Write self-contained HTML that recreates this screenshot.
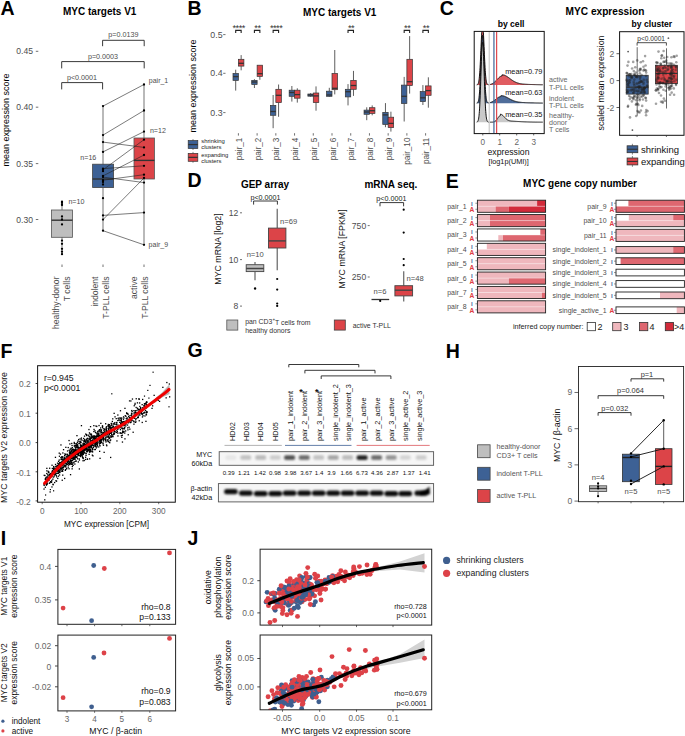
<!DOCTYPE html>
<html><head><meta charset="utf-8"><style>
html,body{margin:0;padding:0;background:#fff;width:685px;height:736px;overflow:hidden}
svg{display:block;font-family:"Liberation Sans",sans-serif}
</style></head><body>
<svg width="685" height="736" viewBox="0 0 685 736">
<rect width="685" height="736" fill="#fff"/>
<text x="0.60" y="14.70" font-size="19.5" text-anchor="start" dominant-baseline="alphabetic" fill="#000" font-weight="bold">A</text>
<text x="99.70" y="11.80" font-size="10" text-anchor="middle" dominant-baseline="central" fill="#000" font-weight="bold">MYC targets V1</text>
<text transform="translate(6.00,120.00) rotate(-90)" font-size="9" text-anchor="middle" dominant-baseline="central" fill="#000">mean expression score</text>
<text x="33.00" y="51.30" font-size="8.6" text-anchor="end" dominant-baseline="central" fill="#4d4d4d">0.45</text>
<line x1="35.80" y1="51.30" x2="38.30" y2="51.30" stroke="#4d4d4d" stroke-width="0.8"/>
<text x="33.00" y="107.20" font-size="8.6" text-anchor="end" dominant-baseline="central" fill="#4d4d4d">0.40</text>
<line x1="35.80" y1="107.20" x2="38.30" y2="107.20" stroke="#4d4d4d" stroke-width="0.8"/>
<text x="33.00" y="163.60" font-size="8.6" text-anchor="end" dominant-baseline="central" fill="#4d4d4d">0.35</text>
<line x1="35.80" y1="163.60" x2="38.30" y2="163.60" stroke="#4d4d4d" stroke-width="0.8"/>
<text x="33.00" y="219.50" font-size="8.6" text-anchor="end" dominant-baseline="central" fill="#4d4d4d">0.30</text>
<line x1="35.80" y1="219.50" x2="38.30" y2="219.50" stroke="#4d4d4d" stroke-width="0.8"/>
<path d="M102.6,46.2 L102.6,40.3 L144.2,40.3 L144.2,46.2" fill="none" stroke="#222" stroke-width="0.9"/>
<text x="123.40" y="34.30" font-size="7.2" text-anchor="middle" dominant-baseline="central" fill="#4d4d4d">p=0.0139</text>
<path d="M61.7,68.4 L61.7,61.6 L144.2,61.6 L144.2,68.4" fill="none" stroke="#222" stroke-width="0.9"/>
<text x="103.00" y="56.00" font-size="7.2" text-anchor="middle" dominant-baseline="central" fill="#4d4d4d">p=0.0003</text>
<path d="M61.7,89.4 L61.7,82.6 L102.6,82.6 L102.6,89.4" fill="none" stroke="#222" stroke-width="0.9"/>
<text x="82.00" y="77.60" font-size="7.2" text-anchor="middle" dominant-baseline="central" fill="#4d4d4d">p&lt;0.0001</text>
<line x1="62.00" y1="201.00" x2="62.00" y2="254.00" stroke="#8a8a8a" stroke-width="1.2"/>
<rect x="51.50" y="210.00" width="21.00" height="27.30" fill="#bebebe" stroke="#555" stroke-width="0.8"/>
<line x1="51.50" y1="220.20" x2="72.50" y2="220.20" stroke="#333" stroke-width="1.4"/>
<circle cx="62.00" cy="201.60" r="1.15" fill="#000"/>
<circle cx="62.00" cy="202.90" r="1.15" fill="#000"/>
<circle cx="62.00" cy="205.00" r="1.15" fill="#000"/>
<circle cx="62.00" cy="216.50" r="1.15" fill="#000"/>
<circle cx="62.00" cy="219.50" r="1.15" fill="#000"/>
<circle cx="62.00" cy="224.40" r="1.15" fill="#000"/>
<circle cx="62.00" cy="240.60" r="1.15" fill="#000"/>
<circle cx="62.00" cy="243.80" r="1.15" fill="#000"/>
<circle cx="62.00" cy="248.80" r="1.15" fill="#000"/>
<circle cx="62.00" cy="251.70" r="1.15" fill="#000"/>
<circle cx="62.00" cy="254.20" r="1.15" fill="#000"/>
<line x1="103.00" y1="106.00" x2="103.00" y2="230.70" stroke="#8a8a8a" stroke-width="1.2"/>
<line x1="144.00" y1="84.50" x2="144.00" y2="244.80" stroke="#8a8a8a" stroke-width="1.2"/>
<rect x="92.60" y="164.20" width="21.00" height="23.40" fill="#3d6195" stroke="#444" stroke-width="0.8"/>
<line x1="92.60" y1="179.00" x2="113.60" y2="179.00" stroke="#333" stroke-width="1.4"/>
<rect x="134.00" y="138.00" width="20.40" height="41.00" fill="#dc4448" stroke="#555" stroke-width="0.8"/>
<line x1="134.00" y1="160.40" x2="154.40" y2="160.40" stroke="#333" stroke-width="1.4"/>
<line x1="103.00" y1="106.10" x2="144.00" y2="84.50" stroke="#222" stroke-width="0.6"/>
<line x1="103.00" y1="135.10" x2="144.00" y2="110.50" stroke="#222" stroke-width="0.6"/>
<line x1="103.00" y1="142.10" x2="144.00" y2="147.40" stroke="#222" stroke-width="0.6"/>
<line x1="103.00" y1="151.90" x2="144.00" y2="131.60" stroke="#222" stroke-width="0.6"/>
<line x1="103.00" y1="168.60" x2="144.00" y2="165.80" stroke="#222" stroke-width="0.6"/>
<line x1="103.00" y1="169.80" x2="144.00" y2="139.70" stroke="#222" stroke-width="0.6"/>
<line x1="103.00" y1="175.90" x2="144.00" y2="155.00" stroke="#222" stroke-width="0.6"/>
<line x1="103.00" y1="180.20" x2="144.00" y2="174.70" stroke="#222" stroke-width="0.6"/>
<line x1="103.00" y1="177.10" x2="144.00" y2="182.60" stroke="#222" stroke-width="0.6"/>
<line x1="103.00" y1="215.40" x2="144.00" y2="212.60" stroke="#222" stroke-width="0.6"/>
<line x1="103.00" y1="219.60" x2="144.00" y2="178.00" stroke="#222" stroke-width="0.6"/>
<line x1="103.00" y1="230.70" x2="144.00" y2="244.80" stroke="#222" stroke-width="0.6"/>
<circle cx="103.00" cy="106.10" r="1.15" fill="#000"/>
<circle cx="103.00" cy="135.10" r="1.15" fill="#000"/>
<circle cx="103.00" cy="142.10" r="1.15" fill="#000"/>
<circle cx="103.00" cy="151.90" r="1.15" fill="#000"/>
<circle cx="103.00" cy="168.60" r="1.15" fill="#000"/>
<circle cx="103.00" cy="169.80" r="1.15" fill="#000"/>
<circle cx="103.00" cy="171.20" r="1.15" fill="#000"/>
<circle cx="103.00" cy="175.90" r="1.15" fill="#000"/>
<circle cx="103.00" cy="177.10" r="1.15" fill="#000"/>
<circle cx="103.00" cy="180.20" r="1.15" fill="#000"/>
<circle cx="103.00" cy="182.00" r="1.15" fill="#000"/>
<circle cx="103.00" cy="184.50" r="1.15" fill="#000"/>
<circle cx="103.00" cy="198.20" r="1.15" fill="#000"/>
<circle cx="103.00" cy="215.40" r="1.15" fill="#000"/>
<circle cx="103.00" cy="219.60" r="1.15" fill="#000"/>
<circle cx="103.00" cy="230.70" r="1.15" fill="#000"/>
<circle cx="144.00" cy="84.50" r="1.15" fill="#000"/>
<circle cx="144.00" cy="110.50" r="1.15" fill="#000"/>
<circle cx="144.00" cy="131.60" r="1.15" fill="#000"/>
<circle cx="144.00" cy="139.70" r="1.15" fill="#000"/>
<circle cx="144.00" cy="147.40" r="1.15" fill="#000"/>
<circle cx="144.00" cy="155.00" r="1.15" fill="#000"/>
<circle cx="144.00" cy="165.80" r="1.15" fill="#000"/>
<circle cx="144.00" cy="174.70" r="1.15" fill="#000"/>
<circle cx="144.00" cy="178.00" r="1.15" fill="#000"/>
<circle cx="144.00" cy="182.60" r="1.15" fill="#000"/>
<circle cx="144.00" cy="212.60" r="1.15" fill="#000"/>
<circle cx="144.00" cy="244.80" r="1.15" fill="#000"/>
<text x="68.40" y="202.10" font-size="7.1" text-anchor="start" dominant-baseline="central" fill="#4d4d4d">n=10</text>
<text x="80.30" y="157.80" font-size="7.1" text-anchor="start" dominant-baseline="central" fill="#4d4d4d">n=16</text>
<text x="149.90" y="130.70" font-size="7.1" text-anchor="start" dominant-baseline="central" fill="#4d4d4d">n=12</text>
<text x="148.80" y="80.60" font-size="7.0" text-anchor="start" dominant-baseline="central" fill="#4d4d4d">pair_1</text>
<text x="148.60" y="244.10" font-size="7.0" text-anchor="start" dominant-baseline="central" fill="#4d4d4d">pair_9</text>
<line x1="62.00" y1="264.50" x2="62.00" y2="267.00" stroke="#4d4d4d" stroke-width="0.8"/>
<line x1="103.00" y1="264.50" x2="103.00" y2="267.00" stroke="#4d4d4d" stroke-width="0.8"/>
<line x1="144.00" y1="264.50" x2="144.00" y2="267.00" stroke="#4d4d4d" stroke-width="0.8"/>
<text transform="translate(56.40,276.50) rotate(-90)" font-size="8.6" text-anchor="end" dominant-baseline="central" fill="#4d4d4d">healthy-donor</text>
<text transform="translate(66.60,276.50) rotate(-90)" font-size="8.6" text-anchor="end" dominant-baseline="central" fill="#4d4d4d">T cells</text>
<text transform="translate(94.90,276.50) rotate(-90)" font-size="8.6" text-anchor="end" dominant-baseline="central" fill="#4d4d4d">indolent</text>
<text transform="translate(105.70,276.50) rotate(-90)" font-size="8.6" text-anchor="end" dominant-baseline="central" fill="#4d4d4d">T-PLL cells</text>
<text transform="translate(134.30,276.50) rotate(-90)" font-size="8.6" text-anchor="end" dominant-baseline="central" fill="#4d4d4d">active</text>
<text transform="translate(144.50,276.50) rotate(-90)" font-size="8.6" text-anchor="end" dominant-baseline="central" fill="#4d4d4d">T-PLL cells</text>
<text x="187.50" y="14.70" font-size="19.5" text-anchor="start" dominant-baseline="alphabetic" fill="#000" font-weight="bold">B</text>
<text x="339.70" y="12.30" font-size="10" text-anchor="middle" dominant-baseline="central" fill="#000" font-weight="bold">MYC targets V1</text>
<text transform="translate(193.00,86.00) rotate(-90)" font-size="9" text-anchor="middle" dominant-baseline="central" fill="#000">mean expression score</text>
<text x="222.60" y="34.60" font-size="8.8" text-anchor="end" dominant-baseline="central" fill="#4d4d4d">0.5</text>
<line x1="223.20" y1="34.60" x2="225.50" y2="34.60" stroke="#4d4d4d" stroke-width="0.8"/>
<text x="222.60" y="73.30" font-size="8.8" text-anchor="end" dominant-baseline="central" fill="#4d4d4d">0.4</text>
<line x1="223.20" y1="73.30" x2="225.50" y2="73.30" stroke="#4d4d4d" stroke-width="0.8"/>
<text x="222.60" y="112.60" font-size="8.8" text-anchor="end" dominant-baseline="central" fill="#4d4d4d">0.3</text>
<line x1="223.20" y1="112.60" x2="225.50" y2="112.60" stroke="#4d4d4d" stroke-width="0.8"/>
<line x1="235.70" y1="69.70" x2="235.70" y2="73.50" stroke="#555" stroke-width="0.95"/>
<line x1="235.70" y1="80.40" x2="235.70" y2="90.60" stroke="#555" stroke-width="0.95"/>
<rect x="233.00" y="73.50" width="5.40" height="6.90" fill="#3d6195" stroke="#333" stroke-width="0.7"/>
<line x1="233.00" y1="76.60" x2="238.40" y2="76.60" stroke="#333" stroke-width="1.3"/>
<line x1="241.15" y1="55.10" x2="241.15" y2="59.30" stroke="#555" stroke-width="0.95"/>
<line x1="241.15" y1="66.10" x2="241.15" y2="70.30" stroke="#555" stroke-width="0.95"/>
<rect x="238.40" y="59.30" width="5.50" height="6.80" fill="#dc4448" stroke="#333" stroke-width="0.7"/>
<line x1="238.40" y1="63.30" x2="243.90" y2="63.30" stroke="#333" stroke-width="1.3"/>
<line x1="238.40" y1="133.20" x2="238.40" y2="135.60" stroke="#4d4d4d" stroke-width="0.8"/>
<text transform="translate(239.50,137.60) rotate(-90)" font-size="8.15" text-anchor="end" dominant-baseline="central" fill="#4d4d4d">pair_1</text>
<path d="M235.70000000000002,33 L235.70000000000002,30.4 L241.15,30.4 L241.15,33" fill="none" stroke="#222" stroke-width="1.1"/>
<text x="238.70" y="27.60" font-size="9.2" text-anchor="middle" dominant-baseline="central" fill="#333" letter-spacing="-0.5">****</text>
<line x1="254.42" y1="79.20" x2="254.42" y2="80.40" stroke="#555" stroke-width="0.95"/>
<line x1="254.42" y1="84.50" x2="254.42" y2="88.00" stroke="#555" stroke-width="0.95"/>
<rect x="251.72" y="80.40" width="5.40" height="4.10" fill="#3d6195" stroke="#333" stroke-width="0.7"/>
<line x1="251.72" y1="82.00" x2="257.12" y2="82.00" stroke="#333" stroke-width="1.3"/>
<line x1="259.87" y1="65.20" x2="259.87" y2="65.20" stroke="#555" stroke-width="0.95"/>
<line x1="259.87" y1="76.40" x2="259.87" y2="79.80" stroke="#555" stroke-width="0.95"/>
<rect x="257.12" y="65.20" width="5.50" height="11.20" fill="#dc4448" stroke="#333" stroke-width="0.7"/>
<line x1="257.12" y1="73.70" x2="262.62" y2="73.70" stroke="#333" stroke-width="1.3"/>
<line x1="257.12" y1="133.20" x2="257.12" y2="135.60" stroke="#4d4d4d" stroke-width="0.8"/>
<text transform="translate(258.22,137.60) rotate(-90)" font-size="8.15" text-anchor="end" dominant-baseline="central" fill="#4d4d4d">pair_2</text>
<path d="M254.42000000000002,33 L254.42000000000002,30.4 L259.87,30.4 L259.87,33" fill="none" stroke="#222" stroke-width="1.1"/>
<text x="257.42" y="27.60" font-size="9.2" text-anchor="middle" dominant-baseline="central" fill="#333" letter-spacing="-0.5">**</text>
<line x1="273.14" y1="95.00" x2="273.14" y2="105.40" stroke="#555" stroke-width="0.95"/>
<line x1="273.14" y1="115.30" x2="273.14" y2="128.20" stroke="#555" stroke-width="0.95"/>
<rect x="270.44" y="105.40" width="5.40" height="9.90" fill="#3d6195" stroke="#333" stroke-width="0.7"/>
<line x1="270.44" y1="111.50" x2="275.84" y2="111.50" stroke="#333" stroke-width="1.3"/>
<line x1="278.59" y1="84.50" x2="278.59" y2="89.30" stroke="#555" stroke-width="0.95"/>
<line x1="278.59" y1="102.60" x2="278.59" y2="116.80" stroke="#555" stroke-width="0.95"/>
<rect x="275.84" y="89.30" width="5.50" height="13.30" fill="#dc4448" stroke="#333" stroke-width="0.7"/>
<line x1="275.84" y1="95.30" x2="281.34" y2="95.30" stroke="#333" stroke-width="1.3"/>
<line x1="275.84" y1="133.20" x2="275.84" y2="135.60" stroke="#4d4d4d" stroke-width="0.8"/>
<text transform="translate(276.94,137.60) rotate(-90)" font-size="8.15" text-anchor="end" dominant-baseline="central" fill="#4d4d4d">pair_3</text>
<path d="M273.14000000000004,33 L273.14000000000004,30.4 L278.59000000000003,30.4 L278.59000000000003,33" fill="none" stroke="#222" stroke-width="1.1"/>
<text x="276.14" y="27.60" font-size="9.2" text-anchor="middle" dominant-baseline="central" fill="#333" letter-spacing="-0.5">****</text>
<line x1="291.86" y1="86.00" x2="291.86" y2="90.20" stroke="#555" stroke-width="0.95"/>
<line x1="291.86" y1="96.30" x2="291.86" y2="101.60" stroke="#555" stroke-width="0.95"/>
<rect x="289.16" y="90.20" width="5.40" height="6.10" fill="#3d6195" stroke="#333" stroke-width="0.7"/>
<line x1="289.16" y1="92.50" x2="294.56" y2="92.50" stroke="#333" stroke-width="1.3"/>
<line x1="297.31" y1="88.30" x2="297.31" y2="90.20" stroke="#555" stroke-width="0.95"/>
<line x1="297.31" y1="98.20" x2="297.31" y2="102.60" stroke="#555" stroke-width="0.95"/>
<rect x="294.56" y="90.20" width="5.50" height="8.00" fill="#dc4448" stroke="#333" stroke-width="0.7"/>
<line x1="294.56" y1="94.60" x2="300.06" y2="94.60" stroke="#333" stroke-width="1.3"/>
<line x1="294.56" y1="133.20" x2="294.56" y2="135.60" stroke="#4d4d4d" stroke-width="0.8"/>
<text transform="translate(295.66,137.60) rotate(-90)" font-size="8.15" text-anchor="end" dominant-baseline="central" fill="#4d4d4d">pair_4</text>
<line x1="310.58" y1="93.20" x2="310.58" y2="94.00" stroke="#555" stroke-width="0.95"/>
<line x1="310.58" y1="96.20" x2="310.58" y2="96.80" stroke="#555" stroke-width="0.95"/>
<rect x="307.88" y="94.00" width="5.40" height="2.20" fill="#3d6195" stroke="#333" stroke-width="0.7"/>
<line x1="307.88" y1="95.00" x2="313.28" y2="95.00" stroke="#333" stroke-width="1.3"/>
<line x1="316.03" y1="86.40" x2="316.03" y2="93.00" stroke="#555" stroke-width="0.95"/>
<line x1="316.03" y1="102.60" x2="316.03" y2="110.70" stroke="#555" stroke-width="0.95"/>
<rect x="313.28" y="93.00" width="5.50" height="9.60" fill="#dc4448" stroke="#333" stroke-width="0.7"/>
<line x1="313.28" y1="95.90" x2="318.78" y2="95.90" stroke="#333" stroke-width="1.3"/>
<line x1="313.28" y1="133.20" x2="313.28" y2="135.60" stroke="#4d4d4d" stroke-width="0.8"/>
<text transform="translate(314.38,137.60) rotate(-90)" font-size="8.15" text-anchor="end" dominant-baseline="central" fill="#4d4d4d">pair_5</text>
<line x1="329.30" y1="87.80" x2="329.30" y2="91.20" stroke="#555" stroke-width="0.95"/>
<line x1="329.30" y1="96.30" x2="329.30" y2="96.90" stroke="#555" stroke-width="0.95"/>
<rect x="326.60" y="91.20" width="5.40" height="5.10" fill="#3d6195" stroke="#333" stroke-width="0.7"/>
<line x1="326.60" y1="95.00" x2="332.00" y2="95.00" stroke="#333" stroke-width="1.3"/>
<line x1="334.75" y1="50.00" x2="334.75" y2="73.50" stroke="#555" stroke-width="0.95"/>
<line x1="334.75" y1="89.70" x2="334.75" y2="94.40" stroke="#555" stroke-width="0.95"/>
<rect x="332.00" y="73.50" width="5.50" height="16.20" fill="#dc4448" stroke="#333" stroke-width="0.7"/>
<line x1="332.00" y1="88.30" x2="337.50" y2="88.30" stroke="#333" stroke-width="1.3"/>
<line x1="332.00" y1="133.20" x2="332.00" y2="135.60" stroke="#4d4d4d" stroke-width="0.8"/>
<text transform="translate(333.10,137.60) rotate(-90)" font-size="8.15" text-anchor="end" dominant-baseline="central" fill="#4d4d4d">pair_6</text>
<line x1="348.02" y1="84.10" x2="348.02" y2="89.30" stroke="#555" stroke-width="0.95"/>
<line x1="348.02" y1="96.90" x2="348.02" y2="105.40" stroke="#555" stroke-width="0.95"/>
<rect x="345.32" y="89.30" width="5.40" height="7.60" fill="#3d6195" stroke="#333" stroke-width="0.7"/>
<line x1="345.32" y1="91.70" x2="350.72" y2="91.70" stroke="#333" stroke-width="1.3"/>
<line x1="353.47" y1="70.90" x2="353.47" y2="80.40" stroke="#555" stroke-width="0.95"/>
<line x1="353.47" y1="89.30" x2="353.47" y2="95.90" stroke="#555" stroke-width="0.95"/>
<rect x="350.72" y="80.40" width="5.50" height="8.90" fill="#dc4448" stroke="#333" stroke-width="0.7"/>
<line x1="350.72" y1="85.50" x2="356.22" y2="85.50" stroke="#333" stroke-width="1.3"/>
<line x1="350.72" y1="133.20" x2="350.72" y2="135.60" stroke="#4d4d4d" stroke-width="0.8"/>
<text transform="translate(351.82,137.60) rotate(-90)" font-size="8.15" text-anchor="end" dominant-baseline="central" fill="#4d4d4d">pair_7</text>
<path d="M348.02000000000004,33 L348.02000000000004,30.4 L353.47,30.4 L353.47,33" fill="none" stroke="#222" stroke-width="1.1"/>
<text x="351.02" y="27.60" font-size="9.2" text-anchor="middle" dominant-baseline="central" fill="#333" letter-spacing="-0.5">**</text>
<line x1="366.74" y1="107.30" x2="366.74" y2="110.10" stroke="#555" stroke-width="0.95"/>
<line x1="366.74" y1="114.30" x2="366.74" y2="120.20" stroke="#555" stroke-width="0.95"/>
<rect x="364.04" y="110.10" width="5.40" height="4.20" fill="#3d6195" stroke="#333" stroke-width="0.7"/>
<line x1="364.04" y1="112.00" x2="369.44" y2="112.00" stroke="#333" stroke-width="1.3"/>
<line x1="372.19" y1="105.40" x2="372.19" y2="107.70" stroke="#555" stroke-width="0.95"/>
<line x1="372.19" y1="113.40" x2="372.19" y2="115.30" stroke="#555" stroke-width="0.95"/>
<rect x="369.44" y="107.70" width="5.50" height="5.70" fill="#dc4448" stroke="#333" stroke-width="0.7"/>
<line x1="369.44" y1="110.70" x2="374.94" y2="110.70" stroke="#333" stroke-width="1.3"/>
<line x1="369.44" y1="133.20" x2="369.44" y2="135.60" stroke="#4d4d4d" stroke-width="0.8"/>
<text transform="translate(370.54,137.60) rotate(-90)" font-size="8.15" text-anchor="end" dominant-baseline="central" fill="#4d4d4d">pair_8</text>
<line x1="385.46" y1="103.10" x2="385.46" y2="112.40" stroke="#555" stroke-width="0.95"/>
<line x1="385.46" y1="124.40" x2="385.46" y2="127.20" stroke="#555" stroke-width="0.95"/>
<rect x="382.76" y="112.40" width="5.40" height="12.00" fill="#3d6195" stroke="#333" stroke-width="0.7"/>
<line x1="382.76" y1="114.90" x2="388.16" y2="114.90" stroke="#333" stroke-width="1.3"/>
<line x1="390.91" y1="111.70" x2="390.91" y2="117.20" stroke="#555" stroke-width="0.95"/>
<line x1="390.91" y1="127.60" x2="390.91" y2="131.60" stroke="#555" stroke-width="0.95"/>
<rect x="388.16" y="117.20" width="5.50" height="10.40" fill="#dc4448" stroke="#333" stroke-width="0.7"/>
<line x1="388.16" y1="123.40" x2="393.66" y2="123.40" stroke="#333" stroke-width="1.3"/>
<line x1="388.16" y1="133.20" x2="388.16" y2="135.60" stroke="#4d4d4d" stroke-width="0.8"/>
<text transform="translate(389.26,137.60) rotate(-90)" font-size="8.15" text-anchor="end" dominant-baseline="central" fill="#4d4d4d">pair_9</text>
<line x1="404.18" y1="76.90" x2="404.18" y2="85.10" stroke="#555" stroke-width="0.95"/>
<line x1="404.18" y1="103.50" x2="404.18" y2="121.50" stroke="#555" stroke-width="0.95"/>
<rect x="401.48" y="85.10" width="5.40" height="18.40" fill="#3d6195" stroke="#333" stroke-width="0.7"/>
<line x1="401.48" y1="96.30" x2="406.88" y2="96.30" stroke="#333" stroke-width="1.3"/>
<line x1="409.63" y1="36.10" x2="409.63" y2="59.30" stroke="#555" stroke-width="0.95"/>
<line x1="409.63" y1="85.50" x2="409.63" y2="93.60" stroke="#555" stroke-width="0.95"/>
<rect x="406.88" y="59.30" width="5.50" height="26.20" fill="#dc4448" stroke="#333" stroke-width="0.7"/>
<line x1="406.88" y1="81.70" x2="412.38" y2="81.70" stroke="#333" stroke-width="1.3"/>
<line x1="406.88" y1="133.20" x2="406.88" y2="135.60" stroke="#4d4d4d" stroke-width="0.8"/>
<text transform="translate(407.98,137.60) rotate(-90)" font-size="8.15" text-anchor="end" dominant-baseline="central" fill="#4d4d4d">pair_10</text>
<path d="M404.18,33 L404.18,30.4 L409.63,30.4 L409.63,33" fill="none" stroke="#222" stroke-width="1.1"/>
<text x="407.18" y="27.60" font-size="9.2" text-anchor="middle" dominant-baseline="central" fill="#333" letter-spacing="-0.5">**</text>
<line x1="422.90" y1="85.10" x2="422.90" y2="91.60" stroke="#555" stroke-width="0.95"/>
<line x1="422.90" y1="101.60" x2="422.90" y2="105.00" stroke="#555" stroke-width="0.95"/>
<rect x="420.20" y="91.60" width="5.40" height="10.00" fill="#3d6195" stroke="#333" stroke-width="0.7"/>
<line x1="420.20" y1="97.80" x2="425.60" y2="97.80" stroke="#333" stroke-width="1.3"/>
<line x1="428.35" y1="77.30" x2="428.35" y2="85.90" stroke="#555" stroke-width="0.95"/>
<line x1="428.35" y1="95.30" x2="428.35" y2="107.70" stroke="#555" stroke-width="0.95"/>
<rect x="425.60" y="85.90" width="5.50" height="9.40" fill="#dc4448" stroke="#333" stroke-width="0.7"/>
<line x1="425.60" y1="90.60" x2="431.10" y2="90.60" stroke="#333" stroke-width="1.3"/>
<line x1="425.60" y1="133.20" x2="425.60" y2="135.60" stroke="#4d4d4d" stroke-width="0.8"/>
<text transform="translate(426.70,137.60) rotate(-90)" font-size="8.15" text-anchor="end" dominant-baseline="central" fill="#4d4d4d">pair_11</text>
<path d="M422.90000000000003,33 L422.90000000000003,30.4 L428.35,30.4 L428.35,33" fill="none" stroke="#222" stroke-width="1.1"/>
<text x="425.90" y="27.60" font-size="9.2" text-anchor="middle" dominant-baseline="central" fill="#333" letter-spacing="-0.5">**</text>
<line x1="193.00" y1="139.10" x2="193.00" y2="150.00" stroke="#555" stroke-width="0.7"/>
<rect x="188.20" y="140.60" width="9.60" height="7.90" fill="#3d6195" stroke="#333" stroke-width="0.7"/>
<line x1="188.20" y1="144.55" x2="197.80" y2="144.55" stroke="#333" stroke-width="1.2"/>
<line x1="193.00" y1="151.90" x2="193.00" y2="162.80" stroke="#555" stroke-width="0.7"/>
<rect x="188.20" y="153.40" width="9.60" height="7.90" fill="#dc4448" stroke="#333" stroke-width="0.7"/>
<line x1="188.20" y1="157.35" x2="197.80" y2="157.35" stroke="#333" stroke-width="1.2"/>
<text x="201.20" y="141.40" font-size="5.9" text-anchor="start" dominant-baseline="central" fill="#222">shrinking</text>
<text x="201.20" y="146.80" font-size="5.9" text-anchor="start" dominant-baseline="central" fill="#222">clusters</text>
<text x="201.20" y="155.20" font-size="5.9" text-anchor="start" dominant-baseline="central" fill="#222">expanding</text>
<text x="201.20" y="160.50" font-size="5.9" text-anchor="start" dominant-baseline="central" fill="#222">clusters</text>
<text x="439.80" y="14.70" font-size="19.5" text-anchor="start" dominant-baseline="alphabetic" fill="#000" font-weight="bold">C</text>
<text x="605.00" y="11.10" font-size="10.15" text-anchor="middle" dominant-baseline="central" fill="#000" font-weight="bold">MYC expression</text>
<text x="511.05" y="24.10" font-size="8.6" text-anchor="middle" dominant-baseline="central" fill="#000" font-weight="bold">by cell</text>
<text x="651.90" y="24.10" font-size="8.6" text-anchor="middle" dominant-baseline="central" fill="#000" font-weight="bold">by cluster</text>
<clipPath id="cc"><rect x="474.2" y="31.4" width="70.00000000000006" height="102.19999999999999"/></clipPath>
<g clip-path="url(#cc)">
<path d="M476.71,84.93 L476.88,84.90 L477.04,84.86 L477.21,84.79 L477.38,84.71 L477.54,84.59 L477.71,84.43 L477.88,84.22 L478.05,83.94 L478.21,83.58 L478.38,83.12 L478.55,82.53 L478.72,81.80 L478.88,80.89 L479.05,79.79 L479.22,78.46 L479.38,76.88 L479.55,75.03 L479.72,72.90 L479.89,70.47 L480.05,67.75 L480.22,64.74 L480.39,61.47 L480.56,57.98 L480.72,54.31 L480.89,50.52 L481.06,46.69 L481.23,42.91 L481.39,39.26 L481.56,35.85 L481.73,32.76 L481.89,30.09 L482.06,27.92 L482.23,26.31 L482.40,25.33 L482.56,25.00 L482.73,25.33 L482.90,26.31 L483.07,27.91 L483.23,30.08 L483.40,32.75 L483.57,35.84 L483.73,39.25 L483.90,42.90 L484.07,46.68 L484.24,50.51 L484.40,54.29 L484.57,57.96 L484.74,61.45 L484.91,64.72 L485.07,67.72 L485.24,70.44 L485.41,72.86 L485.57,74.99 L485.74,76.84 L485.91,78.41 L486.08,79.73 L486.24,80.83 L486.41,81.73 L486.58,82.46 L486.75,83.04 L486.91,83.49 L487.08,83.84 L487.25,84.11 L487.42,84.31 L487.58,84.46 L487.75,84.56 L487.92,84.63 L488.08,84.68 L488.25,84.70 L488.42,84.72 L488.59,84.72 L488.75,84.71 L488.92,84.70 L489.09,84.68 L489.26,84.66 L489.42,84.63 L489.59,84.60 L489.76,84.57 L489.92,84.53 L490.09,84.49 L490.26,84.45 L490.43,84.41 L490.59,84.36 L490.76,84.31 L490.93,84.26 L491.10,84.20 L491.26,84.14 L491.43,84.08 L491.60,84.01 L491.76,83.94 L491.93,83.86 L492.10,83.78 L492.27,83.70 L492.43,83.61 L492.60,83.52 L492.77,83.42 L492.94,83.32 L493.10,83.22 L493.27,83.11 L493.44,83.00 L493.61,82.88 L493.77,82.76 L493.94,82.63 L494.11,82.50 L494.27,82.36 L494.44,82.22 L494.61,82.08 L494.78,81.93 L494.94,81.78 L495.11,81.62 L495.28,81.46 L495.45,81.30 L495.61,81.13 L495.78,80.97 L495.95,80.79 L496.11,80.62 L496.28,80.44 L496.45,80.26 L496.62,80.09 L496.78,79.90 L496.95,79.72 L497.12,79.54 L497.29,79.36 L497.45,79.18 L497.62,79.00 L497.79,78.82 L497.96,78.64 L498.12,78.46 L498.29,78.29 L498.46,78.12 L498.62,77.96 L498.79,77.79 L498.96,77.64 L499.13,77.48 L499.29,77.33 L499.46,77.19 L499.63,77.06 L499.80,76.93 L499.96,76.81 L500.13,76.69 L500.30,76.59 L500.46,76.49 L500.63,76.40 L500.80,76.31 L500.97,76.24 L501.13,76.18 L501.30,76.12 L501.47,76.08 L501.64,76.04 L501.80,76.02 L501.97,76.00 L502.14,74.80 L502.30,74.80 L502.47,74.81 L502.64,74.82 L502.81,74.84 L502.97,74.86 L503.14,74.88 L503.31,74.91 L503.48,74.94 L503.64,74.98 L503.81,75.02 L503.98,75.07 L504.15,75.12 L504.31,75.17 L504.48,75.23 L504.65,75.29 L504.81,75.36 L504.98,75.43 L505.15,75.50 L505.32,75.58 L505.48,75.66 L505.65,75.74 L505.82,75.83 L505.99,75.92 L506.15,76.01 L506.32,76.11 L506.49,76.21 L506.65,76.31 L506.82,76.41 L506.99,76.52 L507.16,76.62 L507.32,76.73 L507.49,76.85 L507.66,76.96 L507.83,77.08 L507.99,77.19 L508.16,77.31 L508.33,77.43 L508.50,77.55 L508.66,77.67 L508.83,77.79 L509.00,77.92 L509.16,78.04 L509.33,78.16 L509.50,78.29 L509.67,78.41 L509.83,78.54 L510.00,78.66 L510.17,78.78 L510.34,78.91 L510.50,79.03 L510.67,79.15 L510.84,79.28 L511.00,79.40 L511.17,79.52 L511.34,79.64 L511.51,79.76 L511.67,79.87 L511.84,79.99 L512.01,80.11 L512.18,80.22 L512.34,80.33 L512.51,80.45 L512.68,80.56 L512.84,80.66 L513.01,80.77 L513.18,80.88 L513.35,80.98 L513.51,81.08 L513.68,81.18 L513.85,81.28 L514.02,81.37 L514.18,81.47 L514.35,81.56 L514.52,81.65 L514.69,81.74 L514.85,81.83 L515.02,81.91 L515.19,81.99 L515.35,82.07 L515.52,82.15 L515.69,82.23 L515.86,82.31 L516.02,82.38 L516.19,82.45 L516.36,82.52 L516.53,82.59 L516.69,82.65 L516.86,82.72 L517.03,82.78 L517.19,82.84 L517.36,82.90 L517.53,82.95 L517.70,83.01 L517.86,83.06 L518.03,83.11 L518.20,83.16 L518.37,83.21 L518.53,83.26 L518.70,83.30 L518.87,83.35 L519.03,83.39 L519.20,83.43 L519.37,83.47 L519.54,83.51 L519.70,83.54 L519.87,83.58 L520.04,83.61 L520.21,83.64 L520.37,83.68 L520.54,83.71 L520.71,83.74 L520.88,83.77 L521.04,83.79 L521.21,83.82 L521.38,83.84 L521.54,83.87 L521.71,83.89 L521.88,83.92 L522.05,83.94 L522.21,83.96 L522.38,83.98 L522.55,84.00 L522.72,84.02 L522.88,84.04 L523.05,84.05 L523.22,84.07 L523.38,84.09 L523.55,84.10 L523.72,84.12 L523.89,84.13 L524.05,84.15 L524.22,84.16 L524.39,84.17 L524.56,84.19 L524.72,84.20 L524.89,84.21 L525.06,84.22 L525.22,84.24 L525.39,84.25 L525.56,84.26 L525.73,84.27 L525.89,84.28 L526.06,84.29 L526.23,84.30 L526.40,84.31 L526.56,84.31 L526.73,84.32 L526.90,84.33 L527.07,84.34 L527.23,84.35 L527.40,84.36 L527.57,84.36 L527.73,84.37 L527.90,84.38 L528.07,84.39 L528.24,84.39 L528.40,84.40 L528.57,84.41 L528.74,84.41 L528.91,84.42 L529.07,84.43 L529.24,84.43 L529.41,84.44 L529.57,84.45 L529.74,84.45 L529.91,84.46 L530.08,84.46 L530.24,84.47 L530.41,84.48 L530.58,84.48 L530.75,84.49 L530.91,84.49 L531.08,84.50 L531.25,84.50 L531.42,84.51 L531.58,84.52 L531.75,84.52 L531.92,84.53 L532.08,84.53 L532.25,84.54 L532.42,84.54 L532.59,84.55 L532.75,84.55 L532.92,84.56 L533.09,84.56 L533.26,84.57 L533.42,84.57 L533.59,84.58 L533.76,84.58 L533.92,84.59 L534.09,84.59 L534.26,84.60 L534.43,84.60 L534.59,84.61 L534.76,84.61 L534.93,84.61 L535.10,84.62 L535.26,84.62 L535.43,84.63 L535.60,84.63 L535.76,84.64 L535.93,84.64 L536.10,84.65 L536.27,84.65 L536.43,84.65 L536.60,84.66 L536.77,84.66 L536.94,84.67 L537.10,84.67 L537.27,84.67 L537.44,84.68 L537.61,84.68 L537.77,84.69 L537.94,84.69 L538.11,84.69 L538.27,84.70 L538.44,84.70 L538.61,84.71 L538.78,84.71 L538.94,84.71 L539.11,84.72 L539.28,84.72 L539.45,84.72 L539.61,84.73 L539.78,84.73 L539.95,84.74 L540.11,84.74 L540.28,84.74 L540.45,84.75 L540.62,84.75 L540.78,84.75 L540.95,84.76 L541.12,84.76 L541.29,84.76 L541.45,84.77 L541.62,84.77 L541.79,84.77 L541.95,84.78 L542.12,84.78 L542.29,84.78 L542.46,84.78 L542.62,84.79 L542.79,84.79 L542.79,85.0 L476.71,85.0 Z" fill="#e05c61" stroke="none" stroke-width="0"/>
<path d="M476.71,84.93 L476.88,84.90 L477.04,84.86 L477.21,84.79 L477.38,84.71 L477.54,84.59 L477.71,84.43 L477.88,84.22 L478.05,83.94 L478.21,83.58 L478.38,83.12 L478.55,82.53 L478.72,81.80 L478.88,80.89 L479.05,79.79 L479.22,78.46 L479.38,76.88 L479.55,75.03 L479.72,72.90 L479.89,70.47 L480.05,67.75 L480.22,64.74 L480.39,61.47 L480.56,57.98 L480.72,54.31 L480.89,50.52 L481.06,46.69 L481.23,42.91 L481.39,39.26 L481.56,35.85 L481.73,32.76 L481.89,30.09 L482.06,27.92 L482.23,26.31 L482.40,25.33 L482.56,25.00 L482.73,25.33 L482.90,26.31 L483.07,27.91 L483.23,30.08 L483.40,32.75 L483.57,35.84 L483.73,39.25 L483.90,42.90 L484.07,46.68 L484.24,50.51 L484.40,54.29 L484.57,57.96 L484.74,61.45 L484.91,64.72 L485.07,67.72 L485.24,70.44 L485.41,72.86 L485.57,74.99 L485.74,76.84 L485.91,78.41 L486.08,79.73 L486.24,80.83 L486.41,81.73 L486.58,82.46 L486.75,83.04 L486.91,83.49 L487.08,83.84 L487.25,84.11 L487.42,84.31 L487.58,84.46 L487.75,84.56 L487.92,84.63 L488.08,84.68 L488.25,84.70 L488.42,84.72 L488.59,84.72 L488.75,84.71 L488.92,84.70 L489.09,84.68 L489.26,84.66 L489.42,84.63 L489.59,84.60 L489.76,84.57 L489.92,84.53 L490.09,84.49 L490.26,84.45 L490.43,84.41 L490.59,84.36 L490.76,84.31 L490.93,84.26 L491.10,84.20 L491.26,84.14 L491.43,84.08 L491.60,84.01 L491.76,83.94 L491.93,83.86 L492.10,83.78 L492.27,83.70 L492.43,83.61 L492.60,83.52 L492.77,83.42 L492.94,83.32 L493.10,83.22 L493.27,83.11 L493.44,83.00 L493.61,82.88 L493.77,82.76 L493.94,82.63 L494.11,82.50 L494.27,82.36 L494.44,82.22 L494.61,82.08 L494.78,81.93 L494.94,81.78 L495.11,81.62 L495.28,81.46 L495.45,81.30 L495.61,81.13 L495.78,80.97 L495.95,80.79 L496.11,80.62 L496.28,80.44 L496.45,80.26 L496.62,80.09 L496.78,79.90 L496.95,79.72 L497.12,79.54 L497.29,79.36 L497.45,79.18 L497.62,79.00 L497.79,78.82 L497.96,78.64 L498.12,78.46 L498.29,78.29 L498.46,78.12 L498.62,77.96 L498.79,77.79 L498.96,77.64 L499.13,77.48 L499.29,77.33 L499.46,77.19 L499.63,77.06 L499.80,76.93 L499.96,76.81 L500.13,76.69 L500.30,76.59 L500.46,76.49 L500.63,76.40 L500.80,76.31 L500.97,76.24 L501.13,76.18 L501.30,76.12 L501.47,76.08 L501.64,76.04 L501.80,76.02 L501.97,76.00 L502.14,74.80 L502.30,74.80 L502.47,74.81 L502.64,74.82 L502.81,74.84 L502.97,74.86 L503.14,74.88 L503.31,74.91 L503.48,74.94 L503.64,74.98 L503.81,75.02 L503.98,75.07 L504.15,75.12 L504.31,75.17 L504.48,75.23 L504.65,75.29 L504.81,75.36 L504.98,75.43 L505.15,75.50 L505.32,75.58 L505.48,75.66 L505.65,75.74 L505.82,75.83 L505.99,75.92 L506.15,76.01 L506.32,76.11 L506.49,76.21 L506.65,76.31 L506.82,76.41 L506.99,76.52 L507.16,76.62 L507.32,76.73 L507.49,76.85 L507.66,76.96 L507.83,77.08 L507.99,77.19 L508.16,77.31 L508.33,77.43 L508.50,77.55 L508.66,77.67 L508.83,77.79 L509.00,77.92 L509.16,78.04 L509.33,78.16 L509.50,78.29 L509.67,78.41 L509.83,78.54 L510.00,78.66 L510.17,78.78 L510.34,78.91 L510.50,79.03 L510.67,79.15 L510.84,79.28 L511.00,79.40 L511.17,79.52 L511.34,79.64 L511.51,79.76 L511.67,79.87 L511.84,79.99 L512.01,80.11 L512.18,80.22 L512.34,80.33 L512.51,80.45 L512.68,80.56 L512.84,80.66 L513.01,80.77 L513.18,80.88 L513.35,80.98 L513.51,81.08 L513.68,81.18 L513.85,81.28 L514.02,81.37 L514.18,81.47 L514.35,81.56 L514.52,81.65 L514.69,81.74 L514.85,81.83 L515.02,81.91 L515.19,81.99 L515.35,82.07 L515.52,82.15 L515.69,82.23 L515.86,82.31 L516.02,82.38 L516.19,82.45 L516.36,82.52 L516.53,82.59 L516.69,82.65 L516.86,82.72 L517.03,82.78 L517.19,82.84 L517.36,82.90 L517.53,82.95 L517.70,83.01 L517.86,83.06 L518.03,83.11 L518.20,83.16 L518.37,83.21 L518.53,83.26 L518.70,83.30 L518.87,83.35 L519.03,83.39 L519.20,83.43 L519.37,83.47 L519.54,83.51 L519.70,83.54 L519.87,83.58 L520.04,83.61 L520.21,83.64 L520.37,83.68 L520.54,83.71 L520.71,83.74 L520.88,83.77 L521.04,83.79 L521.21,83.82 L521.38,83.84 L521.54,83.87 L521.71,83.89 L521.88,83.92 L522.05,83.94 L522.21,83.96 L522.38,83.98 L522.55,84.00 L522.72,84.02 L522.88,84.04 L523.05,84.05 L523.22,84.07 L523.38,84.09 L523.55,84.10 L523.72,84.12 L523.89,84.13 L524.05,84.15 L524.22,84.16 L524.39,84.17 L524.56,84.19 L524.72,84.20 L524.89,84.21 L525.06,84.22 L525.22,84.24 L525.39,84.25 L525.56,84.26 L525.73,84.27 L525.89,84.28 L526.06,84.29 L526.23,84.30 L526.40,84.31 L526.56,84.31 L526.73,84.32 L526.90,84.33 L527.07,84.34 L527.23,84.35 L527.40,84.36 L527.57,84.36 L527.73,84.37 L527.90,84.38 L528.07,84.39 L528.24,84.39 L528.40,84.40 L528.57,84.41 L528.74,84.41 L528.91,84.42 L529.07,84.43 L529.24,84.43 L529.41,84.44 L529.57,84.45 L529.74,84.45 L529.91,84.46 L530.08,84.46 L530.24,84.47 L530.41,84.48 L530.58,84.48 L530.75,84.49 L530.91,84.49 L531.08,84.50 L531.25,84.50 L531.42,84.51 L531.58,84.52 L531.75,84.52 L531.92,84.53 L532.08,84.53 L532.25,84.54 L532.42,84.54 L532.59,84.55 L532.75,84.55 L532.92,84.56 L533.09,84.56 L533.26,84.57 L533.42,84.57 L533.59,84.58 L533.76,84.58 L533.92,84.59 L534.09,84.59 L534.26,84.60 L534.43,84.60 L534.59,84.61 L534.76,84.61 L534.93,84.61 L535.10,84.62 L535.26,84.62 L535.43,84.63 L535.60,84.63 L535.76,84.64 L535.93,84.64 L536.10,84.65 L536.27,84.65 L536.43,84.65 L536.60,84.66 L536.77,84.66 L536.94,84.67 L537.10,84.67 L537.27,84.67 L537.44,84.68 L537.61,84.68 L537.77,84.69 L537.94,84.69 L538.11,84.69 L538.27,84.70 L538.44,84.70 L538.61,84.71 L538.78,84.71 L538.94,84.71 L539.11,84.72 L539.28,84.72 L539.45,84.72 L539.61,84.73 L539.78,84.73 L539.95,84.74 L540.11,84.74 L540.28,84.74 L540.45,84.75 L540.62,84.75 L540.78,84.75 L540.95,84.76 L541.12,84.76 L541.29,84.76 L541.45,84.77 L541.62,84.77 L541.79,84.77 L541.95,84.78 L542.12,84.78 L542.29,84.78 L542.46,84.78 L542.62,84.79 L542.79,84.79" fill="none" stroke="#111" stroke-width="1.0"/>
<path d="M476.71,103.12 L476.88,103.09 L477.04,103.04 L477.21,102.97 L477.38,102.87 L477.54,102.74 L477.71,102.56 L477.88,102.32 L478.05,102.00 L478.21,101.59 L478.38,101.07 L478.55,100.40 L478.72,99.57 L478.88,98.54 L479.05,97.29 L479.22,95.78 L479.38,94.00 L479.55,91.90 L479.72,89.49 L479.89,86.73 L480.05,83.65 L480.22,80.24 L480.39,76.54 L480.56,72.58 L480.72,68.41 L480.89,64.12 L481.06,59.78 L481.23,55.50 L481.39,51.36 L481.56,47.49 L481.73,43.99 L481.89,40.96 L482.06,38.50 L482.23,36.68 L482.40,35.57 L482.56,35.19 L482.73,35.57 L482.90,36.68 L483.07,38.50 L483.23,40.96 L483.40,43.98 L483.57,47.48 L483.73,51.35 L483.90,55.48 L484.07,59.76 L484.24,64.10 L484.40,68.39 L484.57,72.55 L484.74,76.50 L484.91,80.20 L485.07,83.61 L485.24,86.69 L485.41,89.43 L485.57,91.84 L485.74,93.93 L485.91,95.71 L486.08,97.21 L486.24,98.46 L486.41,99.47 L486.58,100.30 L486.75,100.95 L486.91,101.46 L487.08,101.86 L487.25,102.16 L487.42,102.38 L487.58,102.55 L487.75,102.66 L487.92,102.74 L488.08,102.79 L488.25,102.82 L488.42,102.83 L488.59,102.83 L488.75,102.82 L488.92,102.81 L489.09,102.78 L489.26,102.76 L489.42,102.73 L489.59,102.69 L489.76,102.65 L489.92,102.61 L490.09,102.57 L490.26,102.52 L490.43,102.47 L490.59,102.42 L490.76,102.36 L490.93,102.31 L491.10,102.25 L491.26,102.18 L491.43,102.11 L491.60,102.04 L491.76,101.97 L491.93,101.89 L492.10,101.81 L492.27,101.73 L492.43,101.64 L492.60,101.55 L492.77,101.46 L492.94,101.36 L493.10,101.27 L493.27,101.16 L493.44,101.06 L493.61,100.95 L493.77,100.84 L493.94,100.72 L494.11,100.61 L494.27,100.49 L494.44,100.36 L494.61,100.24 L494.78,100.12 L494.94,99.99 L495.11,99.86 L495.28,99.73 L495.45,99.60 L495.61,99.46 L495.78,99.33 L495.95,99.20 L496.11,99.06 L496.28,98.93 L496.45,98.80 L496.62,98.67 L496.78,98.54 L496.95,98.41 L497.12,98.28 L497.29,98.16 L497.45,98.03 L497.62,97.92 L497.79,97.80 L497.96,97.69 L498.12,97.58 L498.29,97.47 L498.46,97.38 L498.62,97.28 L498.79,97.19 L498.96,97.11 L499.13,97.03 L499.29,96.96 L499.46,96.89 L499.63,96.83 L499.80,96.78 L499.96,96.73 L500.13,96.69 L500.30,96.66 L500.46,96.63 L500.63,96.61 L500.80,96.60 L500.97,95.60 L501.13,95.60 L501.30,95.61 L501.47,95.61 L501.64,95.63 L501.80,95.64 L501.97,95.66 L502.14,95.68 L502.30,95.71 L502.47,95.73 L502.64,95.76 L502.81,95.80 L502.97,95.83 L503.14,95.87 L503.31,95.92 L503.48,95.96 L503.64,96.01 L503.81,96.06 L503.98,96.12 L504.15,96.17 L504.31,96.23 L504.48,96.29 L504.65,96.36 L504.81,96.42 L504.98,96.49 L505.15,96.56 L505.32,96.63 L505.48,96.71 L505.65,96.78 L505.82,96.86 L505.99,96.94 L506.15,97.02 L506.32,97.10 L506.49,97.19 L506.65,97.27 L506.82,97.36 L506.99,97.45 L507.16,97.53 L507.32,97.62 L507.49,97.71 L507.66,97.80 L507.83,97.89 L507.99,97.98 L508.16,98.07 L508.33,98.16 L508.50,98.26 L508.66,98.35 L508.83,98.44 L509.00,98.53 L509.16,98.62 L509.33,98.71 L509.50,98.80 L509.67,98.89 L509.83,98.98 L510.00,99.07 L510.17,99.16 L510.34,99.25 L510.50,99.33 L510.67,99.42 L510.84,99.50 L511.00,99.59 L511.17,99.67 L511.34,99.75 L511.51,99.83 L511.67,99.91 L511.84,99.99 L512.01,100.07 L512.18,100.15 L512.34,100.22 L512.51,100.29 L512.68,100.37 L512.84,100.44 L513.01,100.51 L513.18,100.58 L513.35,100.64 L513.51,100.71 L513.68,100.77 L513.85,100.83 L514.02,100.90 L514.18,100.96 L514.35,101.01 L514.52,101.07 L514.69,101.13 L514.85,101.18 L515.02,101.23 L515.19,101.28 L515.35,101.33 L515.52,101.38 L515.69,101.43 L515.86,101.48 L516.02,101.52 L516.19,101.56 L516.36,101.61 L516.53,101.65 L516.69,101.69 L516.86,101.72 L517.03,101.76 L517.19,101.80 L517.36,101.83 L517.53,101.86 L517.70,101.90 L517.86,101.93 L518.03,101.96 L518.20,101.99 L518.37,102.02 L518.53,102.04 L518.70,102.07 L518.87,102.10 L519.03,102.12 L519.20,102.15 L519.37,102.17 L519.54,102.19 L519.70,102.21 L519.87,102.23 L520.04,102.25 L520.21,102.27 L520.37,102.29 L520.54,102.31 L520.71,102.33 L520.88,102.34 L521.04,102.36 L521.21,102.37 L521.38,102.39 L521.54,102.40 L521.71,102.42 L521.88,102.43 L522.05,102.44 L522.21,102.46 L522.38,102.47 L522.55,102.48 L522.72,102.49 L522.88,102.50 L523.05,102.51 L523.22,102.52 L523.38,102.53 L523.55,102.54 L523.72,102.55 L523.89,102.56 L524.05,102.57 L524.22,102.58 L524.39,102.59 L524.56,102.60 L524.72,102.60 L524.89,102.61 L525.06,102.62 L525.22,102.63 L525.39,102.63 L525.56,102.64 L525.73,102.65 L525.89,102.65 L526.06,102.66 L526.23,102.67 L526.40,102.67 L526.56,102.68 L526.73,102.69 L526.90,102.69 L527.07,102.70 L527.23,102.70 L527.40,102.71 L527.57,102.71 L527.73,102.72 L527.90,102.72 L528.07,102.73 L528.24,102.74 L528.40,102.74 L528.57,102.75 L528.74,102.75 L528.91,102.76 L529.07,102.76 L529.24,102.76 L529.41,102.77 L529.57,102.77 L529.74,102.78 L529.91,102.78 L530.08,102.79 L530.24,102.79 L530.41,102.80 L530.58,102.80 L530.75,102.81 L530.91,102.81 L531.08,102.81 L531.25,102.82 L531.42,102.82 L531.58,102.83 L531.75,102.83 L531.92,102.84 L532.08,102.84 L532.25,102.84 L532.42,102.85 L532.59,102.85 L532.75,102.86 L532.92,102.86 L533.09,102.86 L533.26,102.87 L533.42,102.87 L533.59,102.87 L533.76,102.88 L533.92,102.88 L534.09,102.89 L534.26,102.89 L534.43,102.89 L534.59,102.90 L534.76,102.90 L534.93,102.90 L535.10,102.91 L535.26,102.91 L535.43,102.91 L535.60,102.92 L535.76,102.92 L535.93,102.93 L536.10,102.93 L536.27,102.93 L536.43,102.94 L536.60,102.94 L536.77,102.94 L536.94,102.95 L537.10,102.95 L537.27,102.95 L537.44,102.95 L537.61,102.96 L537.77,102.96 L537.94,102.96 L538.11,102.97 L538.27,102.97 L538.44,102.97 L538.61,102.98 L538.78,102.98 L538.94,102.98 L539.11,102.99 L539.28,102.99 L539.45,102.99 L539.61,102.99 L539.78,103.00 L539.95,103.00 L540.11,103.00 L540.28,103.00 L540.45,103.01 L540.62,103.01 L540.78,103.01 L540.95,103.02 L541.12,103.02 L541.29,103.02 L541.45,103.02 L541.62,103.03 L541.79,103.03 L541.95,103.03 L542.12,103.03 L542.29,103.04 L542.46,103.04 L542.62,103.04 L542.79,103.04 L542.79,103.2 L476.71,103.2 Z" fill="#4f6d9a" stroke="none" stroke-width="0"/>
<path d="M476.71,103.12 L476.88,103.09 L477.04,103.04 L477.21,102.97 L477.38,102.87 L477.54,102.74 L477.71,102.56 L477.88,102.32 L478.05,102.00 L478.21,101.59 L478.38,101.07 L478.55,100.40 L478.72,99.57 L478.88,98.54 L479.05,97.29 L479.22,95.78 L479.38,94.00 L479.55,91.90 L479.72,89.49 L479.89,86.73 L480.05,83.65 L480.22,80.24 L480.39,76.54 L480.56,72.58 L480.72,68.41 L480.89,64.12 L481.06,59.78 L481.23,55.50 L481.39,51.36 L481.56,47.49 L481.73,43.99 L481.89,40.96 L482.06,38.50 L482.23,36.68 L482.40,35.57 L482.56,35.19 L482.73,35.57 L482.90,36.68 L483.07,38.50 L483.23,40.96 L483.40,43.98 L483.57,47.48 L483.73,51.35 L483.90,55.48 L484.07,59.76 L484.24,64.10 L484.40,68.39 L484.57,72.55 L484.74,76.50 L484.91,80.20 L485.07,83.61 L485.24,86.69 L485.41,89.43 L485.57,91.84 L485.74,93.93 L485.91,95.71 L486.08,97.21 L486.24,98.46 L486.41,99.47 L486.58,100.30 L486.75,100.95 L486.91,101.46 L487.08,101.86 L487.25,102.16 L487.42,102.38 L487.58,102.55 L487.75,102.66 L487.92,102.74 L488.08,102.79 L488.25,102.82 L488.42,102.83 L488.59,102.83 L488.75,102.82 L488.92,102.81 L489.09,102.78 L489.26,102.76 L489.42,102.73 L489.59,102.69 L489.76,102.65 L489.92,102.61 L490.09,102.57 L490.26,102.52 L490.43,102.47 L490.59,102.42 L490.76,102.36 L490.93,102.31 L491.10,102.25 L491.26,102.18 L491.43,102.11 L491.60,102.04 L491.76,101.97 L491.93,101.89 L492.10,101.81 L492.27,101.73 L492.43,101.64 L492.60,101.55 L492.77,101.46 L492.94,101.36 L493.10,101.27 L493.27,101.16 L493.44,101.06 L493.61,100.95 L493.77,100.84 L493.94,100.72 L494.11,100.61 L494.27,100.49 L494.44,100.36 L494.61,100.24 L494.78,100.12 L494.94,99.99 L495.11,99.86 L495.28,99.73 L495.45,99.60 L495.61,99.46 L495.78,99.33 L495.95,99.20 L496.11,99.06 L496.28,98.93 L496.45,98.80 L496.62,98.67 L496.78,98.54 L496.95,98.41 L497.12,98.28 L497.29,98.16 L497.45,98.03 L497.62,97.92 L497.79,97.80 L497.96,97.69 L498.12,97.58 L498.29,97.47 L498.46,97.38 L498.62,97.28 L498.79,97.19 L498.96,97.11 L499.13,97.03 L499.29,96.96 L499.46,96.89 L499.63,96.83 L499.80,96.78 L499.96,96.73 L500.13,96.69 L500.30,96.66 L500.46,96.63 L500.63,96.61 L500.80,96.60 L500.97,95.60 L501.13,95.60 L501.30,95.61 L501.47,95.61 L501.64,95.63 L501.80,95.64 L501.97,95.66 L502.14,95.68 L502.30,95.71 L502.47,95.73 L502.64,95.76 L502.81,95.80 L502.97,95.83 L503.14,95.87 L503.31,95.92 L503.48,95.96 L503.64,96.01 L503.81,96.06 L503.98,96.12 L504.15,96.17 L504.31,96.23 L504.48,96.29 L504.65,96.36 L504.81,96.42 L504.98,96.49 L505.15,96.56 L505.32,96.63 L505.48,96.71 L505.65,96.78 L505.82,96.86 L505.99,96.94 L506.15,97.02 L506.32,97.10 L506.49,97.19 L506.65,97.27 L506.82,97.36 L506.99,97.45 L507.16,97.53 L507.32,97.62 L507.49,97.71 L507.66,97.80 L507.83,97.89 L507.99,97.98 L508.16,98.07 L508.33,98.16 L508.50,98.26 L508.66,98.35 L508.83,98.44 L509.00,98.53 L509.16,98.62 L509.33,98.71 L509.50,98.80 L509.67,98.89 L509.83,98.98 L510.00,99.07 L510.17,99.16 L510.34,99.25 L510.50,99.33 L510.67,99.42 L510.84,99.50 L511.00,99.59 L511.17,99.67 L511.34,99.75 L511.51,99.83 L511.67,99.91 L511.84,99.99 L512.01,100.07 L512.18,100.15 L512.34,100.22 L512.51,100.29 L512.68,100.37 L512.84,100.44 L513.01,100.51 L513.18,100.58 L513.35,100.64 L513.51,100.71 L513.68,100.77 L513.85,100.83 L514.02,100.90 L514.18,100.96 L514.35,101.01 L514.52,101.07 L514.69,101.13 L514.85,101.18 L515.02,101.23 L515.19,101.28 L515.35,101.33 L515.52,101.38 L515.69,101.43 L515.86,101.48 L516.02,101.52 L516.19,101.56 L516.36,101.61 L516.53,101.65 L516.69,101.69 L516.86,101.72 L517.03,101.76 L517.19,101.80 L517.36,101.83 L517.53,101.86 L517.70,101.90 L517.86,101.93 L518.03,101.96 L518.20,101.99 L518.37,102.02 L518.53,102.04 L518.70,102.07 L518.87,102.10 L519.03,102.12 L519.20,102.15 L519.37,102.17 L519.54,102.19 L519.70,102.21 L519.87,102.23 L520.04,102.25 L520.21,102.27 L520.37,102.29 L520.54,102.31 L520.71,102.33 L520.88,102.34 L521.04,102.36 L521.21,102.37 L521.38,102.39 L521.54,102.40 L521.71,102.42 L521.88,102.43 L522.05,102.44 L522.21,102.46 L522.38,102.47 L522.55,102.48 L522.72,102.49 L522.88,102.50 L523.05,102.51 L523.22,102.52 L523.38,102.53 L523.55,102.54 L523.72,102.55 L523.89,102.56 L524.05,102.57 L524.22,102.58 L524.39,102.59 L524.56,102.60 L524.72,102.60 L524.89,102.61 L525.06,102.62 L525.22,102.63 L525.39,102.63 L525.56,102.64 L525.73,102.65 L525.89,102.65 L526.06,102.66 L526.23,102.67 L526.40,102.67 L526.56,102.68 L526.73,102.69 L526.90,102.69 L527.07,102.70 L527.23,102.70 L527.40,102.71 L527.57,102.71 L527.73,102.72 L527.90,102.72 L528.07,102.73 L528.24,102.74 L528.40,102.74 L528.57,102.75 L528.74,102.75 L528.91,102.76 L529.07,102.76 L529.24,102.76 L529.41,102.77 L529.57,102.77 L529.74,102.78 L529.91,102.78 L530.08,102.79 L530.24,102.79 L530.41,102.80 L530.58,102.80 L530.75,102.81 L530.91,102.81 L531.08,102.81 L531.25,102.82 L531.42,102.82 L531.58,102.83 L531.75,102.83 L531.92,102.84 L532.08,102.84 L532.25,102.84 L532.42,102.85 L532.59,102.85 L532.75,102.86 L532.92,102.86 L533.09,102.86 L533.26,102.87 L533.42,102.87 L533.59,102.87 L533.76,102.88 L533.92,102.88 L534.09,102.89 L534.26,102.89 L534.43,102.89 L534.59,102.90 L534.76,102.90 L534.93,102.90 L535.10,102.91 L535.26,102.91 L535.43,102.91 L535.60,102.92 L535.76,102.92 L535.93,102.93 L536.10,102.93 L536.27,102.93 L536.43,102.94 L536.60,102.94 L536.77,102.94 L536.94,102.95 L537.10,102.95 L537.27,102.95 L537.44,102.95 L537.61,102.96 L537.77,102.96 L537.94,102.96 L538.11,102.97 L538.27,102.97 L538.44,102.97 L538.61,102.98 L538.78,102.98 L538.94,102.98 L539.11,102.99 L539.28,102.99 L539.45,102.99 L539.61,102.99 L539.78,103.00 L539.95,103.00 L540.11,103.00 L540.28,103.00 L540.45,103.01 L540.62,103.01 L540.78,103.01 L540.95,103.02 L541.12,103.02 L541.29,103.02 L541.45,103.02 L541.62,103.03 L541.79,103.03 L541.95,103.03 L542.12,103.03 L542.29,103.04 L542.46,103.04 L542.62,103.04 L542.79,103.04" fill="none" stroke="#111" stroke-width="1.0"/>
<path d="M476.71,122.11 L476.88,122.07 L477.04,122.01 L477.21,121.93 L477.38,121.81 L477.54,121.65 L477.71,121.44 L477.88,121.16 L478.05,120.79 L478.21,120.31 L478.38,119.69 L478.55,118.91 L478.72,117.93 L478.88,116.72 L479.05,115.25 L479.22,113.48 L479.38,111.37 L479.55,108.91 L479.72,106.07 L479.89,102.83 L480.05,99.20 L480.22,95.19 L480.39,90.83 L480.56,86.17 L480.72,81.28 L480.89,76.23 L481.06,71.13 L481.23,66.08 L481.39,61.22 L481.56,56.67 L481.73,52.55 L481.89,48.99 L482.06,46.09 L482.23,43.95 L482.40,42.64 L482.56,42.20 L482.73,42.64 L482.90,43.95 L483.07,46.09 L483.23,48.99 L483.40,52.55 L483.57,56.67 L483.73,61.22 L483.90,66.08 L484.07,71.13 L484.24,76.23 L484.40,81.28 L484.57,86.17 L484.74,90.83 L484.91,95.19 L485.07,99.20 L485.24,102.83 L485.41,106.07 L485.57,108.91 L485.74,111.37 L485.91,113.48 L486.08,115.25 L486.24,116.72 L486.41,117.93 L486.58,118.91 L486.75,119.69 L486.91,120.31 L487.08,120.79 L487.25,121.16 L487.42,121.44 L487.58,121.65 L487.75,121.81 L487.92,121.92 L488.08,122.01 L488.25,122.07 L488.42,122.11 L488.59,122.14 L488.75,122.16 L488.92,122.17 L489.09,122.18 L489.26,122.19 L489.42,122.19 L489.59,122.19 L489.76,122.19 L489.92,122.20 L490.09,122.20 L490.26,122.19 L490.43,122.19 L490.59,122.19 L490.76,122.19 L490.93,122.19 L491.10,122.19 L491.26,122.18 L491.43,122.18 L491.60,122.17 L491.76,122.17 L491.93,122.16 L492.10,122.15 L492.27,122.14 L492.43,122.13 L492.60,122.11 L492.77,122.09 L492.94,122.07 L493.10,122.05 L493.27,122.02 L493.44,121.99 L493.61,121.95 L493.77,121.91 L493.94,121.86 L494.11,121.81 L494.27,121.74 L494.44,121.67 L494.61,121.60 L494.78,121.51 L494.94,121.41 L495.11,121.31 L495.28,121.19 L495.45,121.06 L495.61,120.92 L495.78,120.77 L495.95,120.61 L496.11,120.44 L496.28,120.25 L496.45,120.06 L496.62,119.85 L496.78,119.64 L496.95,119.41 L497.12,119.18 L497.29,118.94 L497.45,118.69 L497.62,118.45 L497.79,118.20 L497.96,117.95 L498.12,117.70 L498.29,117.46 L498.46,117.22 L498.62,116.99 L498.79,116.77 L498.96,116.57 L499.13,116.38 L499.29,116.20 L499.46,116.05 L499.63,115.91 L499.80,115.80 L499.96,115.72 L500.13,115.65 L500.30,115.61 L500.46,114.20 L500.63,114.21 L500.80,114.23 L500.97,114.26 L501.13,114.31 L501.30,114.37 L501.47,114.44 L501.64,114.53 L501.80,114.63 L501.97,114.74 L502.14,114.86 L502.30,114.99 L502.47,115.12 L502.64,115.27 L502.81,115.43 L502.97,115.59 L503.14,115.76 L503.31,115.93 L503.48,116.11 L503.64,116.29 L503.81,116.47 L503.98,116.65 L504.15,116.84 L504.31,117.02 L504.48,117.21 L504.65,117.39 L504.81,117.57 L504.98,117.75 L505.15,117.93 L505.32,118.10 L505.48,118.27 L505.65,118.44 L505.82,118.59 L505.99,118.75 L506.15,118.90 L506.32,119.04 L506.49,119.18 L506.65,119.31 L506.82,119.43 L506.99,119.55 L507.16,119.67 L507.32,119.78 L507.49,119.88 L507.66,119.97 L507.83,120.06 L507.99,120.15 L508.16,120.23 L508.33,120.30 L508.50,120.37 L508.66,120.44 L508.83,120.50 L509.00,120.56 L509.16,120.61 L509.33,120.66 L509.50,120.71 L509.67,120.75 L509.83,120.79 L510.00,120.82 L510.17,120.86 L510.34,120.89 L510.50,120.92 L510.67,120.95 L510.84,120.97 L511.00,120.99 L511.17,121.02 L511.34,121.04 L511.51,121.06 L511.67,121.07 L511.84,121.09 L512.01,121.11 L512.18,121.12 L512.34,121.14 L512.51,121.15 L512.68,121.17 L512.84,121.18 L513.01,121.19 L513.18,121.20 L513.35,121.21 L513.51,121.23 L513.68,121.24 L513.85,121.25 L514.02,121.26 L514.18,121.27 L514.35,121.28 L514.52,121.29 L514.69,121.30 L514.85,121.31 L515.02,121.32 L515.19,121.33 L515.35,121.34 L515.52,121.35 L515.69,121.36 L515.86,121.37 L516.02,121.38 L516.19,121.39 L516.36,121.40 L516.53,121.41 L516.69,121.42 L516.86,121.43 L517.03,121.44 L517.19,121.44 L517.36,121.45 L517.53,121.46 L517.70,121.47 L517.86,121.48 L518.03,121.49 L518.20,121.50 L518.37,121.51 L518.53,121.52 L518.70,121.53 L518.87,121.54 L519.03,121.55 L519.20,121.55 L519.37,121.56 L519.54,121.57 L519.70,121.58 L519.87,121.59 L520.04,121.60 L520.21,121.61 L520.37,121.62 L520.54,121.62 L520.71,121.63 L520.88,121.64 L521.04,121.65 L521.21,121.66 L521.38,121.67 L521.54,121.67 L521.71,121.68 L521.88,121.69 L522.05,121.70 L522.21,121.71 L522.38,121.71 L522.55,121.72 L522.72,121.73 L522.88,121.74 L523.05,121.75 L523.22,121.75 L523.38,121.76 L523.55,121.77 L523.72,121.78 L523.89,121.78 L524.05,121.79 L524.22,121.80 L524.39,121.80 L524.56,121.81 L524.72,121.82 L524.89,121.82 L525.06,121.83 L525.22,121.84 L525.39,121.84 L525.56,121.85 L525.73,121.86 L525.89,121.86 L526.06,121.87 L526.23,121.88 L526.40,121.88 L526.56,121.89 L526.73,121.89 L526.90,121.90 L527.07,121.91 L527.23,121.91 L527.40,121.92 L527.57,121.92 L527.73,121.93 L527.90,121.93 L528.07,121.94 L528.24,121.94 L528.40,121.95 L528.57,121.95 L528.74,121.96 L528.91,121.96 L529.07,121.97 L529.24,121.97 L529.41,121.98 L529.57,121.98 L529.74,121.99 L529.91,121.99 L530.08,122.00 L530.24,122.00 L530.41,122.01 L530.58,122.01 L530.75,122.01 L530.91,122.02 L531.08,122.02 L531.25,122.03 L531.42,122.03 L531.58,122.03 L531.75,122.04 L531.92,122.04 L532.08,122.05 L532.25,122.05 L532.42,122.05 L532.59,122.06 L532.75,122.06 L532.92,122.06 L533.09,122.07 L533.26,122.07 L533.42,122.07 L533.59,122.08 L533.76,122.08 L533.92,122.08 L534.09,122.08 L534.26,122.09 L534.43,122.09 L534.59,122.09 L534.76,122.10 L534.93,122.10 L535.10,122.10 L535.26,122.10 L535.43,122.11 L535.60,122.11 L535.76,122.11 L535.93,122.11 L536.10,122.11 L536.27,122.12 L536.43,122.12 L536.60,122.12 L536.77,122.12 L536.94,122.13 L537.10,122.13 L537.27,122.13 L537.44,122.13 L537.61,122.13 L537.77,122.13 L537.94,122.14 L538.11,122.14 L538.27,122.14 L538.44,122.14 L538.61,122.14 L538.78,122.15 L538.94,122.15 L539.11,122.15 L539.28,122.15 L539.45,122.15 L539.61,122.15 L539.78,122.15 L539.95,122.16 L540.11,122.16 L540.28,122.16 L540.45,122.16 L540.62,122.16 L540.78,122.16 L540.95,122.16 L541.12,122.16 L541.29,122.16 L541.45,122.17 L541.62,122.17 L541.79,122.17 L541.95,122.17 L542.12,122.17 L542.29,122.17 L542.46,122.17 L542.62,122.17 L542.79,122.17 L542.79,122.2 L476.71,122.2 Z" fill="#c9c9c9" stroke="none" stroke-width="0"/>
<path d="M476.71,122.11 L476.88,122.07 L477.04,122.01 L477.21,121.93 L477.38,121.81 L477.54,121.65 L477.71,121.44 L477.88,121.16 L478.05,120.79 L478.21,120.31 L478.38,119.69 L478.55,118.91 L478.72,117.93 L478.88,116.72 L479.05,115.25 L479.22,113.48 L479.38,111.37 L479.55,108.91 L479.72,106.07 L479.89,102.83 L480.05,99.20 L480.22,95.19 L480.39,90.83 L480.56,86.17 L480.72,81.28 L480.89,76.23 L481.06,71.13 L481.23,66.08 L481.39,61.22 L481.56,56.67 L481.73,52.55 L481.89,48.99 L482.06,46.09 L482.23,43.95 L482.40,42.64 L482.56,42.20 L482.73,42.64 L482.90,43.95 L483.07,46.09 L483.23,48.99 L483.40,52.55 L483.57,56.67 L483.73,61.22 L483.90,66.08 L484.07,71.13 L484.24,76.23 L484.40,81.28 L484.57,86.17 L484.74,90.83 L484.91,95.19 L485.07,99.20 L485.24,102.83 L485.41,106.07 L485.57,108.91 L485.74,111.37 L485.91,113.48 L486.08,115.25 L486.24,116.72 L486.41,117.93 L486.58,118.91 L486.75,119.69 L486.91,120.31 L487.08,120.79 L487.25,121.16 L487.42,121.44 L487.58,121.65 L487.75,121.81 L487.92,121.92 L488.08,122.01 L488.25,122.07 L488.42,122.11 L488.59,122.14 L488.75,122.16 L488.92,122.17 L489.09,122.18 L489.26,122.19 L489.42,122.19 L489.59,122.19 L489.76,122.19 L489.92,122.20 L490.09,122.20 L490.26,122.19 L490.43,122.19 L490.59,122.19 L490.76,122.19 L490.93,122.19 L491.10,122.19 L491.26,122.18 L491.43,122.18 L491.60,122.17 L491.76,122.17 L491.93,122.16 L492.10,122.15 L492.27,122.14 L492.43,122.13 L492.60,122.11 L492.77,122.09 L492.94,122.07 L493.10,122.05 L493.27,122.02 L493.44,121.99 L493.61,121.95 L493.77,121.91 L493.94,121.86 L494.11,121.81 L494.27,121.74 L494.44,121.67 L494.61,121.60 L494.78,121.51 L494.94,121.41 L495.11,121.31 L495.28,121.19 L495.45,121.06 L495.61,120.92 L495.78,120.77 L495.95,120.61 L496.11,120.44 L496.28,120.25 L496.45,120.06 L496.62,119.85 L496.78,119.64 L496.95,119.41 L497.12,119.18 L497.29,118.94 L497.45,118.69 L497.62,118.45 L497.79,118.20 L497.96,117.95 L498.12,117.70 L498.29,117.46 L498.46,117.22 L498.62,116.99 L498.79,116.77 L498.96,116.57 L499.13,116.38 L499.29,116.20 L499.46,116.05 L499.63,115.91 L499.80,115.80 L499.96,115.72 L500.13,115.65 L500.30,115.61 L500.46,114.20 L500.63,114.21 L500.80,114.23 L500.97,114.26 L501.13,114.31 L501.30,114.37 L501.47,114.44 L501.64,114.53 L501.80,114.63 L501.97,114.74 L502.14,114.86 L502.30,114.99 L502.47,115.12 L502.64,115.27 L502.81,115.43 L502.97,115.59 L503.14,115.76 L503.31,115.93 L503.48,116.11 L503.64,116.29 L503.81,116.47 L503.98,116.65 L504.15,116.84 L504.31,117.02 L504.48,117.21 L504.65,117.39 L504.81,117.57 L504.98,117.75 L505.15,117.93 L505.32,118.10 L505.48,118.27 L505.65,118.44 L505.82,118.59 L505.99,118.75 L506.15,118.90 L506.32,119.04 L506.49,119.18 L506.65,119.31 L506.82,119.43 L506.99,119.55 L507.16,119.67 L507.32,119.78 L507.49,119.88 L507.66,119.97 L507.83,120.06 L507.99,120.15 L508.16,120.23 L508.33,120.30 L508.50,120.37 L508.66,120.44 L508.83,120.50 L509.00,120.56 L509.16,120.61 L509.33,120.66 L509.50,120.71 L509.67,120.75 L509.83,120.79 L510.00,120.82 L510.17,120.86 L510.34,120.89 L510.50,120.92 L510.67,120.95 L510.84,120.97 L511.00,120.99 L511.17,121.02 L511.34,121.04 L511.51,121.06 L511.67,121.07 L511.84,121.09 L512.01,121.11 L512.18,121.12 L512.34,121.14 L512.51,121.15 L512.68,121.17 L512.84,121.18 L513.01,121.19 L513.18,121.20 L513.35,121.21 L513.51,121.23 L513.68,121.24 L513.85,121.25 L514.02,121.26 L514.18,121.27 L514.35,121.28 L514.52,121.29 L514.69,121.30 L514.85,121.31 L515.02,121.32 L515.19,121.33 L515.35,121.34 L515.52,121.35 L515.69,121.36 L515.86,121.37 L516.02,121.38 L516.19,121.39 L516.36,121.40 L516.53,121.41 L516.69,121.42 L516.86,121.43 L517.03,121.44 L517.19,121.44 L517.36,121.45 L517.53,121.46 L517.70,121.47 L517.86,121.48 L518.03,121.49 L518.20,121.50 L518.37,121.51 L518.53,121.52 L518.70,121.53 L518.87,121.54 L519.03,121.55 L519.20,121.55 L519.37,121.56 L519.54,121.57 L519.70,121.58 L519.87,121.59 L520.04,121.60 L520.21,121.61 L520.37,121.62 L520.54,121.62 L520.71,121.63 L520.88,121.64 L521.04,121.65 L521.21,121.66 L521.38,121.67 L521.54,121.67 L521.71,121.68 L521.88,121.69 L522.05,121.70 L522.21,121.71 L522.38,121.71 L522.55,121.72 L522.72,121.73 L522.88,121.74 L523.05,121.75 L523.22,121.75 L523.38,121.76 L523.55,121.77 L523.72,121.78 L523.89,121.78 L524.05,121.79 L524.22,121.80 L524.39,121.80 L524.56,121.81 L524.72,121.82 L524.89,121.82 L525.06,121.83 L525.22,121.84 L525.39,121.84 L525.56,121.85 L525.73,121.86 L525.89,121.86 L526.06,121.87 L526.23,121.88 L526.40,121.88 L526.56,121.89 L526.73,121.89 L526.90,121.90 L527.07,121.91 L527.23,121.91 L527.40,121.92 L527.57,121.92 L527.73,121.93 L527.90,121.93 L528.07,121.94 L528.24,121.94 L528.40,121.95 L528.57,121.95 L528.74,121.96 L528.91,121.96 L529.07,121.97 L529.24,121.97 L529.41,121.98 L529.57,121.98 L529.74,121.99 L529.91,121.99 L530.08,122.00 L530.24,122.00 L530.41,122.01 L530.58,122.01 L530.75,122.01 L530.91,122.02 L531.08,122.02 L531.25,122.03 L531.42,122.03 L531.58,122.03 L531.75,122.04 L531.92,122.04 L532.08,122.05 L532.25,122.05 L532.42,122.05 L532.59,122.06 L532.75,122.06 L532.92,122.06 L533.09,122.07 L533.26,122.07 L533.42,122.07 L533.59,122.08 L533.76,122.08 L533.92,122.08 L534.09,122.08 L534.26,122.09 L534.43,122.09 L534.59,122.09 L534.76,122.10 L534.93,122.10 L535.10,122.10 L535.26,122.10 L535.43,122.11 L535.60,122.11 L535.76,122.11 L535.93,122.11 L536.10,122.11 L536.27,122.12 L536.43,122.12 L536.60,122.12 L536.77,122.12 L536.94,122.13 L537.10,122.13 L537.27,122.13 L537.44,122.13 L537.61,122.13 L537.77,122.13 L537.94,122.14 L538.11,122.14 L538.27,122.14 L538.44,122.14 L538.61,122.14 L538.78,122.15 L538.94,122.15 L539.11,122.15 L539.28,122.15 L539.45,122.15 L539.61,122.15 L539.78,122.15 L539.95,122.16 L540.11,122.16 L540.28,122.16 L540.45,122.16 L540.62,122.16 L540.78,122.16 L540.95,122.16 L541.12,122.16 L541.29,122.16 L541.45,122.17 L541.62,122.17 L541.79,122.17 L541.95,122.17 L542.12,122.17 L542.29,122.17 L542.46,122.17 L542.62,122.17 L542.79,122.17" fill="none" stroke="#111" stroke-width="1.0"/>
<line x1="489.26" y1="31.40" x2="489.26" y2="133.60" stroke="#cfcfcf" stroke-width="1.3"/>
<line x1="493.94" y1="31.40" x2="493.94" y2="133.60" stroke="#3d6195" stroke-width="1.2"/>
<line x1="496.62" y1="31.40" x2="496.62" y2="133.60" stroke="#e0474d" stroke-width="1.2"/>
</g>
<rect x="474.20" y="31.40" width="70.00" height="102.20" fill="none" stroke="#111" stroke-width="1"/>
<text x="542.40" y="71.60" font-size="7.4" text-anchor="end" dominant-baseline="central" fill="#111">mean=0.79</text>
<text x="542.40" y="92.60" font-size="7.4" text-anchor="end" dominant-baseline="central" fill="#111">mean=0.63</text>
<text x="542.40" y="114.00" font-size="7.4" text-anchor="end" dominant-baseline="central" fill="#111">mean=0.35</text>
<text x="549.00" y="80.20" font-size="7.1" text-anchor="start" dominant-baseline="central" fill="#666">active</text>
<text x="549.00" y="87.50" font-size="7.1" text-anchor="start" dominant-baseline="central" fill="#666">T-PLL cells</text>
<text x="549.00" y="98.70" font-size="7.1" text-anchor="start" dominant-baseline="central" fill="#666">indolent</text>
<text x="549.00" y="106.00" font-size="7.1" text-anchor="start" dominant-baseline="central" fill="#666">T-PLL cells</text>
<text x="549.00" y="115.80" font-size="7.1" text-anchor="start" dominant-baseline="central" fill="#666">healthy-</text>
<text x="549.00" y="122.90" font-size="7.1" text-anchor="start" dominant-baseline="central" fill="#666">donor</text>
<text x="549.00" y="130.20" font-size="7.1" text-anchor="start" dominant-baseline="central" fill="#666">T cells</text>
<line x1="482.80" y1="133.60" x2="482.80" y2="135.40" stroke="#333" stroke-width="0.8"/>
<text x="482.80" y="142.60" font-size="8.2" text-anchor="middle" dominant-baseline="central" fill="#666">0</text>
<line x1="499.70" y1="133.60" x2="499.70" y2="135.40" stroke="#333" stroke-width="0.8"/>
<text x="499.70" y="142.60" font-size="8.2" text-anchor="middle" dominant-baseline="central" fill="#666">1</text>
<line x1="516.70" y1="133.60" x2="516.70" y2="135.40" stroke="#333" stroke-width="0.8"/>
<text x="516.70" y="142.60" font-size="8.2" text-anchor="middle" dominant-baseline="central" fill="#666">2</text>
<line x1="533.70" y1="133.60" x2="533.70" y2="135.40" stroke="#333" stroke-width="0.8"/>
<text x="533.70" y="142.60" font-size="8.2" text-anchor="middle" dominant-baseline="central" fill="#666">3</text>
<text x="508.50" y="152.00" font-size="8.7" text-anchor="middle" dominant-baseline="central" fill="#111">expression</text>
<text x="508.70" y="161.20" font-size="7.3" text-anchor="middle" dominant-baseline="central" fill="#111">[log1p(UMI)]</text>
<text transform="translate(601.00,83.00) rotate(-90)" font-size="8.8" text-anchor="middle" dominant-baseline="central" fill="#111">scaled mean expression</text>
<text x="614.30" y="53.70" font-size="8.6" text-anchor="end" dominant-baseline="central" fill="#666">2</text>
<line x1="616.50" y1="53.70" x2="619.60" y2="53.70" stroke="#333" stroke-width="0.8"/>
<text x="614.30" y="80.60" font-size="8.6" text-anchor="end" dominant-baseline="central" fill="#666">0</text>
<line x1="616.50" y1="80.60" x2="619.60" y2="80.60" stroke="#333" stroke-width="0.8"/>
<text x="614.30" y="107.50" font-size="8.6" text-anchor="end" dominant-baseline="central" fill="#666">-2</text>
<line x1="616.50" y1="107.50" x2="619.60" y2="107.50" stroke="#333" stroke-width="0.8"/>
<line x1="637.20" y1="47.20" x2="637.20" y2="75.30" stroke="#444" stroke-width="0.8"/>
<line x1="637.20" y1="94.10" x2="637.20" y2="115.70" stroke="#444" stroke-width="0.8"/>
<rect x="626.20" y="75.30" width="22.00" height="18.80" fill="#3d6195" stroke="#333" stroke-width="0.8"/>
<line x1="626.20" y1="87.20" x2="648.20" y2="87.20" stroke="#333" stroke-width="1.2"/>
<line x1="666.50" y1="48.30" x2="666.50" y2="65.30" stroke="#444" stroke-width="0.8"/>
<line x1="666.50" y1="83.60" x2="666.50" y2="108.50" stroke="#444" stroke-width="0.8"/>
<rect x="655.50" y="65.30" width="22.00" height="18.30" fill="#dc4448" stroke="#333" stroke-width="0.8"/>
<line x1="655.50" y1="73.40" x2="677.50" y2="73.40" stroke="#333" stroke-width="1.2"/>
<g fill="#222" fill-opacity="0.42">
<circle cx="634.4" cy="85.4" r="1.3"/>
<circle cx="639.3" cy="70.7" r="1.3"/>
<circle cx="626.9" cy="90.0" r="1.3"/>
<circle cx="644.2" cy="90.0" r="1.3"/>
<circle cx="647.5" cy="87.2" r="1.3"/>
<circle cx="636.5" cy="77.3" r="1.3"/>
<circle cx="640.0" cy="79.1" r="1.3"/>
<circle cx="629.8" cy="99.1" r="1.3"/>
<circle cx="637.6" cy="103.7" r="1.3"/>
<circle cx="642.2" cy="105.9" r="1.3"/>
<circle cx="642.5" cy="88.9" r="1.3"/>
<circle cx="639.0" cy="90.7" r="1.3"/>
<circle cx="644.8" cy="87.7" r="1.3"/>
<circle cx="636.5" cy="83.6" r="1.3"/>
<circle cx="641.6" cy="91.8" r="1.3"/>
<circle cx="645.9" cy="112.4" r="1.3"/>
<circle cx="635.9" cy="104.8" r="1.3"/>
<circle cx="646.2" cy="72.6" r="1.3"/>
<circle cx="629.5" cy="82.5" r="1.3"/>
<circle cx="631.2" cy="90.6" r="1.3"/>
<circle cx="639.8" cy="73.3" r="1.3"/>
<circle cx="632.9" cy="89.6" r="1.3"/>
<circle cx="634.0" cy="99.3" r="1.3"/>
<circle cx="638.9" cy="87.2" r="1.3"/>
<circle cx="640.9" cy="110.5" r="1.3"/>
<circle cx="646.1" cy="100.6" r="1.3"/>
<circle cx="640.7" cy="62.3" r="1.3"/>
<circle cx="630.0" cy="117.4" r="1.3"/>
<circle cx="645.6" cy="65.5" r="1.3"/>
<circle cx="638.6" cy="112.0" r="1.3"/>
<circle cx="644.1" cy="88.6" r="1.3"/>
<circle cx="638.6" cy="95.2" r="1.3"/>
<circle cx="644.5" cy="87.7" r="1.3"/>
<circle cx="647.4" cy="82.1" r="1.3"/>
<circle cx="635.2" cy="67.2" r="1.3"/>
<circle cx="629.8" cy="74.5" r="1.3"/>
<circle cx="644.9" cy="92.6" r="1.3"/>
<circle cx="627.5" cy="65.6" r="1.3"/>
<circle cx="641.7" cy="89.6" r="1.3"/>
<circle cx="633.6" cy="89.2" r="1.3"/>
<circle cx="637.2" cy="60.4" r="1.3"/>
<circle cx="647.6" cy="111.1" r="1.3"/>
<circle cx="639.2" cy="88.5" r="1.3"/>
<circle cx="627.3" cy="81.9" r="1.3"/>
<circle cx="639.4" cy="82.4" r="1.3"/>
<circle cx="629.9" cy="74.3" r="1.3"/>
<circle cx="633.2" cy="61.9" r="1.3"/>
<circle cx="646.7" cy="79.9" r="1.3"/>
<circle cx="636.3" cy="76.7" r="1.3"/>
<circle cx="637.5" cy="94.2" r="1.3"/>
<circle cx="638.3" cy="97.3" r="1.3"/>
<circle cx="639.6" cy="100.2" r="1.3"/>
<circle cx="635.7" cy="72.5" r="1.3"/>
<circle cx="641.7" cy="92.2" r="1.3"/>
<circle cx="647.1" cy="85.8" r="1.3"/>
<circle cx="637.5" cy="75.9" r="1.3"/>
<circle cx="635.3" cy="88.5" r="1.3"/>
<circle cx="638.8" cy="87.2" r="1.3"/>
<circle cx="639.9" cy="69.1" r="1.3"/>
<circle cx="627.9" cy="84.4" r="1.3"/>
<circle cx="640.9" cy="96.6" r="1.3"/>
<circle cx="634.0" cy="96.9" r="1.3"/>
<circle cx="627.1" cy="92.2" r="1.3"/>
<circle cx="627.9" cy="106.8" r="1.3"/>
<circle cx="631.9" cy="101.4" r="1.3"/>
<circle cx="636.2" cy="116.0" r="1.3"/>
<circle cx="634.2" cy="96.0" r="1.3"/>
<circle cx="633.2" cy="92.8" r="1.3"/>
<circle cx="632.9" cy="98.4" r="1.3"/>
<circle cx="634.5" cy="74.1" r="1.3"/>
<circle cx="638.6" cy="86.2" r="1.3"/>
<circle cx="642.0" cy="89.6" r="1.3"/>
<circle cx="643.5" cy="90.0" r="1.3"/>
<circle cx="631.6" cy="78.2" r="1.3"/>
<circle cx="641.3" cy="81.4" r="1.3"/>
<circle cx="628.7" cy="74.0" r="1.3"/>
<circle cx="644.1" cy="91.7" r="1.3"/>
<circle cx="635.8" cy="76.3" r="1.3"/>
<circle cx="633.7" cy="81.9" r="1.3"/>
<circle cx="640.3" cy="92.8" r="1.3"/>
<circle cx="631.3" cy="76.2" r="1.3"/>
<circle cx="629.1" cy="95.9" r="1.3"/>
<circle cx="643.5" cy="94.8" r="1.3"/>
<circle cx="644.2" cy="88.2" r="1.3"/>
<circle cx="643.6" cy="82.5" r="1.3"/>
<circle cx="640.1" cy="77.2" r="1.3"/>
<circle cx="629.3" cy="82.6" r="1.3"/>
<circle cx="632.7" cy="97.7" r="1.3"/>
<circle cx="633.9" cy="83.9" r="1.3"/>
<circle cx="635.4" cy="96.4" r="1.3"/>
<circle cx="645.9" cy="98.1" r="1.3"/>
<circle cx="629.9" cy="80.3" r="1.3"/>
<circle cx="645.1" cy="56.1" r="1.3"/>
<circle cx="647.3" cy="85.8" r="1.3"/>
<circle cx="646.1" cy="115.3" r="1.3"/>
<circle cx="631.3" cy="74.1" r="1.3"/>
<circle cx="640.5" cy="87.3" r="1.3"/>
<circle cx="637.5" cy="111.0" r="1.3"/>
<circle cx="631.4" cy="89.5" r="1.3"/>
<circle cx="628.0" cy="75.3" r="1.3"/>
<circle cx="643.6" cy="95.6" r="1.3"/>
<circle cx="627.5" cy="92.2" r="1.3"/>
<circle cx="646.0" cy="70.5" r="1.3"/>
<circle cx="645.4" cy="97.8" r="1.3"/>
<circle cx="626.9" cy="73.1" r="1.3"/>
<circle cx="642.3" cy="96.5" r="1.3"/>
<circle cx="640.5" cy="81.6" r="1.3"/>
<circle cx="637.6" cy="77.1" r="1.3"/>
<circle cx="639.5" cy="112.5" r="1.3"/>
<circle cx="633.8" cy="71.1" r="1.3"/>
<circle cx="636.6" cy="87.0" r="1.3"/>
<circle cx="643.0" cy="61.2" r="1.3"/>
<circle cx="637.8" cy="91.7" r="1.3"/>
<circle cx="643.8" cy="79.9" r="1.3"/>
<circle cx="646.0" cy="75.9" r="1.3"/>
<circle cx="643.5" cy="66.7" r="1.3"/>
<circle cx="639.8" cy="86.0" r="1.3"/>
<circle cx="644.7" cy="88.1" r="1.3"/>
<circle cx="632.2" cy="77.0" r="1.3"/>
<circle cx="637.7" cy="83.5" r="1.3"/>
<circle cx="642.9" cy="99.5" r="1.3"/>
<circle cx="626.6" cy="79.9" r="1.3"/>
<circle cx="629.2" cy="80.4" r="1.3"/>
<circle cx="628.0" cy="84.4" r="1.3"/>
<circle cx="628.4" cy="61.9" r="1.3"/>
<circle cx="637.1" cy="90.6" r="1.3"/>
<circle cx="634.0" cy="91.1" r="1.3"/>
<circle cx="640.2" cy="76.5" r="1.3"/>
<circle cx="630.6" cy="97.0" r="1.3"/>
<circle cx="633.5" cy="92.9" r="1.3"/>
<circle cx="641.6" cy="75.1" r="1.3"/>
<circle cx="634.6" cy="75.2" r="1.3"/>
<circle cx="634.4" cy="79.6" r="1.3"/>
<circle cx="639.3" cy="82.8" r="1.3"/>
<circle cx="643.4" cy="84.1" r="1.3"/>
<circle cx="639.7" cy="98.9" r="1.3"/>
<circle cx="637.0" cy="97.9" r="1.3"/>
<circle cx="641.4" cy="81.5" r="1.3"/>
<circle cx="636.3" cy="103.9" r="1.3"/>
<circle cx="631.7" cy="77.2" r="1.3"/>
<circle cx="628.1" cy="105.9" r="1.3"/>
<circle cx="635.5" cy="91.1" r="1.3"/>
<circle cx="646.3" cy="110.1" r="1.3"/>
<circle cx="634.5" cy="74.8" r="1.3"/>
<circle cx="632.1" cy="68.5" r="1.3"/>
<circle cx="636.3" cy="100.2" r="1.3"/>
<circle cx="640.5" cy="69.9" r="1.3"/>
<circle cx="645.2" cy="70.3" r="1.3"/>
<circle cx="642.0" cy="81.7" r="1.3"/>
<circle cx="638.4" cy="104.9" r="1.3"/>
<circle cx="626.7" cy="73.1" r="1.3"/>
<circle cx="629.6" cy="76.4" r="1.3"/>
<circle cx="628.5" cy="86.1" r="1.3"/>
<circle cx="628.7" cy="90.5" r="1.3"/>
<circle cx="627.1" cy="80.8" r="1.3"/>
<circle cx="644.3" cy="92.1" r="1.3"/>
<circle cx="640.7" cy="68.8" r="1.3"/>
<circle cx="644.2" cy="69.6" r="1.3"/>
<circle cx="643.4" cy="70.6" r="1.3"/>
<circle cx="627.4" cy="91.6" r="1.3"/>
<circle cx="670.9" cy="73.0" r="1.3"/>
<circle cx="658.1" cy="88.9" r="1.3"/>
<circle cx="657.2" cy="74.7" r="1.3"/>
<circle cx="662.7" cy="102.8" r="1.3"/>
<circle cx="661.0" cy="95.5" r="1.3"/>
<circle cx="659.7" cy="83.4" r="1.3"/>
<circle cx="671.7" cy="74.5" r="1.3"/>
<circle cx="664.2" cy="57.8" r="1.3"/>
<circle cx="663.3" cy="82.7" r="1.3"/>
<circle cx="664.7" cy="65.5" r="1.3"/>
<circle cx="676.3" cy="62.2" r="1.3"/>
<circle cx="664.6" cy="67.4" r="1.3"/>
<circle cx="670.4" cy="74.7" r="1.3"/>
<circle cx="671.8" cy="81.7" r="1.3"/>
<circle cx="666.1" cy="81.3" r="1.3"/>
<circle cx="669.4" cy="87.5" r="1.3"/>
<circle cx="657.9" cy="69.0" r="1.3"/>
<circle cx="671.6" cy="78.7" r="1.3"/>
<circle cx="665.2" cy="61.9" r="1.3"/>
<circle cx="671.0" cy="81.9" r="1.3"/>
<circle cx="660.1" cy="70.8" r="1.3"/>
<circle cx="668.2" cy="65.8" r="1.3"/>
<circle cx="670.4" cy="78.0" r="1.3"/>
<circle cx="675.9" cy="66.5" r="1.3"/>
<circle cx="664.6" cy="79.9" r="1.3"/>
<circle cx="673.8" cy="56.4" r="1.3"/>
<circle cx="660.5" cy="82.8" r="1.3"/>
<circle cx="656.4" cy="79.4" r="1.3"/>
<circle cx="659.5" cy="86.3" r="1.3"/>
<circle cx="663.5" cy="73.0" r="1.3"/>
<circle cx="658.9" cy="83.7" r="1.3"/>
<circle cx="676.7" cy="55.8" r="1.3"/>
<circle cx="665.7" cy="90.8" r="1.3"/>
<circle cx="673.4" cy="72.5" r="1.3"/>
<circle cx="666.0" cy="67.8" r="1.3"/>
<circle cx="671.0" cy="88.5" r="1.3"/>
<circle cx="671.3" cy="66.9" r="1.3"/>
<circle cx="676.1" cy="84.1" r="1.3"/>
<circle cx="660.8" cy="83.1" r="1.3"/>
<circle cx="671.0" cy="72.8" r="1.3"/>
<circle cx="673.8" cy="88.4" r="1.3"/>
<circle cx="661.0" cy="101.8" r="1.3"/>
<circle cx="659.8" cy="71.1" r="1.3"/>
<circle cx="670.7" cy="65.8" r="1.3"/>
<circle cx="661.3" cy="58.2" r="1.3"/>
<circle cx="674.1" cy="94.7" r="1.3"/>
<circle cx="671.2" cy="79.5" r="1.3"/>
<circle cx="657.7" cy="62.8" r="1.3"/>
<circle cx="662.0" cy="55.4" r="1.3"/>
<circle cx="663.4" cy="61.9" r="1.3"/>
<circle cx="656.0" cy="90.4" r="1.3"/>
<circle cx="662.9" cy="83.3" r="1.3"/>
<circle cx="660.3" cy="87.4" r="1.3"/>
<circle cx="668.2" cy="69.1" r="1.3"/>
<circle cx="667.3" cy="63.0" r="1.3"/>
<circle cx="658.4" cy="77.9" r="1.3"/>
<circle cx="658.3" cy="77.3" r="1.3"/>
<circle cx="674.5" cy="56.9" r="1.3"/>
<circle cx="675.7" cy="70.0" r="1.3"/>
<circle cx="663.8" cy="77.5" r="1.3"/>
<circle cx="662.1" cy="71.7" r="1.3"/>
<circle cx="670.1" cy="94.7" r="1.3"/>
<circle cx="661.5" cy="87.0" r="1.3"/>
<circle cx="671.7" cy="92.6" r="1.3"/>
<circle cx="667.2" cy="57.0" r="1.3"/>
<circle cx="658.3" cy="78.9" r="1.3"/>
<circle cx="671.0" cy="85.8" r="1.3"/>
<circle cx="670.1" cy="74.1" r="1.3"/>
<circle cx="669.5" cy="81.6" r="1.3"/>
<circle cx="669.1" cy="77.7" r="1.3"/>
<circle cx="669.7" cy="63.6" r="1.3"/>
<circle cx="658.5" cy="51.6" r="1.3"/>
<circle cx="662.9" cy="68.5" r="1.3"/>
<circle cx="671.0" cy="77.3" r="1.3"/>
<circle cx="669.5" cy="87.2" r="1.3"/>
<circle cx="665.5" cy="83.4" r="1.3"/>
<circle cx="657.3" cy="77.4" r="1.3"/>
<circle cx="670.9" cy="67.6" r="1.3"/>
<circle cx="671.4" cy="74.1" r="1.3"/>
<circle cx="663.4" cy="89.7" r="1.3"/>
<circle cx="674.2" cy="75.7" r="1.3"/>
<circle cx="656.8" cy="62.7" r="1.3"/>
<circle cx="672.0" cy="83.7" r="1.3"/>
<circle cx="663.3" cy="74.8" r="1.3"/>
<circle cx="667.3" cy="80.7" r="1.3"/>
<circle cx="672.1" cy="63.9" r="1.3"/>
<circle cx="658.3" cy="88.7" r="1.3"/>
<circle cx="661.6" cy="55.8" r="1.3"/>
<circle cx="672.3" cy="69.8" r="1.3"/>
<circle cx="671.2" cy="71.1" r="1.3"/>
<circle cx="664.6" cy="71.4" r="1.3"/>
<circle cx="671.5" cy="67.4" r="1.3"/>
<circle cx="668.3" cy="66.5" r="1.3"/>
<circle cx="659.0" cy="93.0" r="1.3"/>
<circle cx="667.0" cy="80.9" r="1.3"/>
<circle cx="667.8" cy="69.8" r="1.3"/>
<circle cx="672.3" cy="71.8" r="1.3"/>
<circle cx="656.5" cy="65.8" r="1.3"/>
<circle cx="675.8" cy="66.2" r="1.3"/>
<circle cx="663.9" cy="98.6" r="1.3"/>
<circle cx="669.2" cy="89.7" r="1.3"/>
<circle cx="676.4" cy="79.7" r="1.3"/>
<circle cx="674.0" cy="78.5" r="1.3"/>
<circle cx="666.1" cy="84.0" r="1.3"/>
<circle cx="655.9" cy="90.2" r="1.3"/>
<circle cx="672.1" cy="86.1" r="1.3"/>
<circle cx="666.9" cy="81.9" r="1.3"/>
<circle cx="665.6" cy="86.5" r="1.3"/>
<circle cx="656.7" cy="69.4" r="1.3"/>
<circle cx="666.4" cy="60.6" r="1.3"/>
<circle cx="667.8" cy="82.5" r="1.3"/>
<circle cx="676.0" cy="85.0" r="1.3"/>
<circle cx="672.5" cy="69.5" r="1.3"/>
<circle cx="669.0" cy="78.6" r="1.3"/>
<circle cx="660.8" cy="63.7" r="1.3"/>
<circle cx="657.5" cy="71.0" r="1.3"/>
<circle cx="662.7" cy="101.6" r="1.3"/>
<circle cx="674.2" cy="81.3" r="1.3"/>
<circle cx="673.9" cy="76.8" r="1.3"/>
<circle cx="668.5" cy="80.7" r="1.3"/>
<circle cx="671.4" cy="57.3" r="1.3"/>
<circle cx="663.1" cy="83.1" r="1.3"/>
<circle cx="674.0" cy="64.8" r="1.3"/>
<circle cx="665.1" cy="100.8" r="1.3"/>
<circle cx="658.2" cy="73.9" r="1.3"/>
<circle cx="656.8" cy="88.5" r="1.3"/>
<circle cx="659.3" cy="67.4" r="1.3"/>
<circle cx="666.3" cy="70.7" r="1.3"/>
<circle cx="664.8" cy="79.3" r="1.3"/>
<circle cx="669.5" cy="88.8" r="1.3"/>
<circle cx="671.8" cy="79.1" r="1.3"/>
<circle cx="664.3" cy="61.8" r="1.3"/>
<circle cx="671.0" cy="63.6" r="1.3"/>
<circle cx="663.6" cy="51.0" r="1.3"/>
<circle cx="668.4" cy="84.8" r="1.3"/>
<circle cx="660.6" cy="63.8" r="1.3"/>
<circle cx="672.3" cy="66.3" r="1.3"/>
<circle cx="658.9" cy="74.4" r="1.3"/>
<circle cx="660.3" cy="82.3" r="1.3"/>
<circle cx="659.5" cy="72.6" r="1.3"/>
<circle cx="656.5" cy="80.6" r="1.3"/>
<circle cx="658.2" cy="70.4" r="1.3"/>
<circle cx="657.2" cy="67.6" r="1.3"/>
<circle cx="656.4" cy="62.3" r="1.3"/>
<circle cx="670.7" cy="86.3" r="1.3"/>
<circle cx="657.0" cy="70.6" r="1.3"/>
<circle cx="656.5" cy="84.5" r="1.3"/>
<circle cx="676.2" cy="67.6" r="1.3"/>
<circle cx="665.9" cy="73.5" r="1.3"/>
<circle cx="659.4" cy="69.3" r="1.3"/>
<circle cx="658.5" cy="82.6" r="1.3"/>
<circle cx="657.0" cy="82.3" r="1.3"/>
<circle cx="672.4" cy="75.9" r="1.3"/>
<circle cx="665.7" cy="84.2" r="1.3"/>
<circle cx="661.1" cy="65.2" r="1.3"/>
<circle cx="661.5" cy="78.7" r="1.3"/>
<circle cx="663.1" cy="67.8" r="1.3"/>
<circle cx="657.9" cy="90.2" r="1.3"/>
<circle cx="668.3" cy="87.7" r="1.3"/>
<circle cx="656.0" cy="103.7" r="1.3"/>
</g>
<circle cx="632.40" cy="130.10" r="0.9" fill="#555"/>
<circle cx="628.10" cy="51.60" r="0.9" fill="#555"/>
<rect x="619.60" y="31.70" width="64.40" height="103.60" fill="none" stroke="#111" stroke-width="1"/>
<path d="M637.1,45.6 L637.1,42.7 L666.4,42.7 L666.4,45.6" fill="none" stroke="#222" stroke-width="0.8"/>
<text x="651.20" y="38.00" font-size="6.6" text-anchor="middle" dominant-baseline="central" fill="#333">p&lt;0.0001</text>
<circle cx="668.40" cy="38.20" r="0.9" fill="#666"/>
<line x1="637.10" y1="135.30" x2="637.10" y2="136.90" stroke="#333" stroke-width="0.8"/>
<line x1="666.40" y1="135.30" x2="666.40" y2="136.90" stroke="#333" stroke-width="0.8"/>
<line x1="632.40" y1="143.80" x2="632.40" y2="154.60" stroke="#555" stroke-width="0.7"/>
<rect x="627.10" y="145.80" width="10.70" height="6.90" fill="#3d6195" stroke="#333" stroke-width="0.8"/>
<line x1="627.10" y1="149.25" x2="637.80" y2="149.25" stroke="#333" stroke-width="1.1"/>
<line x1="632.40" y1="156.00" x2="632.40" y2="166.80" stroke="#555" stroke-width="0.7"/>
<rect x="627.10" y="158.00" width="10.70" height="6.90" fill="#dc4448" stroke="#333" stroke-width="0.8"/>
<line x1="627.10" y1="161.45" x2="637.80" y2="161.45" stroke="#333" stroke-width="1.1"/>
<text x="641.00" y="149.30" font-size="9.5" text-anchor="start" dominant-baseline="central" fill="#111">shrinking</text>
<text x="641.00" y="161.30" font-size="9.5" text-anchor="start" dominant-baseline="central" fill="#111">expanding</text>
<text x="187.60" y="187.30" font-size="19.5" text-anchor="start" dominant-baseline="alphabetic" fill="#000" font-weight="bold">D</text>
<text x="265.00" y="184.40" font-size="10" text-anchor="middle" dominant-baseline="central" fill="#000" font-weight="bold">GEP array</text>
<text x="390.90" y="184.70" font-size="10" text-anchor="middle" dominant-baseline="central" fill="#000" font-weight="bold">mRNA seq.</text>
<text transform="translate(217.60,249.00) rotate(-90)" font-size="8.8" text-anchor="middle" dominant-baseline="central" fill="#111">MYC mRNA [log2]</text>
<text x="238.20" y="212.80" font-size="8.6" text-anchor="end" dominant-baseline="central" fill="#4d4d4d">12</text>
<line x1="240.00" y1="212.80" x2="242.00" y2="212.80" stroke="#4d4d4d" stroke-width="0.8"/>
<text x="238.20" y="259.60" font-size="8.6" text-anchor="end" dominant-baseline="central" fill="#4d4d4d">10</text>
<line x1="240.00" y1="259.60" x2="242.00" y2="259.60" stroke="#4d4d4d" stroke-width="0.8"/>
<text x="238.20" y="306.10" font-size="8.6" text-anchor="end" dominant-baseline="central" fill="#4d4d4d">8</text>
<line x1="240.00" y1="306.10" x2="242.00" y2="306.10" stroke="#4d4d4d" stroke-width="0.8"/>
<line x1="255.00" y1="262.10" x2="255.00" y2="264.70" stroke="#555" stroke-width="1.1"/>
<line x1="255.00" y1="271.60" x2="255.00" y2="280.20" stroke="#555" stroke-width="1.1"/>
<rect x="246.20" y="264.70" width="17.60" height="6.90" fill="#bebebe" stroke="#444" stroke-width="0.9"/>
<line x1="246.20" y1="268.50" x2="263.80" y2="268.50" stroke="#444" stroke-width="1.5"/>
<circle cx="255.10" cy="288.50" r="1.2" fill="#000"/>
<line x1="277.20" y1="208.70" x2="277.20" y2="228.10" stroke="#555" stroke-width="1.1"/>
<line x1="277.20" y1="248.00" x2="277.20" y2="270.20" stroke="#555" stroke-width="1.1"/>
<rect x="268.50" y="228.10" width="17.40" height="19.90" fill="#dc4448" stroke="#444" stroke-width="0.9"/>
<line x1="268.50" y1="240.90" x2="285.90" y2="240.90" stroke="#444" stroke-width="1.4"/>
<circle cx="277.20" cy="279.00" r="1.1" fill="#000"/>
<circle cx="277.20" cy="289.60" r="1.1" fill="#000"/>
<circle cx="277.20" cy="303.50" r="1.1" fill="#000"/>
<circle cx="277.20" cy="305.90" r="1.1" fill="#000"/>
<text x="255.20" y="254.60" font-size="7.6" text-anchor="middle" dominant-baseline="central" fill="#4d4d4d">n=10</text>
<text x="280.10" y="221.50" font-size="7.6" text-anchor="start" dominant-baseline="central" fill="#4d4d4d">n=69</text>
<path d="M253.6,204.6 L253.6,201 L277.4,201 L277.4,204.6" fill="none" stroke="#222" stroke-width="0.9"/>
<text x="265.50" y="197.20" font-size="7.2" text-anchor="middle" dominant-baseline="central" fill="#222">p&lt;0.0001</text>
<text transform="translate(341.90,249.00) rotate(-90)" font-size="8.8" text-anchor="middle" dominant-baseline="central" fill="#111">MYC mRNA [FPKM]</text>
<text x="366.20" y="225.60" font-size="8.6" text-anchor="end" dominant-baseline="central" fill="#4d4d4d">750</text>
<line x1="367.70" y1="225.60" x2="369.70" y2="225.60" stroke="#4d4d4d" stroke-width="0.8"/>
<text x="366.20" y="277.00" font-size="8.6" text-anchor="end" dominant-baseline="central" fill="#4d4d4d">250</text>
<line x1="367.70" y1="277.00" x2="369.70" y2="277.00" stroke="#4d4d4d" stroke-width="0.8"/>
<line x1="371.50" y1="299.50" x2="389.20" y2="299.50" stroke="#333" stroke-width="1.3"/>
<circle cx="380.20" cy="300.90" r="1.1" fill="#000"/>
<line x1="403.75" y1="271.30" x2="403.75" y2="285.70" stroke="#555" stroke-width="1.1"/>
<line x1="403.75" y1="295.90" x2="403.75" y2="301.40" stroke="#555" stroke-width="1.1"/>
<rect x="394.90" y="285.70" width="17.70" height="10.20" fill="#dc4448" stroke="#444" stroke-width="0.9"/>
<line x1="394.90" y1="290.20" x2="412.60" y2="290.20" stroke="#444" stroke-width="1.4"/>
<circle cx="403.70" cy="209.70" r="1.1" fill="#000"/>
<circle cx="403.70" cy="232.60" r="1.1" fill="#000"/>
<circle cx="403.70" cy="259.00" r="1.1" fill="#000"/>
<circle cx="403.70" cy="265.20" r="1.1" fill="#000"/>
<text x="380.00" y="291.80" font-size="7.6" text-anchor="middle" dominant-baseline="central" fill="#4d4d4d">n=6</text>
<text x="406.60" y="278.60" font-size="7.6" text-anchor="start" dominant-baseline="central" fill="#4d4d4d">n=48</text>
<path d="M380,206.3 L380,202.6 L403.6,202.6 L403.6,206.3" fill="none" stroke="#222" stroke-width="0.9"/>
<text x="391.40" y="198.80" font-size="7.2" text-anchor="middle" dominant-baseline="central" fill="#222">p&lt;0.0001</text>
<rect x="226.80" y="320.00" width="11.00" height="10.10" fill="#bebebe" stroke="#555" stroke-width="0.8"/>
<text x="245.2" y="321.8" font-size="6.9" dominant-baseline="central" fill="#333">pan CD3<tspan dy="-2.5" font-size="4.5">+</tspan><tspan dy="2.5">T cells from</tspan></text>
<text x="245.20" y="330.80" font-size="6.9" text-anchor="start" dominant-baseline="central" fill="#333">healthy donors</text>
<rect x="334.30" y="320.00" width="11.00" height="10.10" fill="#dc4448" stroke="#444" stroke-width="0.8"/>
<text x="352.70" y="325.10" font-size="6.9" text-anchor="start" dominant-baseline="central" fill="#333">active T-PLL</text>
<text x="445.80" y="187.50" font-size="19.5" text-anchor="start" dominant-baseline="alphabetic" fill="#000" font-weight="bold">E</text>
<text x="580.00" y="183.80" font-size="10" text-anchor="middle" dominant-baseline="central" fill="#000" font-weight="bold">MYC gene copy number</text>
<rect x="477.40" y="200.20" width="59.70" height="6.05" fill="#efb7bd" stroke="none" stroke-width="0"/>
<rect x="537.10" y="200.20" width="8.50" height="6.05" fill="#d22a3a" stroke="none" stroke-width="0"/>
<rect x="477.40" y="206.25" width="18.20" height="6.05" fill="#efb7bd" stroke="none" stroke-width="0"/>
<rect x="495.60" y="206.25" width="13.30" height="6.05" fill="#de6770" stroke="none" stroke-width="0"/>
<rect x="508.90" y="206.25" width="36.70" height="6.05" fill="#d22a3a" stroke="none" stroke-width="0"/>
<line x1="477.40" y1="206.25" x2="545.60" y2="206.25" stroke="#ffffff" stroke-width="0.6" stroke-opacity="0.6"/>
<rect x="477.40" y="200.20" width="68.20" height="12.10" fill="none" stroke="#222" stroke-width="0.9"/>
<text x="466.50" y="206.25" font-size="6.95" text-anchor="end" dominant-baseline="central" fill="#4d4d4d">pair_1</text>
<text x="471.80" y="203.22" font-size="6.2" text-anchor="middle" dominant-baseline="central" fill="#5572a0" font-weight="bold">I</text>
<text x="471.80" y="209.57" font-size="6.6" text-anchor="middle" dominant-baseline="central" fill="#dd3c43" font-weight="bold">A</text>
<line x1="475.40" y1="203.22" x2="477.40" y2="203.22" stroke="#444" stroke-width="0.6"/>
<line x1="475.40" y1="209.27" x2="477.40" y2="209.27" stroke="#444" stroke-width="0.6"/>
<rect x="477.40" y="214.57" width="12.60" height="6.05" fill="#efb7bd" stroke="none" stroke-width="0"/>
<rect x="490.00" y="214.57" width="55.60" height="6.05" fill="#de6770" stroke="none" stroke-width="0"/>
<rect x="477.40" y="220.62" width="12.60" height="6.05" fill="#efb7bd" stroke="none" stroke-width="0"/>
<rect x="490.00" y="220.62" width="55.60" height="6.05" fill="#de6770" stroke="none" stroke-width="0"/>
<line x1="477.40" y1="220.62" x2="545.60" y2="220.62" stroke="#ffffff" stroke-width="0.6" stroke-opacity="0.6"/>
<rect x="477.40" y="214.57" width="68.20" height="12.10" fill="none" stroke="#222" stroke-width="0.9"/>
<text x="466.50" y="220.62" font-size="6.95" text-anchor="end" dominant-baseline="central" fill="#4d4d4d">pair_2</text>
<text x="471.80" y="217.59" font-size="6.2" text-anchor="middle" dominant-baseline="central" fill="#5572a0" font-weight="bold">I</text>
<text x="471.80" y="223.94" font-size="6.6" text-anchor="middle" dominant-baseline="central" fill="#dd3c43" font-weight="bold">A</text>
<line x1="475.40" y1="217.59" x2="477.40" y2="217.59" stroke="#444" stroke-width="0.6"/>
<line x1="475.40" y1="223.64" x2="477.40" y2="223.64" stroke="#444" stroke-width="0.6"/>
<rect x="477.40" y="228.94" width="62.90" height="6.05" fill="#ffffff" stroke="none" stroke-width="0"/>
<rect x="540.30" y="228.94" width="5.30" height="6.05" fill="#de6770" stroke="none" stroke-width="0"/>
<rect x="477.40" y="234.99" width="20.90" height="6.05" fill="#ffffff" stroke="none" stroke-width="0"/>
<rect x="498.30" y="234.99" width="4.70" height="6.05" fill="#efb7bd" stroke="none" stroke-width="0"/>
<rect x="503.00" y="234.99" width="42.60" height="6.05" fill="#de6770" stroke="none" stroke-width="0"/>
<line x1="477.40" y1="234.99" x2="545.60" y2="234.99" stroke="#ffffff" stroke-width="0.6" stroke-opacity="0.6"/>
<rect x="477.40" y="228.94" width="68.20" height="12.10" fill="none" stroke="#222" stroke-width="0.9"/>
<text x="466.50" y="234.99" font-size="6.95" text-anchor="end" dominant-baseline="central" fill="#4d4d4d">pair_3</text>
<text x="471.80" y="231.97" font-size="6.2" text-anchor="middle" dominant-baseline="central" fill="#5572a0" font-weight="bold">I</text>
<text x="471.80" y="238.31" font-size="6.6" text-anchor="middle" dominant-baseline="central" fill="#dd3c43" font-weight="bold">A</text>
<line x1="475.40" y1="231.97" x2="477.40" y2="231.97" stroke="#444" stroke-width="0.6"/>
<line x1="475.40" y1="238.01" x2="477.40" y2="238.01" stroke="#444" stroke-width="0.6"/>
<rect x="477.40" y="243.31" width="9.40" height="6.05" fill="#ffffff" stroke="none" stroke-width="0"/>
<rect x="486.80" y="243.31" width="58.80" height="6.05" fill="#efb7bd" stroke="none" stroke-width="0"/>
<rect x="477.40" y="249.36" width="68.20" height="6.05" fill="#efb7bd" stroke="none" stroke-width="0"/>
<line x1="477.40" y1="249.36" x2="545.60" y2="249.36" stroke="#ffffff" stroke-width="0.6" stroke-opacity="0.6"/>
<rect x="477.40" y="243.31" width="68.20" height="12.10" fill="none" stroke="#222" stroke-width="0.9"/>
<text x="466.50" y="249.36" font-size="6.95" text-anchor="end" dominant-baseline="central" fill="#4d4d4d">pair_4</text>
<text x="471.80" y="246.34" font-size="6.2" text-anchor="middle" dominant-baseline="central" fill="#5572a0" font-weight="bold">I</text>
<text x="471.80" y="252.69" font-size="6.6" text-anchor="middle" dominant-baseline="central" fill="#dd3c43" font-weight="bold">A</text>
<line x1="475.40" y1="246.34" x2="477.40" y2="246.34" stroke="#444" stroke-width="0.6"/>
<line x1="475.40" y1="252.38" x2="477.40" y2="252.38" stroke="#444" stroke-width="0.6"/>
<rect x="477.40" y="257.68" width="68.20" height="6.05" fill="#efb7bd" stroke="none" stroke-width="0"/>
<rect x="477.40" y="263.73" width="68.20" height="6.05" fill="#efb7bd" stroke="none" stroke-width="0"/>
<line x1="477.40" y1="263.73" x2="545.60" y2="263.73" stroke="#ffffff" stroke-width="0.6" stroke-opacity="0.6"/>
<rect x="477.40" y="257.68" width="68.20" height="12.10" fill="none" stroke="#222" stroke-width="0.9"/>
<text x="466.50" y="263.73" font-size="6.95" text-anchor="end" dominant-baseline="central" fill="#4d4d4d">pair_5</text>
<text x="471.80" y="260.70" font-size="6.2" text-anchor="middle" dominant-baseline="central" fill="#5572a0" font-weight="bold">I</text>
<text x="471.80" y="267.06" font-size="6.6" text-anchor="middle" dominant-baseline="central" fill="#dd3c43" font-weight="bold">A</text>
<line x1="475.40" y1="260.70" x2="477.40" y2="260.70" stroke="#444" stroke-width="0.6"/>
<line x1="475.40" y1="266.75" x2="477.40" y2="266.75" stroke="#444" stroke-width="0.6"/>
<rect x="477.40" y="272.05" width="68.20" height="6.05" fill="#efb7bd" stroke="none" stroke-width="0"/>
<rect x="477.40" y="278.10" width="31.50" height="6.05" fill="#efb7bd" stroke="none" stroke-width="0"/>
<rect x="508.90" y="278.10" width="36.70" height="6.05" fill="#de6770" stroke="none" stroke-width="0"/>
<line x1="477.40" y1="278.10" x2="545.60" y2="278.10" stroke="#ffffff" stroke-width="0.6" stroke-opacity="0.6"/>
<rect x="477.40" y="272.05" width="68.20" height="12.10" fill="none" stroke="#222" stroke-width="0.9"/>
<text x="466.50" y="278.10" font-size="6.95" text-anchor="end" dominant-baseline="central" fill="#4d4d4d">pair_6</text>
<text x="471.80" y="275.07" font-size="6.2" text-anchor="middle" dominant-baseline="central" fill="#5572a0" font-weight="bold">I</text>
<text x="471.80" y="281.42" font-size="6.6" text-anchor="middle" dominant-baseline="central" fill="#dd3c43" font-weight="bold">A</text>
<line x1="475.40" y1="275.07" x2="477.40" y2="275.07" stroke="#444" stroke-width="0.6"/>
<line x1="475.40" y1="281.12" x2="477.40" y2="281.12" stroke="#444" stroke-width="0.6"/>
<rect x="477.40" y="286.42" width="68.20" height="6.05" fill="#efb7bd" stroke="none" stroke-width="0"/>
<rect x="477.40" y="292.47" width="64.50" height="6.05" fill="#efb7bd" stroke="none" stroke-width="0"/>
<rect x="541.90" y="292.47" width="3.70" height="6.05" fill="#de6770" stroke="none" stroke-width="0"/>
<line x1="477.40" y1="292.47" x2="545.60" y2="292.47" stroke="#ffffff" stroke-width="0.6" stroke-opacity="0.6"/>
<rect x="477.40" y="286.42" width="68.20" height="12.10" fill="none" stroke="#222" stroke-width="0.9"/>
<text x="466.50" y="292.47" font-size="6.95" text-anchor="end" dominant-baseline="central" fill="#4d4d4d">pair_7</text>
<text x="471.80" y="289.44" font-size="6.2" text-anchor="middle" dominant-baseline="central" fill="#5572a0" font-weight="bold">I</text>
<text x="471.80" y="295.79" font-size="6.6" text-anchor="middle" dominant-baseline="central" fill="#dd3c43" font-weight="bold">A</text>
<line x1="475.40" y1="289.44" x2="477.40" y2="289.44" stroke="#444" stroke-width="0.6"/>
<line x1="475.40" y1="295.49" x2="477.40" y2="295.49" stroke="#444" stroke-width="0.6"/>
<rect x="477.40" y="300.79" width="68.20" height="6.05" fill="#efb7bd" stroke="none" stroke-width="0"/>
<rect x="477.40" y="306.84" width="68.20" height="6.05" fill="#efb7bd" stroke="none" stroke-width="0"/>
<line x1="477.40" y1="306.84" x2="545.60" y2="306.84" stroke="#ffffff" stroke-width="0.6" stroke-opacity="0.6"/>
<rect x="477.40" y="300.79" width="68.20" height="12.10" fill="none" stroke="#222" stroke-width="0.9"/>
<text x="466.50" y="306.84" font-size="6.95" text-anchor="end" dominant-baseline="central" fill="#4d4d4d">pair_8</text>
<text x="471.80" y="303.81" font-size="6.2" text-anchor="middle" dominant-baseline="central" fill="#5572a0" font-weight="bold">I</text>
<text x="471.80" y="310.16" font-size="6.6" text-anchor="middle" dominant-baseline="central" fill="#dd3c43" font-weight="bold">A</text>
<line x1="475.40" y1="303.81" x2="477.40" y2="303.81" stroke="#444" stroke-width="0.6"/>
<line x1="475.40" y1="309.86" x2="477.40" y2="309.86" stroke="#444" stroke-width="0.6"/>
<rect x="616.00" y="200.20" width="12.40" height="6.05" fill="#ffffff" stroke="none" stroke-width="0"/>
<rect x="628.40" y="200.20" width="56.00" height="6.05" fill="#de6770" stroke="none" stroke-width="0"/>
<rect x="616.00" y="206.25" width="68.40" height="6.05" fill="#de6770" stroke="none" stroke-width="0"/>
<line x1="616.00" y1="206.25" x2="684.40" y2="206.25" stroke="#ffffff" stroke-width="0.6" stroke-opacity="0.6"/>
<rect x="616.00" y="200.20" width="68.40" height="12.10" fill="none" stroke="#222" stroke-width="0.9"/>
<text x="606.60" y="206.25" font-size="6.95" text-anchor="end" dominant-baseline="central" fill="#4d4d4d">pair_9</text>
<text x="611.90" y="203.22" font-size="6.2" text-anchor="middle" dominant-baseline="central" fill="#5572a0" font-weight="bold">I</text>
<text x="611.90" y="209.57" font-size="6.6" text-anchor="middle" dominant-baseline="central" fill="#dd3c43" font-weight="bold">A</text>
<line x1="614.00" y1="203.22" x2="616.00" y2="203.22" stroke="#444" stroke-width="0.6"/>
<line x1="614.00" y1="209.27" x2="616.00" y2="209.27" stroke="#444" stroke-width="0.6"/>
<rect x="616.00" y="214.60" width="12.80" height="6.05" fill="#ffffff" stroke="none" stroke-width="0"/>
<rect x="628.80" y="214.60" width="44.40" height="6.05" fill="#efb7bd" stroke="none" stroke-width="0"/>
<rect x="673.20" y="214.60" width="11.20" height="6.05" fill="#de6770" stroke="none" stroke-width="0"/>
<rect x="616.00" y="220.65" width="68.40" height="6.05" fill="#efb7bd" stroke="none" stroke-width="0"/>
<line x1="616.00" y1="220.65" x2="684.40" y2="220.65" stroke="#ffffff" stroke-width="0.6" stroke-opacity="0.6"/>
<rect x="616.00" y="214.60" width="68.40" height="12.10" fill="none" stroke="#222" stroke-width="0.9"/>
<text x="606.60" y="220.65" font-size="6.95" text-anchor="end" dominant-baseline="central" fill="#4d4d4d">pair_10</text>
<text x="611.90" y="217.62" font-size="6.2" text-anchor="middle" dominant-baseline="central" fill="#5572a0" font-weight="bold">I</text>
<text x="611.90" y="223.97" font-size="6.6" text-anchor="middle" dominant-baseline="central" fill="#dd3c43" font-weight="bold">A</text>
<line x1="614.00" y1="217.62" x2="616.00" y2="217.62" stroke="#444" stroke-width="0.6"/>
<line x1="614.00" y1="223.67" x2="616.00" y2="223.67" stroke="#444" stroke-width="0.6"/>
<rect x="616.00" y="229.30" width="68.40" height="6.05" fill="#efb7bd" stroke="none" stroke-width="0"/>
<rect x="616.00" y="235.35" width="68.40" height="6.05" fill="#efb7bd" stroke="none" stroke-width="0"/>
<line x1="616.00" y1="235.35" x2="684.40" y2="235.35" stroke="#ffffff" stroke-width="0.6" stroke-opacity="0.6"/>
<rect x="616.00" y="229.30" width="68.40" height="12.10" fill="none" stroke="#222" stroke-width="0.9"/>
<text x="606.60" y="235.35" font-size="6.95" text-anchor="end" dominant-baseline="central" fill="#4d4d4d">pair_11</text>
<text x="611.90" y="232.33" font-size="6.2" text-anchor="middle" dominant-baseline="central" fill="#5572a0" font-weight="bold">I</text>
<text x="611.90" y="238.68" font-size="6.6" text-anchor="middle" dominant-baseline="central" fill="#dd3c43" font-weight="bold">A</text>
<line x1="614.00" y1="232.33" x2="616.00" y2="232.33" stroke="#444" stroke-width="0.6"/>
<line x1="614.00" y1="238.38" x2="616.00" y2="238.38" stroke="#444" stroke-width="0.6"/>
<rect x="616.00" y="246.60" width="57.20" height="6.70" fill="#efb7bd" stroke="none" stroke-width="0"/>
<rect x="673.20" y="246.60" width="11.20" height="6.70" fill="#de6770" stroke="none" stroke-width="0"/>
<rect x="616.00" y="246.60" width="68.40" height="6.70" fill="none" stroke="#222" stroke-width="0.9"/>
<text x="606.60" y="249.95" font-size="6.95" text-anchor="end" dominant-baseline="central" fill="#4d4d4d">single_indolent_1</text>
<text x="611.90" y="249.95" font-size="6.2" text-anchor="middle" dominant-baseline="central" fill="#5572a0" font-weight="bold">I</text>
<line x1="614.00" y1="249.95" x2="616.00" y2="249.95" stroke="#444" stroke-width="0.6"/>
<rect x="616.00" y="257.80" width="4.60" height="6.70" fill="#ffffff" stroke="none" stroke-width="0"/>
<rect x="620.60" y="257.80" width="63.80" height="6.70" fill="#de6770" stroke="none" stroke-width="0"/>
<rect x="616.00" y="257.80" width="68.40" height="6.70" fill="none" stroke="#222" stroke-width="0.9"/>
<text x="606.60" y="261.15" font-size="6.95" text-anchor="end" dominant-baseline="central" fill="#4d4d4d">single_indolent_2</text>
<text x="611.90" y="261.15" font-size="6.2" text-anchor="middle" dominant-baseline="central" fill="#5572a0" font-weight="bold">I</text>
<line x1="614.00" y1="261.15" x2="616.00" y2="261.15" stroke="#444" stroke-width="0.6"/>
<rect x="616.00" y="269.20" width="68.40" height="6.70" fill="#ffffff" stroke="none" stroke-width="0"/>
<rect x="616.00" y="269.20" width="68.40" height="6.70" fill="none" stroke="#222" stroke-width="0.9"/>
<text x="606.60" y="272.55" font-size="6.95" text-anchor="end" dominant-baseline="central" fill="#4d4d4d">single_indolent_3</text>
<text x="611.90" y="272.55" font-size="6.2" text-anchor="middle" dominant-baseline="central" fill="#5572a0" font-weight="bold">I</text>
<line x1="614.00" y1="272.55" x2="616.00" y2="272.55" stroke="#444" stroke-width="0.6"/>
<rect x="616.00" y="280.60" width="68.40" height="6.70" fill="#ffffff" stroke="none" stroke-width="0"/>
<rect x="616.00" y="280.60" width="68.40" height="6.70" fill="none" stroke="#222" stroke-width="0.9"/>
<text x="606.60" y="283.95" font-size="6.95" text-anchor="end" dominant-baseline="central" fill="#4d4d4d">single_indolent_4</text>
<text x="611.90" y="283.95" font-size="6.2" text-anchor="middle" dominant-baseline="central" fill="#5572a0" font-weight="bold">I</text>
<line x1="614.00" y1="283.95" x2="616.00" y2="283.95" stroke="#444" stroke-width="0.6"/>
<rect x="616.00" y="292.00" width="44.00" height="6.70" fill="#ffffff" stroke="none" stroke-width="0"/>
<rect x="660.00" y="292.00" width="24.40" height="6.70" fill="#efb7bd" stroke="none" stroke-width="0"/>
<rect x="616.00" y="292.00" width="68.40" height="6.70" fill="none" stroke="#222" stroke-width="0.9"/>
<text x="606.60" y="295.35" font-size="6.95" text-anchor="end" dominant-baseline="central" fill="#4d4d4d">single_indolent_5</text>
<text x="611.90" y="295.35" font-size="6.2" text-anchor="middle" dominant-baseline="central" fill="#5572a0" font-weight="bold">I</text>
<line x1="614.00" y1="295.35" x2="616.00" y2="295.35" stroke="#444" stroke-width="0.6"/>
<rect x="616.00" y="306.90" width="60.70" height="6.70" fill="#ffffff" stroke="none" stroke-width="0"/>
<rect x="676.70" y="306.90" width="7.70" height="6.70" fill="#efb7bd" stroke="none" stroke-width="0"/>
<rect x="616.00" y="306.90" width="68.40" height="6.70" fill="none" stroke="#222" stroke-width="0.9"/>
<text x="606.60" y="310.25" font-size="6.95" text-anchor="end" dominant-baseline="central" fill="#4d4d4d">single_active_1</text>
<text x="611.90" y="310.55" font-size="6.6" text-anchor="middle" dominant-baseline="central" fill="#dd3c43" font-weight="bold">A</text>
<line x1="614.00" y1="310.25" x2="616.00" y2="310.25" stroke="#444" stroke-width="0.6"/>
<text x="512.90" y="326.40" font-size="7.25" text-anchor="start" dominant-baseline="central" fill="#222">inferred copy number:</text>
<rect x="587.20" y="322.40" width="8.30" height="8.30" fill="#ffffff" stroke="#333" stroke-width="0.8"/>
<text x="597.60" y="326.60" font-size="9" text-anchor="start" dominant-baseline="central" fill="#222">2</text>
<rect x="612.70" y="322.40" width="8.30" height="8.30" fill="#efb7bd" stroke="#333" stroke-width="0.8"/>
<text x="623.40" y="326.60" font-size="9" text-anchor="start" dominant-baseline="central" fill="#222">3</text>
<rect x="639.50" y="322.40" width="8.30" height="8.30" fill="#de6770" stroke="#333" stroke-width="0.8"/>
<text x="649.60" y="326.60" font-size="9" text-anchor="start" dominant-baseline="central" fill="#222">4</text>
<rect x="665.30" y="322.40" width="8.30" height="8.30" fill="#d22a3a" stroke="#333" stroke-width="0.8"/>
<text x="674.00" y="326.60" font-size="9" text-anchor="start" dominant-baseline="central" fill="#222">&gt;4</text>
<text x="0.60" y="357.60" font-size="19.5" text-anchor="start" dominant-baseline="alphabetic" fill="#000" font-weight="bold">F</text>
<text transform="translate(4.30,437.50) rotate(-90)" font-size="8.8" text-anchor="middle" dominant-baseline="central" fill="#111">MYC targets V2 expression score</text>
<text x="30.70" y="384.20" font-size="8.4" text-anchor="end" dominant-baseline="central" fill="#666">0.2</text>
<line x1="35.60" y1="383.50" x2="37.60" y2="383.50" stroke="#333" stroke-width="0.9"/>
<text x="30.70" y="413.90" font-size="8.4" text-anchor="end" dominant-baseline="central" fill="#666">0.1</text>
<line x1="35.60" y1="413.20" x2="37.60" y2="413.20" stroke="#333" stroke-width="0.9"/>
<text x="30.70" y="443.30" font-size="8.4" text-anchor="end" dominant-baseline="central" fill="#666">0.0</text>
<line x1="35.60" y1="442.60" x2="37.60" y2="442.60" stroke="#333" stroke-width="0.9"/>
<text x="30.70" y="472.50" font-size="8.4" text-anchor="end" dominant-baseline="central" fill="#666">-0.1</text>
<line x1="35.60" y1="471.80" x2="37.60" y2="471.80" stroke="#333" stroke-width="0.9"/>
<text x="30.70" y="501.60" font-size="8.4" text-anchor="end" dominant-baseline="central" fill="#666">-0.2</text>
<line x1="35.60" y1="500.90" x2="37.60" y2="500.90" stroke="#333" stroke-width="0.9"/>
<line x1="42.20" y1="502.20" x2="42.20" y2="504.20" stroke="#555" stroke-width="0.8"/>
<text x="42.20" y="511.40" font-size="8.2" text-anchor="middle" dominant-baseline="central" fill="#666">0</text>
<line x1="81.00" y1="502.20" x2="81.00" y2="504.20" stroke="#555" stroke-width="0.8"/>
<text x="81.00" y="511.40" font-size="8.2" text-anchor="middle" dominant-baseline="central" fill="#666">100</text>
<line x1="119.80" y1="502.20" x2="119.80" y2="504.20" stroke="#555" stroke-width="0.8"/>
<text x="119.80" y="511.40" font-size="8.2" text-anchor="middle" dominant-baseline="central" fill="#666">200</text>
<line x1="158.70" y1="502.20" x2="158.70" y2="504.20" stroke="#555" stroke-width="0.8"/>
<text x="158.70" y="511.40" font-size="8.2" text-anchor="middle" dominant-baseline="central" fill="#666">300</text>
<text x="106.50" y="524.50" font-size="8.2" text-anchor="middle" dominant-baseline="central" fill="#111">MYC expression [CPM]</text>
<g fill="#000">
<rect x="63.9" y="458.5" width="1.3" height="1.3"/>
<rect x="74.3" y="453.4" width="1.3" height="1.3"/>
<rect x="72.4" y="457.0" width="1.3" height="1.3"/>
<rect x="51.3" y="486.3" width="1.3" height="1.3"/>
<rect x="74.6" y="458.5" width="1.3" height="1.3"/>
<rect x="83.8" y="446.6" width="1.3" height="1.3"/>
<rect x="86.5" y="448.1" width="1.3" height="1.3"/>
<rect x="60.1" y="462.0" width="1.3" height="1.3"/>
<rect x="61.6" y="479.6" width="1.3" height="1.3"/>
<rect x="80.3" y="449.3" width="1.3" height="1.3"/>
<rect x="98.6" y="430.2" width="1.3" height="1.3"/>
<rect x="105.2" y="433.3" width="1.3" height="1.3"/>
<rect x="80.8" y="425.0" width="1.3" height="1.3"/>
<rect x="92.4" y="435.7" width="1.3" height="1.3"/>
<rect x="54.9" y="463.8" width="1.3" height="1.3"/>
<rect x="128.4" y="419.7" width="1.3" height="1.3"/>
<rect x="91.0" y="444.9" width="1.3" height="1.3"/>
<rect x="105.5" y="432.7" width="1.3" height="1.3"/>
<rect x="70.3" y="453.0" width="1.3" height="1.3"/>
<rect x="88.3" y="446.2" width="1.3" height="1.3"/>
<rect x="109.3" y="427.0" width="1.3" height="1.3"/>
<rect x="129.5" y="421.9" width="1.3" height="1.3"/>
<rect x="80.4" y="446.8" width="1.3" height="1.3"/>
<rect x="96.8" y="435.9" width="1.3" height="1.3"/>
<rect x="73.6" y="441.8" width="1.3" height="1.3"/>
<rect x="96.7" y="441.1" width="1.3" height="1.3"/>
<rect x="71.4" y="457.7" width="1.3" height="1.3"/>
<rect x="66.9" y="461.6" width="1.3" height="1.3"/>
<rect x="140.8" y="408.9" width="1.3" height="1.3"/>
<rect x="86.0" y="446.6" width="1.3" height="1.3"/>
<rect x="76.8" y="444.9" width="1.3" height="1.3"/>
<rect x="77.8" y="453.3" width="1.3" height="1.3"/>
<rect x="85.0" y="456.6" width="1.3" height="1.3"/>
<rect x="72.5" y="464.7" width="1.3" height="1.3"/>
<rect x="78.6" y="455.1" width="1.3" height="1.3"/>
<rect x="62.8" y="466.7" width="1.3" height="1.3"/>
<rect x="127.0" y="412.9" width="1.3" height="1.3"/>
<rect x="71.4" y="453.7" width="1.3" height="1.3"/>
<rect x="108.9" y="424.0" width="1.3" height="1.3"/>
<rect x="65.6" y="455.6" width="1.3" height="1.3"/>
<rect x="89.7" y="443.0" width="1.3" height="1.3"/>
<rect x="109.1" y="426.3" width="1.3" height="1.3"/>
<rect x="98.2" y="435.7" width="1.3" height="1.3"/>
<rect x="140.3" y="412.5" width="1.3" height="1.3"/>
<rect x="60.8" y="468.3" width="1.3" height="1.3"/>
<rect x="133.6" y="405.1" width="1.3" height="1.3"/>
<rect x="61.6" y="458.8" width="1.3" height="1.3"/>
<rect x="81.4" y="446.8" width="1.3" height="1.3"/>
<rect x="85.4" y="452.9" width="1.3" height="1.3"/>
<rect x="95.5" y="437.9" width="1.3" height="1.3"/>
<rect x="75.2" y="449.4" width="1.3" height="1.3"/>
<rect x="130.4" y="421.2" width="1.3" height="1.3"/>
<rect x="69.6" y="448.6" width="1.3" height="1.3"/>
<rect x="140.7" y="413.3" width="1.3" height="1.3"/>
<rect x="76.7" y="453.6" width="1.3" height="1.3"/>
<rect x="139.2" y="414.5" width="1.3" height="1.3"/>
<rect x="76.1" y="451.1" width="1.3" height="1.3"/>
<rect x="95.7" y="435.4" width="1.3" height="1.3"/>
<rect x="145.5" y="406.6" width="1.3" height="1.3"/>
<rect x="123.2" y="425.0" width="1.3" height="1.3"/>
<rect x="65.0" y="458.4" width="1.3" height="1.3"/>
<rect x="96.6" y="443.1" width="1.3" height="1.3"/>
<rect x="110.5" y="436.6" width="1.3" height="1.3"/>
<rect x="89.9" y="437.9" width="1.3" height="1.3"/>
<rect x="131.5" y="410.8" width="1.3" height="1.3"/>
<rect x="82.7" y="447.8" width="1.3" height="1.3"/>
<rect x="88.6" y="447.1" width="1.3" height="1.3"/>
<rect x="52.6" y="471.8" width="1.3" height="1.3"/>
<rect x="93.2" y="430.9" width="1.3" height="1.3"/>
<rect x="133.3" y="410.0" width="1.3" height="1.3"/>
<rect x="117.1" y="428.5" width="1.3" height="1.3"/>
<rect x="136.8" y="402.2" width="1.3" height="1.3"/>
<rect x="88.2" y="446.7" width="1.3" height="1.3"/>
<rect x="54.0" y="481.9" width="1.3" height="1.3"/>
<rect x="124.6" y="415.0" width="1.3" height="1.3"/>
<rect x="116.2" y="421.9" width="1.3" height="1.3"/>
<rect x="56.6" y="470.4" width="1.3" height="1.3"/>
<rect x="119.0" y="427.1" width="1.3" height="1.3"/>
<rect x="90.2" y="446.5" width="1.3" height="1.3"/>
<rect x="96.4" y="443.9" width="1.3" height="1.3"/>
<rect x="131.8" y="398.4" width="1.3" height="1.3"/>
<rect x="83.7" y="442.7" width="1.3" height="1.3"/>
<rect x="78.5" y="440.9" width="1.3" height="1.3"/>
<rect x="75.6" y="445.2" width="1.3" height="1.3"/>
<rect x="109.1" y="442.1" width="1.3" height="1.3"/>
<rect x="124.0" y="424.4" width="1.3" height="1.3"/>
<rect x="106.1" y="445.1" width="1.3" height="1.3"/>
<rect x="91.0" y="444.2" width="1.3" height="1.3"/>
<rect x="55.7" y="474.6" width="1.3" height="1.3"/>
<rect x="91.9" y="447.7" width="1.3" height="1.3"/>
<rect x="73.7" y="445.3" width="1.3" height="1.3"/>
<rect x="121.7" y="427.6" width="1.3" height="1.3"/>
<rect x="46.1" y="472.9" width="1.3" height="1.3"/>
<rect x="95.0" y="440.4" width="1.3" height="1.3"/>
<rect x="72.7" y="458.0" width="1.3" height="1.3"/>
<rect x="80.1" y="446.5" width="1.3" height="1.3"/>
<rect x="89.7" y="448.5" width="1.3" height="1.3"/>
<rect x="59.3" y="468.6" width="1.3" height="1.3"/>
<rect x="61.0" y="458.8" width="1.3" height="1.3"/>
<rect x="128.1" y="421.2" width="1.3" height="1.3"/>
<rect x="141.8" y="416.3" width="1.3" height="1.3"/>
<rect x="94.4" y="437.5" width="1.3" height="1.3"/>
<rect x="105.6" y="432.4" width="1.3" height="1.3"/>
<rect x="65.2" y="446.7" width="1.3" height="1.3"/>
<rect x="98.9" y="437.2" width="1.3" height="1.3"/>
<rect x="77.7" y="461.3" width="1.3" height="1.3"/>
<rect x="52.2" y="473.5" width="1.3" height="1.3"/>
<rect x="56.6" y="470.3" width="1.3" height="1.3"/>
<rect x="85.6" y="439.2" width="1.3" height="1.3"/>
<rect x="78.8" y="452.4" width="1.3" height="1.3"/>
<rect x="169.0" y="396.2" width="1.3" height="1.3"/>
<rect x="103.7" y="432.5" width="1.3" height="1.3"/>
<rect x="56.6" y="469.4" width="1.3" height="1.3"/>
<rect x="113.9" y="429.4" width="1.3" height="1.3"/>
<rect x="48.3" y="479.9" width="1.3" height="1.3"/>
<rect x="94.2" y="445.4" width="1.3" height="1.3"/>
<rect x="137.0" y="416.7" width="1.3" height="1.3"/>
<rect x="58.6" y="452.5" width="1.3" height="1.3"/>
<rect x="111.5" y="428.9" width="1.3" height="1.3"/>
<rect x="88.1" y="435.2" width="1.3" height="1.3"/>
<rect x="140.7" y="410.9" width="1.3" height="1.3"/>
<rect x="45.8" y="484.5" width="1.3" height="1.3"/>
<rect x="89.6" y="438.8" width="1.3" height="1.3"/>
<rect x="105.0" y="440.0" width="1.3" height="1.3"/>
<rect x="70.8" y="450.2" width="1.3" height="1.3"/>
<rect x="70.4" y="447.6" width="1.3" height="1.3"/>
<rect x="55.9" y="480.5" width="1.3" height="1.3"/>
<rect x="85.5" y="444.2" width="1.3" height="1.3"/>
<rect x="85.3" y="448.6" width="1.3" height="1.3"/>
<rect x="125.2" y="423.7" width="1.3" height="1.3"/>
<rect x="126.0" y="412.2" width="1.3" height="1.3"/>
<rect x="52.2" y="473.2" width="1.3" height="1.3"/>
<rect x="106.9" y="430.8" width="1.3" height="1.3"/>
<rect x="52.5" y="473.0" width="1.3" height="1.3"/>
<rect x="119.1" y="421.7" width="1.3" height="1.3"/>
<rect x="69.8" y="452.7" width="1.3" height="1.3"/>
<rect x="75.0" y="456.0" width="1.3" height="1.3"/>
<rect x="82.7" y="447.3" width="1.3" height="1.3"/>
<rect x="134.5" y="410.5" width="1.3" height="1.3"/>
<rect x="143.7" y="411.6" width="1.3" height="1.3"/>
<rect x="68.9" y="457.4" width="1.3" height="1.3"/>
<rect x="133.3" y="421.1" width="1.3" height="1.3"/>
<rect x="137.7" y="416.8" width="1.3" height="1.3"/>
<rect x="100.8" y="441.7" width="1.3" height="1.3"/>
<rect x="89.6" y="440.4" width="1.3" height="1.3"/>
<rect x="61.2" y="456.4" width="1.3" height="1.3"/>
<rect x="99.0" y="450.7" width="1.3" height="1.3"/>
<rect x="71.3" y="461.6" width="1.3" height="1.3"/>
<rect x="58.4" y="465.5" width="1.3" height="1.3"/>
<rect x="113.0" y="423.4" width="1.3" height="1.3"/>
<rect x="55.3" y="480.1" width="1.3" height="1.3"/>
<rect x="101.2" y="434.5" width="1.3" height="1.3"/>
<rect x="55.2" y="472.7" width="1.3" height="1.3"/>
<rect x="89.4" y="444.0" width="1.3" height="1.3"/>
<rect x="67.6" y="454.7" width="1.3" height="1.3"/>
<rect x="62.1" y="474.5" width="1.3" height="1.3"/>
<rect x="109.2" y="436.8" width="1.3" height="1.3"/>
<rect x="86.4" y="449.9" width="1.3" height="1.3"/>
<rect x="116.7" y="431.0" width="1.3" height="1.3"/>
<rect x="80.1" y="453.3" width="1.3" height="1.3"/>
<rect x="70.8" y="456.9" width="1.3" height="1.3"/>
<rect x="75.4" y="444.9" width="1.3" height="1.3"/>
<rect x="84.4" y="449.1" width="1.3" height="1.3"/>
<rect x="88.0" y="441.4" width="1.3" height="1.3"/>
<rect x="113.2" y="431.4" width="1.3" height="1.3"/>
<rect x="96.8" y="444.6" width="1.3" height="1.3"/>
<rect x="103.5" y="451.7" width="1.3" height="1.3"/>
<rect x="64.2" y="459.4" width="1.3" height="1.3"/>
<rect x="98.6" y="442.8" width="1.3" height="1.3"/>
<rect x="71.6" y="451.7" width="1.3" height="1.3"/>
<rect x="97.3" y="430.7" width="1.3" height="1.3"/>
<rect x="66.7" y="453.9" width="1.3" height="1.3"/>
<rect x="76.3" y="451.1" width="1.3" height="1.3"/>
<rect x="85.7" y="434.0" width="1.3" height="1.3"/>
<rect x="58.8" y="471.6" width="1.3" height="1.3"/>
<rect x="91.7" y="448.7" width="1.3" height="1.3"/>
<rect x="103.3" y="438.2" width="1.3" height="1.3"/>
<rect x="80.5" y="441.6" width="1.3" height="1.3"/>
<rect x="83.8" y="440.7" width="1.3" height="1.3"/>
<rect x="52.4" y="483.6" width="1.3" height="1.3"/>
<rect x="48.7" y="475.4" width="1.3" height="1.3"/>
<rect x="118.6" y="417.4" width="1.3" height="1.3"/>
<rect x="138.5" y="398.7" width="1.3" height="1.3"/>
<rect x="129.4" y="417.0" width="1.3" height="1.3"/>
<rect x="44.7" y="486.6" width="1.3" height="1.3"/>
<rect x="151.4" y="407.7" width="1.3" height="1.3"/>
<rect x="65.8" y="462.7" width="1.3" height="1.3"/>
<rect x="77.6" y="452.8" width="1.3" height="1.3"/>
<rect x="84.6" y="447.6" width="1.3" height="1.3"/>
<rect x="86.2" y="444.4" width="1.3" height="1.3"/>
<rect x="84.5" y="449.6" width="1.3" height="1.3"/>
<rect x="83.5" y="449.7" width="1.3" height="1.3"/>
<rect x="82.2" y="443.4" width="1.3" height="1.3"/>
<rect x="121.9" y="432.0" width="1.3" height="1.3"/>
<rect x="51.1" y="479.8" width="1.3" height="1.3"/>
<rect x="74.9" y="460.6" width="1.3" height="1.3"/>
<rect x="69.1" y="453.0" width="1.3" height="1.3"/>
<rect x="160.4" y="395.0" width="1.3" height="1.3"/>
<rect x="61.4" y="464.3" width="1.3" height="1.3"/>
<rect x="71.7" y="453.0" width="1.3" height="1.3"/>
<rect x="78.8" y="459.4" width="1.3" height="1.3"/>
<rect x="97.9" y="438.1" width="1.3" height="1.3"/>
<rect x="81.5" y="447.5" width="1.3" height="1.3"/>
<rect x="138.0" y="411.2" width="1.3" height="1.3"/>
<rect x="114.4" y="416.2" width="1.3" height="1.3"/>
<rect x="91.6" y="436.9" width="1.3" height="1.3"/>
<rect x="116.3" y="440.3" width="1.3" height="1.3"/>
<rect x="102.6" y="432.1" width="1.3" height="1.3"/>
<rect x="114.0" y="427.7" width="1.3" height="1.3"/>
<rect x="73.3" y="458.7" width="1.3" height="1.3"/>
<rect x="77.5" y="448.6" width="1.3" height="1.3"/>
<rect x="120.0" y="423.1" width="1.3" height="1.3"/>
<rect x="57.7" y="472.4" width="1.3" height="1.3"/>
<rect x="78.4" y="450.4" width="1.3" height="1.3"/>
<rect x="89.2" y="449.7" width="1.3" height="1.3"/>
<rect x="64.2" y="459.8" width="1.3" height="1.3"/>
<rect x="73.3" y="450.4" width="1.3" height="1.3"/>
<rect x="57.1" y="477.8" width="1.3" height="1.3"/>
<rect x="62.0" y="470.7" width="1.3" height="1.3"/>
<rect x="107.6" y="435.9" width="1.3" height="1.3"/>
<rect x="48.7" y="482.6" width="1.3" height="1.3"/>
<rect x="83.1" y="449.7" width="1.3" height="1.3"/>
<rect x="123.8" y="427.5" width="1.3" height="1.3"/>
<rect x="59.8" y="453.5" width="1.3" height="1.3"/>
<rect x="70.8" y="459.8" width="1.3" height="1.3"/>
<rect x="62.9" y="449.0" width="1.3" height="1.3"/>
<rect x="78.2" y="449.6" width="1.3" height="1.3"/>
<rect x="75.5" y="450.2" width="1.3" height="1.3"/>
<rect x="90.8" y="433.6" width="1.3" height="1.3"/>
<rect x="86.0" y="434.9" width="1.3" height="1.3"/>
<rect x="69.7" y="456.3" width="1.3" height="1.3"/>
<rect x="123.6" y="424.4" width="1.3" height="1.3"/>
<rect x="128.8" y="416.9" width="1.3" height="1.3"/>
<rect x="82.3" y="453.7" width="1.3" height="1.3"/>
<rect x="99.3" y="435.3" width="1.3" height="1.3"/>
<rect x="92.5" y="440.6" width="1.3" height="1.3"/>
<rect x="56.4" y="466.2" width="1.3" height="1.3"/>
<rect x="146.0" y="404.3" width="1.3" height="1.3"/>
<rect x="112.9" y="426.2" width="1.3" height="1.3"/>
<rect x="45.9" y="476.4" width="1.3" height="1.3"/>
<rect x="86.1" y="445.7" width="1.3" height="1.3"/>
<rect x="143.5" y="405.7" width="1.3" height="1.3"/>
<rect x="110.6" y="422.8" width="1.3" height="1.3"/>
<rect x="60.7" y="461.6" width="1.3" height="1.3"/>
<rect x="83.7" y="449.3" width="1.3" height="1.3"/>
<rect x="103.9" y="430.6" width="1.3" height="1.3"/>
<rect x="107.5" y="439.3" width="1.3" height="1.3"/>
<rect x="123.3" y="417.3" width="1.3" height="1.3"/>
<rect x="96.9" y="439.0" width="1.3" height="1.3"/>
<rect x="166.2" y="381.9" width="1.3" height="1.3"/>
<rect x="56.5" y="472.7" width="1.3" height="1.3"/>
<rect x="59.3" y="464.2" width="1.3" height="1.3"/>
<rect x="113.1" y="433.3" width="1.3" height="1.3"/>
<rect x="52.7" y="468.0" width="1.3" height="1.3"/>
<rect x="91.2" y="443.2" width="1.3" height="1.3"/>
<rect x="75.9" y="452.7" width="1.3" height="1.3"/>
<rect x="82.6" y="451.4" width="1.3" height="1.3"/>
<rect x="123.4" y="430.8" width="1.3" height="1.3"/>
<rect x="96.0" y="435.7" width="1.3" height="1.3"/>
<rect x="80.8" y="437.4" width="1.3" height="1.3"/>
<rect x="84.2" y="443.9" width="1.3" height="1.3"/>
<rect x="99.4" y="435.9" width="1.3" height="1.3"/>
<rect x="99.1" y="440.8" width="1.3" height="1.3"/>
<rect x="62.0" y="464.1" width="1.3" height="1.3"/>
<rect x="113.8" y="428.6" width="1.3" height="1.3"/>
<rect x="145.3" y="407.6" width="1.3" height="1.3"/>
<rect x="141.5" y="412.9" width="1.3" height="1.3"/>
<rect x="116.0" y="431.8" width="1.3" height="1.3"/>
<rect x="145.8" y="414.1" width="1.3" height="1.3"/>
<rect x="86.3" y="444.0" width="1.3" height="1.3"/>
<rect x="64.0" y="477.8" width="1.3" height="1.3"/>
<rect x="102.8" y="444.6" width="1.3" height="1.3"/>
<rect x="94.5" y="441.9" width="1.3" height="1.3"/>
<rect x="85.7" y="448.2" width="1.3" height="1.3"/>
<rect x="86.5" y="440.4" width="1.3" height="1.3"/>
<rect x="127.1" y="417.4" width="1.3" height="1.3"/>
<rect x="126.9" y="419.4" width="1.3" height="1.3"/>
<rect x="120.0" y="423.3" width="1.3" height="1.3"/>
<rect x="108.6" y="433.0" width="1.3" height="1.3"/>
<rect x="84.3" y="444.3" width="1.3" height="1.3"/>
<rect x="81.8" y="451.6" width="1.3" height="1.3"/>
<rect x="131.1" y="409.9" width="1.3" height="1.3"/>
<rect x="81.4" y="439.6" width="1.3" height="1.3"/>
<rect x="92.8" y="446.8" width="1.3" height="1.3"/>
<rect x="61.3" y="456.5" width="1.3" height="1.3"/>
<rect x="99.3" y="431.2" width="1.3" height="1.3"/>
<rect x="107.5" y="435.2" width="1.3" height="1.3"/>
<rect x="106.1" y="433.9" width="1.3" height="1.3"/>
<rect x="44.8" y="478.3" width="1.3" height="1.3"/>
<rect x="82.4" y="453.7" width="1.3" height="1.3"/>
<rect x="87.6" y="446.3" width="1.3" height="1.3"/>
<rect x="71.9" y="449.5" width="1.3" height="1.3"/>
<rect x="81.9" y="448.3" width="1.3" height="1.3"/>
<rect x="126.1" y="419.6" width="1.3" height="1.3"/>
<rect x="82.2" y="450.2" width="1.3" height="1.3"/>
<rect x="69.8" y="462.4" width="1.3" height="1.3"/>
<rect x="73.7" y="451.4" width="1.3" height="1.3"/>
<rect x="81.0" y="451.1" width="1.3" height="1.3"/>
<rect x="136.3" y="409.9" width="1.3" height="1.3"/>
<rect x="92.0" y="451.2" width="1.3" height="1.3"/>
<rect x="87.7" y="449.9" width="1.3" height="1.3"/>
<rect x="99.6" y="437.6" width="1.3" height="1.3"/>
<rect x="125.4" y="420.3" width="1.3" height="1.3"/>
<rect x="102.4" y="443.2" width="1.3" height="1.3"/>
<rect x="80.5" y="448.5" width="1.3" height="1.3"/>
<rect x="108.0" y="435.8" width="1.3" height="1.3"/>
<rect x="73.1" y="451.9" width="1.3" height="1.3"/>
<rect x="77.5" y="454.8" width="1.3" height="1.3"/>
<rect x="88.3" y="428.9" width="1.3" height="1.3"/>
<rect x="57.7" y="469.7" width="1.3" height="1.3"/>
<rect x="64.2" y="459.1" width="1.3" height="1.3"/>
<rect x="92.3" y="442.4" width="1.3" height="1.3"/>
<rect x="95.3" y="425.4" width="1.3" height="1.3"/>
<rect x="103.0" y="436.9" width="1.3" height="1.3"/>
<rect x="101.2" y="433.4" width="1.3" height="1.3"/>
<rect x="94.1" y="440.1" width="1.3" height="1.3"/>
<rect x="133.0" y="420.4" width="1.3" height="1.3"/>
<rect x="109.5" y="440.0" width="1.3" height="1.3"/>
<rect x="73.7" y="443.0" width="1.3" height="1.3"/>
<rect x="74.8" y="454.9" width="1.3" height="1.3"/>
<rect x="84.6" y="440.3" width="1.3" height="1.3"/>
<rect x="81.8" y="449.1" width="1.3" height="1.3"/>
<rect x="99.2" y="438.1" width="1.3" height="1.3"/>
<rect x="102.9" y="440.3" width="1.3" height="1.3"/>
<rect x="75.4" y="449.8" width="1.3" height="1.3"/>
<rect x="76.4" y="446.7" width="1.3" height="1.3"/>
<rect x="110.0" y="428.6" width="1.3" height="1.3"/>
<rect x="93.5" y="436.6" width="1.3" height="1.3"/>
<rect x="145.2" y="402.6" width="1.3" height="1.3"/>
<rect x="94.2" y="438.8" width="1.3" height="1.3"/>
<rect x="122.0" y="421.2" width="1.3" height="1.3"/>
<rect x="100.1" y="439.4" width="1.3" height="1.3"/>
<rect x="67.4" y="461.1" width="1.3" height="1.3"/>
<rect x="92.9" y="445.2" width="1.3" height="1.3"/>
<rect x="73.5" y="450.4" width="1.3" height="1.3"/>
<rect x="70.7" y="456.8" width="1.3" height="1.3"/>
<rect x="50.6" y="472.7" width="1.3" height="1.3"/>
<rect x="76.4" y="452.8" width="1.3" height="1.3"/>
<rect x="53.5" y="471.8" width="1.3" height="1.3"/>
<rect x="81.3" y="449.1" width="1.3" height="1.3"/>
<rect x="125.9" y="419.9" width="1.3" height="1.3"/>
<rect x="69.6" y="460.8" width="1.3" height="1.3"/>
<rect x="75.7" y="453.5" width="1.3" height="1.3"/>
<rect x="52.1" y="469.9" width="1.3" height="1.3"/>
<rect x="140.7" y="411.8" width="1.3" height="1.3"/>
<rect x="101.1" y="431.8" width="1.3" height="1.3"/>
<rect x="80.5" y="451.8" width="1.3" height="1.3"/>
<rect x="92.5" y="441.4" width="1.3" height="1.3"/>
<rect x="82.3" y="447.9" width="1.3" height="1.3"/>
<rect x="105.8" y="428.5" width="1.3" height="1.3"/>
<rect x="144.9" y="403.0" width="1.3" height="1.3"/>
<rect x="95.1" y="437.2" width="1.3" height="1.3"/>
<rect x="60.3" y="444.3" width="1.3" height="1.3"/>
<rect x="63.7" y="457.3" width="1.3" height="1.3"/>
<rect x="73.6" y="461.2" width="1.3" height="1.3"/>
<rect x="81.4" y="452.2" width="1.3" height="1.3"/>
<rect x="86.7" y="446.0" width="1.3" height="1.3"/>
<rect x="78.5" y="447.8" width="1.3" height="1.3"/>
<rect x="68.9" y="457.6" width="1.3" height="1.3"/>
<rect x="101.9" y="426.9" width="1.3" height="1.3"/>
<rect x="79.6" y="449.1" width="1.3" height="1.3"/>
<rect x="114.7" y="428.4" width="1.3" height="1.3"/>
<rect x="126.0" y="412.9" width="1.3" height="1.3"/>
<rect x="53.0" y="465.9" width="1.3" height="1.3"/>
<rect x="59.0" y="470.8" width="1.3" height="1.3"/>
<rect x="109.1" y="431.9" width="1.3" height="1.3"/>
<rect x="105.6" y="427.0" width="1.3" height="1.3"/>
<rect x="95.8" y="442.2" width="1.3" height="1.3"/>
<rect x="80.9" y="452.1" width="1.3" height="1.3"/>
<rect x="85.9" y="450.8" width="1.3" height="1.3"/>
<rect x="94.2" y="435.8" width="1.3" height="1.3"/>
<rect x="83.5" y="448.8" width="1.3" height="1.3"/>
<rect x="66.8" y="460.0" width="1.3" height="1.3"/>
<rect x="45.2" y="478.7" width="1.3" height="1.3"/>
<rect x="119.6" y="432.1" width="1.3" height="1.3"/>
<rect x="94.9" y="443.0" width="1.3" height="1.3"/>
<rect x="99.6" y="442.3" width="1.3" height="1.3"/>
<rect x="61.4" y="464.0" width="1.3" height="1.3"/>
<rect x="122.1" y="427.8" width="1.3" height="1.3"/>
<rect x="91.3" y="451.0" width="1.3" height="1.3"/>
<rect x="97.6" y="434.3" width="1.3" height="1.3"/>
<rect x="118.0" y="419.4" width="1.3" height="1.3"/>
<rect x="71.8" y="463.6" width="1.3" height="1.3"/>
<rect x="153.5" y="394.7" width="1.3" height="1.3"/>
<rect x="83.5" y="447.7" width="1.3" height="1.3"/>
<rect x="99.0" y="439.5" width="1.3" height="1.3"/>
<rect x="78.3" y="450.1" width="1.3" height="1.3"/>
<rect x="99.9" y="440.0" width="1.3" height="1.3"/>
<rect x="46.7" y="482.4" width="1.3" height="1.3"/>
<rect x="44.1" y="499.2" width="1.3" height="1.3"/>
<rect x="111.8" y="429.4" width="1.3" height="1.3"/>
<rect x="127.4" y="420.9" width="1.3" height="1.3"/>
<rect x="102.0" y="437.0" width="1.3" height="1.3"/>
<rect x="62.8" y="460.2" width="1.3" height="1.3"/>
<rect x="126.2" y="417.5" width="1.3" height="1.3"/>
<rect x="111.1" y="422.9" width="1.3" height="1.3"/>
<rect x="72.3" y="457.1" width="1.3" height="1.3"/>
<rect x="96.6" y="434.2" width="1.3" height="1.3"/>
<rect x="81.0" y="451.4" width="1.3" height="1.3"/>
<rect x="114.4" y="427.0" width="1.3" height="1.3"/>
<rect x="103.6" y="433.5" width="1.3" height="1.3"/>
<rect x="53.8" y="475.3" width="1.3" height="1.3"/>
<rect x="58.8" y="455.6" width="1.3" height="1.3"/>
<rect x="130.9" y="413.3" width="1.3" height="1.3"/>
<rect x="102.3" y="442.3" width="1.3" height="1.3"/>
<rect x="54.5" y="468.2" width="1.3" height="1.3"/>
<rect x="131.8" y="416.2" width="1.3" height="1.3"/>
<rect x="63.3" y="463.9" width="1.3" height="1.3"/>
<rect x="58.7" y="463.6" width="1.3" height="1.3"/>
<rect x="54.7" y="472.2" width="1.3" height="1.3"/>
<rect x="106.5" y="440.3" width="1.3" height="1.3"/>
<rect x="79.8" y="453.9" width="1.3" height="1.3"/>
<rect x="105.3" y="432.5" width="1.3" height="1.3"/>
<rect x="85.4" y="454.7" width="1.3" height="1.3"/>
<rect x="138.3" y="398.1" width="1.3" height="1.3"/>
<rect x="76.5" y="449.8" width="1.3" height="1.3"/>
<rect x="120.7" y="421.0" width="1.3" height="1.3"/>
<rect x="108.6" y="430.1" width="1.3" height="1.3"/>
<rect x="74.9" y="448.9" width="1.3" height="1.3"/>
<rect x="82.3" y="448.9" width="1.3" height="1.3"/>
<rect x="136.8" y="407.6" width="1.3" height="1.3"/>
<rect x="86.0" y="446.0" width="1.3" height="1.3"/>
<rect x="138.5" y="413.5" width="1.3" height="1.3"/>
<rect x="128.4" y="426.6" width="1.3" height="1.3"/>
<rect x="95.6" y="439.4" width="1.3" height="1.3"/>
<rect x="133.5" y="413.4" width="1.3" height="1.3"/>
<rect x="61.9" y="460.3" width="1.3" height="1.3"/>
<rect x="108.5" y="430.3" width="1.3" height="1.3"/>
<rect x="68.9" y="454.6" width="1.3" height="1.3"/>
<rect x="83.7" y="440.5" width="1.3" height="1.3"/>
<rect x="68.8" y="452.2" width="1.3" height="1.3"/>
<rect x="49.3" y="474.2" width="1.3" height="1.3"/>
<rect x="87.8" y="446.2" width="1.3" height="1.3"/>
<rect x="61.9" y="467.1" width="1.3" height="1.3"/>
<rect x="74.4" y="449.4" width="1.3" height="1.3"/>
<rect x="112.8" y="425.5" width="1.3" height="1.3"/>
<rect x="95.0" y="435.8" width="1.3" height="1.3"/>
<rect x="67.7" y="456.9" width="1.3" height="1.3"/>
<rect x="113.1" y="433.7" width="1.3" height="1.3"/>
<rect x="82.1" y="452.5" width="1.3" height="1.3"/>
<rect x="111.2" y="424.9" width="1.3" height="1.3"/>
<rect x="127.1" y="427.2" width="1.3" height="1.3"/>
<rect x="88.5" y="442.4" width="1.3" height="1.3"/>
<rect x="76.1" y="444.6" width="1.3" height="1.3"/>
<rect x="144.0" y="404.3" width="1.3" height="1.3"/>
<rect x="63.8" y="458.2" width="1.3" height="1.3"/>
<rect x="110.0" y="456.8" width="1.3" height="1.3"/>
<rect x="71.7" y="447.0" width="1.3" height="1.3"/>
<rect x="141.5" y="404.0" width="1.3" height="1.3"/>
<rect x="73.2" y="448.7" width="1.3" height="1.3"/>
<rect x="73.4" y="455.5" width="1.3" height="1.3"/>
<rect x="92.3" y="442.9" width="1.3" height="1.3"/>
<rect x="80.5" y="444.9" width="1.3" height="1.3"/>
<rect x="83.1" y="444.6" width="1.3" height="1.3"/>
<rect x="113.5" y="412.7" width="1.3" height="1.3"/>
<rect x="65.9" y="464.2" width="1.3" height="1.3"/>
<rect x="85.7" y="441.4" width="1.3" height="1.3"/>
<rect x="71.3" y="454.1" width="1.3" height="1.3"/>
<rect x="71.4" y="463.0" width="1.3" height="1.3"/>
<rect x="95.2" y="441.0" width="1.3" height="1.3"/>
<rect x="91.7" y="454.5" width="1.3" height="1.3"/>
<rect x="127.4" y="413.8" width="1.3" height="1.3"/>
<rect x="118.8" y="419.4" width="1.3" height="1.3"/>
<rect x="95.6" y="432.5" width="1.3" height="1.3"/>
<rect x="76.4" y="451.2" width="1.3" height="1.3"/>
<rect x="110.8" y="427.4" width="1.3" height="1.3"/>
<rect x="74.0" y="454.1" width="1.3" height="1.3"/>
<rect x="97.7" y="436.2" width="1.3" height="1.3"/>
<rect x="119.8" y="417.5" width="1.3" height="1.3"/>
<rect x="98.7" y="434.9" width="1.3" height="1.3"/>
<rect x="80.3" y="453.3" width="1.3" height="1.3"/>
<rect x="67.3" y="462.3" width="1.3" height="1.3"/>
<rect x="85.2" y="444.2" width="1.3" height="1.3"/>
<rect x="69.3" y="458.7" width="1.3" height="1.3"/>
<rect x="71.8" y="459.7" width="1.3" height="1.3"/>
<rect x="78.5" y="450.0" width="1.3" height="1.3"/>
<rect x="99.7" y="441.4" width="1.3" height="1.3"/>
<rect x="76.5" y="449.3" width="1.3" height="1.3"/>
<rect x="108.7" y="425.4" width="1.3" height="1.3"/>
<rect x="81.7" y="450.9" width="1.3" height="1.3"/>
<rect x="90.2" y="434.2" width="1.3" height="1.3"/>
<rect x="100.1" y="435.8" width="1.3" height="1.3"/>
<rect x="138.4" y="410.1" width="1.3" height="1.3"/>
<rect x="97.0" y="431.2" width="1.3" height="1.3"/>
<rect x="81.9" y="446.2" width="1.3" height="1.3"/>
<rect x="108.2" y="428.4" width="1.3" height="1.3"/>
<rect x="134.7" y="421.7" width="1.3" height="1.3"/>
<rect x="82.6" y="457.9" width="1.3" height="1.3"/>
<rect x="76.6" y="443.9" width="1.3" height="1.3"/>
<rect x="94.1" y="438.2" width="1.3" height="1.3"/>
<rect x="85.4" y="447.7" width="1.3" height="1.3"/>
<rect x="130.7" y="418.9" width="1.3" height="1.3"/>
<rect x="94.7" y="445.1" width="1.3" height="1.3"/>
<rect x="94.1" y="438.9" width="1.3" height="1.3"/>
<rect x="87.1" y="440.8" width="1.3" height="1.3"/>
<rect x="103.3" y="435.4" width="1.3" height="1.3"/>
<rect x="103.4" y="431.9" width="1.3" height="1.3"/>
<rect x="83.1" y="444.7" width="1.3" height="1.3"/>
<rect x="69.2" y="455.1" width="1.3" height="1.3"/>
<rect x="64.9" y="465.5" width="1.3" height="1.3"/>
<rect x="45.3" y="477.0" width="1.3" height="1.3"/>
<rect x="88.6" y="444.0" width="1.3" height="1.3"/>
<rect x="97.6" y="438.3" width="1.3" height="1.3"/>
<rect x="117.1" y="428.3" width="1.3" height="1.3"/>
<rect x="61.5" y="456.1" width="1.3" height="1.3"/>
<rect x="120.8" y="425.5" width="1.3" height="1.3"/>
<rect x="116.2" y="427.7" width="1.3" height="1.3"/>
<rect x="76.8" y="447.1" width="1.3" height="1.3"/>
<rect x="75.3" y="453.6" width="1.3" height="1.3"/>
<rect x="43.5" y="483.8" width="1.3" height="1.3"/>
<rect x="95.1" y="445.9" width="1.3" height="1.3"/>
<rect x="105.9" y="444.3" width="1.3" height="1.3"/>
<rect x="66.6" y="457.5" width="1.3" height="1.3"/>
<rect x="133.5" y="412.2" width="1.3" height="1.3"/>
<rect x="107.2" y="432.8" width="1.3" height="1.3"/>
<rect x="81.1" y="450.7" width="1.3" height="1.3"/>
<rect x="77.7" y="454.4" width="1.3" height="1.3"/>
<rect x="106.9" y="439.3" width="1.3" height="1.3"/>
<rect x="58.6" y="459.4" width="1.3" height="1.3"/>
<rect x="135.8" y="412.4" width="1.3" height="1.3"/>
<rect x="99.7" y="435.2" width="1.3" height="1.3"/>
<rect x="62.0" y="464.2" width="1.3" height="1.3"/>
<rect x="123.1" y="421.1" width="1.3" height="1.3"/>
<rect x="104.5" y="438.6" width="1.3" height="1.3"/>
<rect x="122.1" y="428.3" width="1.3" height="1.3"/>
<rect x="127.3" y="429.2" width="1.3" height="1.3"/>
<rect x="102.2" y="436.2" width="1.3" height="1.3"/>
<rect x="83.5" y="440.1" width="1.3" height="1.3"/>
<rect x="43.4" y="488.4" width="1.3" height="1.3"/>
<rect x="93.3" y="437.5" width="1.3" height="1.3"/>
<rect x="100.9" y="431.3" width="1.3" height="1.3"/>
<rect x="93.4" y="428.8" width="1.3" height="1.3"/>
<rect x="61.4" y="462.1" width="1.3" height="1.3"/>
<rect x="99.4" y="457.7" width="1.3" height="1.3"/>
<rect x="139.7" y="408.0" width="1.3" height="1.3"/>
<rect x="53.3" y="472.2" width="1.3" height="1.3"/>
<rect x="44.3" y="474.9" width="1.3" height="1.3"/>
<rect x="86.5" y="444.6" width="1.3" height="1.3"/>
<rect x="144.3" y="415.3" width="1.3" height="1.3"/>
<rect x="89.2" y="436.1" width="1.3" height="1.3"/>
<rect x="99.4" y="433.3" width="1.3" height="1.3"/>
<rect x="120.6" y="423.2" width="1.3" height="1.3"/>
<rect x="79.3" y="450.1" width="1.3" height="1.3"/>
<rect x="59.3" y="462.5" width="1.3" height="1.3"/>
<rect x="66.6" y="460.6" width="1.3" height="1.3"/>
<rect x="90.8" y="445.3" width="1.3" height="1.3"/>
<rect x="73.6" y="456.4" width="1.3" height="1.3"/>
<rect x="65.4" y="458.9" width="1.3" height="1.3"/>
<rect x="83.3" y="450.9" width="1.3" height="1.3"/>
<rect x="64.3" y="453.2" width="1.3" height="1.3"/>
<rect x="82.7" y="443.6" width="1.3" height="1.3"/>
<rect x="101.5" y="435.4" width="1.3" height="1.3"/>
<rect x="145.9" y="411.2" width="1.3" height="1.3"/>
<rect x="109.2" y="432.0" width="1.3" height="1.3"/>
<rect x="61.5" y="463.1" width="1.3" height="1.3"/>
<rect x="100.0" y="431.3" width="1.3" height="1.3"/>
<rect x="124.1" y="426.7" width="1.3" height="1.3"/>
<rect x="119.8" y="410.1" width="1.3" height="1.3"/>
<rect x="91.9" y="440.6" width="1.3" height="1.3"/>
<rect x="108.4" y="427.0" width="1.3" height="1.3"/>
<rect x="120.7" y="427.4" width="1.3" height="1.3"/>
<rect x="102.7" y="437.4" width="1.3" height="1.3"/>
<rect x="98.5" y="439.1" width="1.3" height="1.3"/>
<rect x="55.5" y="468.3" width="1.3" height="1.3"/>
<rect x="72.8" y="457.6" width="1.3" height="1.3"/>
<rect x="89.7" y="437.9" width="1.3" height="1.3"/>
<rect x="81.1" y="445.9" width="1.3" height="1.3"/>
<rect x="121.0" y="432.6" width="1.3" height="1.3"/>
<rect x="121.2" y="436.7" width="1.3" height="1.3"/>
<rect x="61.4" y="462.2" width="1.3" height="1.3"/>
<rect x="85.4" y="445.3" width="1.3" height="1.3"/>
<rect x="66.9" y="460.3" width="1.3" height="1.3"/>
<rect x="57.8" y="467.4" width="1.3" height="1.3"/>
<rect x="84.7" y="445.5" width="1.3" height="1.3"/>
<rect x="110.4" y="427.2" width="1.3" height="1.3"/>
<rect x="68.5" y="449.7" width="1.3" height="1.3"/>
<rect x="70.7" y="450.3" width="1.3" height="1.3"/>
<rect x="121.7" y="434.6" width="1.3" height="1.3"/>
<rect x="46.7" y="483.4" width="1.3" height="1.3"/>
<rect x="79.7" y="449.8" width="1.3" height="1.3"/>
<rect x="109.0" y="430.2" width="1.3" height="1.3"/>
<rect x="90.6" y="437.2" width="1.3" height="1.3"/>
<rect x="123.5" y="420.8" width="1.3" height="1.3"/>
<rect x="64.7" y="460.5" width="1.3" height="1.3"/>
<rect x="72.5" y="454.6" width="1.3" height="1.3"/>
<rect x="46.2" y="470.2" width="1.3" height="1.3"/>
<rect x="113.8" y="432.7" width="1.3" height="1.3"/>
<rect x="136.9" y="417.1" width="1.3" height="1.3"/>
<rect x="67.1" y="463.7" width="1.3" height="1.3"/>
<rect x="73.2" y="456.7" width="1.3" height="1.3"/>
<rect x="60.5" y="466.4" width="1.3" height="1.3"/>
<rect x="145.3" y="420.7" width="1.3" height="1.3"/>
<rect x="91.1" y="434.9" width="1.3" height="1.3"/>
<rect x="107.6" y="430.6" width="1.3" height="1.3"/>
<rect x="100.4" y="439.8" width="1.3" height="1.3"/>
<rect x="88.8" y="432.2" width="1.3" height="1.3"/>
<rect x="129.6" y="417.8" width="1.3" height="1.3"/>
<rect x="140.3" y="408.6" width="1.3" height="1.3"/>
<rect x="69.2" y="443.3" width="1.3" height="1.3"/>
<rect x="105.2" y="438.6" width="1.3" height="1.3"/>
<rect x="135.5" y="418.0" width="1.3" height="1.3"/>
<rect x="129.4" y="415.0" width="1.3" height="1.3"/>
<rect x="78.6" y="450.7" width="1.3" height="1.3"/>
<rect x="85.4" y="452.5" width="1.3" height="1.3"/>
<rect x="63.1" y="461.3" width="1.3" height="1.3"/>
<rect x="62.2" y="452.3" width="1.3" height="1.3"/>
<rect x="122.8" y="418.6" width="1.3" height="1.3"/>
<rect x="128.5" y="420.7" width="1.3" height="1.3"/>
<rect x="62.7" y="460.9" width="1.3" height="1.3"/>
<rect x="124.5" y="422.3" width="1.3" height="1.3"/>
<rect x="81.4" y="451.2" width="1.3" height="1.3"/>
<rect x="77.6" y="452.2" width="1.3" height="1.3"/>
<rect x="72.7" y="451.1" width="1.3" height="1.3"/>
<rect x="89.9" y="449.4" width="1.3" height="1.3"/>
<rect x="96.9" y="432.5" width="1.3" height="1.3"/>
<rect x="141.8" y="407.2" width="1.3" height="1.3"/>
<rect x="107.1" y="432.0" width="1.3" height="1.3"/>
<rect x="92.6" y="442.3" width="1.3" height="1.3"/>
<rect x="74.9" y="444.9" width="1.3" height="1.3"/>
<rect x="61.7" y="457.2" width="1.3" height="1.3"/>
<rect x="100.0" y="442.7" width="1.3" height="1.3"/>
<rect x="102.0" y="434.4" width="1.3" height="1.3"/>
<rect x="113.4" y="422.9" width="1.3" height="1.3"/>
<rect x="93.7" y="436.4" width="1.3" height="1.3"/>
<rect x="55.7" y="468.5" width="1.3" height="1.3"/>
<rect x="70.7" y="457.5" width="1.3" height="1.3"/>
<rect x="82.2" y="456.9" width="1.3" height="1.3"/>
<rect x="122.2" y="431.0" width="1.3" height="1.3"/>
<rect x="91.9" y="441.5" width="1.3" height="1.3"/>
<rect x="98.0" y="433.9" width="1.3" height="1.3"/>
<rect x="93.6" y="438.3" width="1.3" height="1.3"/>
<rect x="62.4" y="464.0" width="1.3" height="1.3"/>
<rect x="69.6" y="462.6" width="1.3" height="1.3"/>
<rect x="84.6" y="440.8" width="1.3" height="1.3"/>
<rect x="120.7" y="435.1" width="1.3" height="1.3"/>
<rect x="47.0" y="475.4" width="1.3" height="1.3"/>
<rect x="51.0" y="481.3" width="1.3" height="1.3"/>
<rect x="71.8" y="452.7" width="1.3" height="1.3"/>
<rect x="69.0" y="461.3" width="1.3" height="1.3"/>
<rect x="78.9" y="442.6" width="1.3" height="1.3"/>
<rect x="99.4" y="438.1" width="1.3" height="1.3"/>
<rect x="145.6" y="413.9" width="1.3" height="1.3"/>
<rect x="47.6" y="470.7" width="1.3" height="1.3"/>
<rect x="53.4" y="467.6" width="1.3" height="1.3"/>
<rect x="67.3" y="456.6" width="1.3" height="1.3"/>
<rect x="64.3" y="457.2" width="1.3" height="1.3"/>
<rect x="112.2" y="436.1" width="1.3" height="1.3"/>
<rect x="68.7" y="457.3" width="1.3" height="1.3"/>
<rect x="130.5" y="419.7" width="1.3" height="1.3"/>
<rect x="60.8" y="458.4" width="1.3" height="1.3"/>
<rect x="157.6" y="399.7" width="1.3" height="1.3"/>
<rect x="81.8" y="445.8" width="1.3" height="1.3"/>
<rect x="66.9" y="450.3" width="1.3" height="1.3"/>
<rect x="64.9" y="464.8" width="1.3" height="1.3"/>
<rect x="74.8" y="450.3" width="1.3" height="1.3"/>
<rect x="143.2" y="409.1" width="1.3" height="1.3"/>
<rect x="90.8" y="442.1" width="1.3" height="1.3"/>
<rect x="64.9" y="469.0" width="1.3" height="1.3"/>
<rect x="109.3" y="432.4" width="1.3" height="1.3"/>
<rect x="58.9" y="474.3" width="1.3" height="1.3"/>
<rect x="72.5" y="458.9" width="1.3" height="1.3"/>
<rect x="72.6" y="450.8" width="1.3" height="1.3"/>
<rect x="60.6" y="467.6" width="1.3" height="1.3"/>
<rect x="131.2" y="413.4" width="1.3" height="1.3"/>
<rect x="107.3" y="436.2" width="1.3" height="1.3"/>
<rect x="70.5" y="455.4" width="1.3" height="1.3"/>
<rect x="75.0" y="455.7" width="1.3" height="1.3"/>
<rect x="59.3" y="469.9" width="1.3" height="1.3"/>
<rect x="127.6" y="422.2" width="1.3" height="1.3"/>
<rect x="84.8" y="446.5" width="1.3" height="1.3"/>
<rect x="76.9" y="458.1" width="1.3" height="1.3"/>
<rect x="64.4" y="461.5" width="1.3" height="1.3"/>
<rect x="71.2" y="458.0" width="1.3" height="1.3"/>
<rect x="99.4" y="437.6" width="1.3" height="1.3"/>
<rect x="112.2" y="435.3" width="1.3" height="1.3"/>
<rect x="64.7" y="469.7" width="1.3" height="1.3"/>
<rect x="64.0" y="454.8" width="1.3" height="1.3"/>
<rect x="62.2" y="466.3" width="1.3" height="1.3"/>
<rect x="45.1" y="478.2" width="1.3" height="1.3"/>
<rect x="99.0" y="438.0" width="1.3" height="1.3"/>
<rect x="68.8" y="454.4" width="1.3" height="1.3"/>
<rect x="138.6" y="409.0" width="1.3" height="1.3"/>
<rect x="49.0" y="467.6" width="1.3" height="1.3"/>
<rect x="168.7" y="383.4" width="1.3" height="1.3"/>
<rect x="82.4" y="460.1" width="1.3" height="1.3"/>
<rect x="66.0" y="468.2" width="1.3" height="1.3"/>
<rect x="141.8" y="413.6" width="1.3" height="1.3"/>
<rect x="82.3" y="452.2" width="1.3" height="1.3"/>
<rect x="119.8" y="429.0" width="1.3" height="1.3"/>
<rect x="70.1" y="454.6" width="1.3" height="1.3"/>
<rect x="131.0" y="412.6" width="1.3" height="1.3"/>
<rect x="90.0" y="442.2" width="1.3" height="1.3"/>
<rect x="78.4" y="450.5" width="1.3" height="1.3"/>
<rect x="89.3" y="449.1" width="1.3" height="1.3"/>
<rect x="74.3" y="452.2" width="1.3" height="1.3"/>
<rect x="119.8" y="426.3" width="1.3" height="1.3"/>
<rect x="83.3" y="447.2" width="1.3" height="1.3"/>
<rect x="86.3" y="449.1" width="1.3" height="1.3"/>
<rect x="76.5" y="456.2" width="1.3" height="1.3"/>
<rect x="108.7" y="441.7" width="1.3" height="1.3"/>
<rect x="88.7" y="443.4" width="1.3" height="1.3"/>
<rect x="114.6" y="431.3" width="1.3" height="1.3"/>
<rect x="78.3" y="448.7" width="1.3" height="1.3"/>
<rect x="74.5" y="450.5" width="1.3" height="1.3"/>
<rect x="120.6" y="418.8" width="1.3" height="1.3"/>
<rect x="55.5" y="467.6" width="1.3" height="1.3"/>
<rect x="81.7" y="446.4" width="1.3" height="1.3"/>
<rect x="80.1" y="443.6" width="1.3" height="1.3"/>
<rect x="94.9" y="442.6" width="1.3" height="1.3"/>
<rect x="74.6" y="453.3" width="1.3" height="1.3"/>
<rect x="54.4" y="470.2" width="1.3" height="1.3"/>
<rect x="100.9" y="434.2" width="1.3" height="1.3"/>
<rect x="97.6" y="432.9" width="1.3" height="1.3"/>
<rect x="80.2" y="446.1" width="1.3" height="1.3"/>
<rect x="84.4" y="447.3" width="1.3" height="1.3"/>
<rect x="117.3" y="435.3" width="1.3" height="1.3"/>
<rect x="93.1" y="445.1" width="1.3" height="1.3"/>
<rect x="83.7" y="449.0" width="1.3" height="1.3"/>
<rect x="90.5" y="445.4" width="1.3" height="1.3"/>
<rect x="104.0" y="428.7" width="1.3" height="1.3"/>
<rect x="71.0" y="461.8" width="1.3" height="1.3"/>
<rect x="88.5" y="453.7" width="1.3" height="1.3"/>
<rect x="83.9" y="435.5" width="1.3" height="1.3"/>
<rect x="68.4" y="456.2" width="1.3" height="1.3"/>
<rect x="61.8" y="469.8" width="1.3" height="1.3"/>
<rect x="85.7" y="447.0" width="1.3" height="1.3"/>
<rect x="108.1" y="424.3" width="1.3" height="1.3"/>
<rect x="135.3" y="421.2" width="1.3" height="1.3"/>
<rect x="116.4" y="425.9" width="1.3" height="1.3"/>
<rect x="141.6" y="421.8" width="1.3" height="1.3"/>
<rect x="130.2" y="400.3" width="1.3" height="1.3"/>
<rect x="59.1" y="469.3" width="1.3" height="1.3"/>
<rect x="108.7" y="433.8" width="1.3" height="1.3"/>
<rect x="70.6" y="453.7" width="1.3" height="1.3"/>
<rect x="145.7" y="401.9" width="1.3" height="1.3"/>
<rect x="105.5" y="436.4" width="1.3" height="1.3"/>
<rect x="106.8" y="432.6" width="1.3" height="1.3"/>
<rect x="81.4" y="454.9" width="1.3" height="1.3"/>
<rect x="79.7" y="449.7" width="1.3" height="1.3"/>
<rect x="105.3" y="441.3" width="1.3" height="1.3"/>
<rect x="72.7" y="451.0" width="1.3" height="1.3"/>
<rect x="113.3" y="433.4" width="1.3" height="1.3"/>
<rect x="108.9" y="437.9" width="1.3" height="1.3"/>
<rect x="102.5" y="436.0" width="1.3" height="1.3"/>
<rect x="53.1" y="466.5" width="1.3" height="1.3"/>
<rect x="86.0" y="446.0" width="1.3" height="1.3"/>
<rect x="131.5" y="419.9" width="1.3" height="1.3"/>
<rect x="65.4" y="463.2" width="1.3" height="1.3"/>
<rect x="83.8" y="452.0" width="1.3" height="1.3"/>
<rect x="91.5" y="443.9" width="1.3" height="1.3"/>
<rect x="64.1" y="459.5" width="1.3" height="1.3"/>
<rect x="101.9" y="425.7" width="1.3" height="1.3"/>
<rect x="85.9" y="438.5" width="1.3" height="1.3"/>
<rect x="65.1" y="460.6" width="1.3" height="1.3"/>
<rect x="74.1" y="453.0" width="1.3" height="1.3"/>
<rect x="54.8" y="456.7" width="1.3" height="1.3"/>
<rect x="57.4" y="469.0" width="1.3" height="1.3"/>
<rect x="102.6" y="432.3" width="1.3" height="1.3"/>
<rect x="146.6" y="411.4" width="1.3" height="1.3"/>
<rect x="96.5" y="433.4" width="1.3" height="1.3"/>
<rect x="94.6" y="438.9" width="1.3" height="1.3"/>
<rect x="109.4" y="435.2" width="1.3" height="1.3"/>
<rect x="122.0" y="430.4" width="1.3" height="1.3"/>
<rect x="114.7" y="426.3" width="1.3" height="1.3"/>
<rect x="68.4" y="468.1" width="1.3" height="1.3"/>
<rect x="96.8" y="439.4" width="1.3" height="1.3"/>
<rect x="71.4" y="444.9" width="1.3" height="1.3"/>
<rect x="89.8" y="449.2" width="1.3" height="1.3"/>
<rect x="89.3" y="446.0" width="1.3" height="1.3"/>
<rect x="74.2" y="463.4" width="1.3" height="1.3"/>
<rect x="57.7" y="465.4" width="1.3" height="1.3"/>
<rect x="69.8" y="456.2" width="1.3" height="1.3"/>
<rect x="140.0" y="407.0" width="1.3" height="1.3"/>
<rect x="75.5" y="452.3" width="1.3" height="1.3"/>
<rect x="62.4" y="461.8" width="1.3" height="1.3"/>
<rect x="58.1" y="471.0" width="1.3" height="1.3"/>
<rect x="115.7" y="424.2" width="1.3" height="1.3"/>
<rect x="96.5" y="435.6" width="1.3" height="1.3"/>
<rect x="74.6" y="446.5" width="1.3" height="1.3"/>
<rect x="57.8" y="475.5" width="1.3" height="1.3"/>
<rect x="77.3" y="446.9" width="1.3" height="1.3"/>
<rect x="92.0" y="436.1" width="1.3" height="1.3"/>
<rect x="114.0" y="430.8" width="1.3" height="1.3"/>
<rect x="64.1" y="460.0" width="1.3" height="1.3"/>
<rect x="90.2" y="439.9" width="1.3" height="1.3"/>
<rect x="100.7" y="429.7" width="1.3" height="1.3"/>
<rect x="47.5" y="478.8" width="1.3" height="1.3"/>
<rect x="115.9" y="423.7" width="1.3" height="1.3"/>
<rect x="75.8" y="456.8" width="1.3" height="1.3"/>
<rect x="110.8" y="431.3" width="1.3" height="1.3"/>
<rect x="85.2" y="448.0" width="1.3" height="1.3"/>
<rect x="78.4" y="449.5" width="1.3" height="1.3"/>
<rect x="79.0" y="450.8" width="1.3" height="1.3"/>
<rect x="100.9" y="434.7" width="1.3" height="1.3"/>
<rect x="126.3" y="421.7" width="1.3" height="1.3"/>
<rect x="72.8" y="458.0" width="1.3" height="1.3"/>
<rect x="93.2" y="425.0" width="1.3" height="1.3"/>
<rect x="135.0" y="410.1" width="1.3" height="1.3"/>
<rect x="86.8" y="437.7" width="1.3" height="1.3"/>
<rect x="59.7" y="468.1" width="1.3" height="1.3"/>
<rect x="47.8" y="471.9" width="1.3" height="1.3"/>
<rect x="85.3" y="446.8" width="1.3" height="1.3"/>
<rect x="113.9" y="422.2" width="1.3" height="1.3"/>
<rect x="87.2" y="439.9" width="1.3" height="1.3"/>
<rect x="99.4" y="445.2" width="1.3" height="1.3"/>
<rect x="87.3" y="443.2" width="1.3" height="1.3"/>
<rect x="55.1" y="465.8" width="1.3" height="1.3"/>
<rect x="88.1" y="449.0" width="1.3" height="1.3"/>
<rect x="90.3" y="444.2" width="1.3" height="1.3"/>
<rect x="79.9" y="448.7" width="1.3" height="1.3"/>
<rect x="117.2" y="432.5" width="1.3" height="1.3"/>
<rect x="101.8" y="425.2" width="1.3" height="1.3"/>
<rect x="89.1" y="448.6" width="1.3" height="1.3"/>
<rect x="121.6" y="421.9" width="1.3" height="1.3"/>
<rect x="93.8" y="441.5" width="1.3" height="1.3"/>
<rect x="59.1" y="462.1" width="1.3" height="1.3"/>
<rect x="98.2" y="435.1" width="1.3" height="1.3"/>
<rect x="105.4" y="429.6" width="1.3" height="1.3"/>
<rect x="94.3" y="430.1" width="1.3" height="1.3"/>
<rect x="100.8" y="441.3" width="1.3" height="1.3"/>
<rect x="77.1" y="453.4" width="1.3" height="1.3"/>
<rect x="117.3" y="427.1" width="1.3" height="1.3"/>
<rect x="83.6" y="445.3" width="1.3" height="1.3"/>
<rect x="44.7" y="478.5" width="1.3" height="1.3"/>
<rect x="114.3" y="423.7" width="1.3" height="1.3"/>
<rect x="87.2" y="443.8" width="1.3" height="1.3"/>
<rect x="127.6" y="434.1" width="1.3" height="1.3"/>
<rect x="107.4" y="436.6" width="1.3" height="1.3"/>
<rect x="117.5" y="417.7" width="1.3" height="1.3"/>
<rect x="95.6" y="447.3" width="1.3" height="1.3"/>
<rect x="56.2" y="467.8" width="1.3" height="1.3"/>
<rect x="98.4" y="424.9" width="1.3" height="1.3"/>
<rect x="59.5" y="464.9" width="1.3" height="1.3"/>
<rect x="62.3" y="467.3" width="1.3" height="1.3"/>
<rect x="88.2" y="440.2" width="1.3" height="1.3"/>
<rect x="74.4" y="449.9" width="1.3" height="1.3"/>
<rect x="102.3" y="438.9" width="1.3" height="1.3"/>
<rect x="87.0" y="450.0" width="1.3" height="1.3"/>
<rect x="85.8" y="439.4" width="1.3" height="1.3"/>
<rect x="98.9" y="444.3" width="1.3" height="1.3"/>
<rect x="103.3" y="430.0" width="1.3" height="1.3"/>
<rect x="110.5" y="435.4" width="1.3" height="1.3"/>
<rect x="56.2" y="470.1" width="1.3" height="1.3"/>
<rect x="98.8" y="429.0" width="1.3" height="1.3"/>
<rect x="60.2" y="457.0" width="1.3" height="1.3"/>
<rect x="61.2" y="464.9" width="1.3" height="1.3"/>
<rect x="70.5" y="454.7" width="1.3" height="1.3"/>
<rect x="79.7" y="441.9" width="1.3" height="1.3"/>
<rect x="86.8" y="458.4" width="1.3" height="1.3"/>
<rect x="80.0" y="450.9" width="1.3" height="1.3"/>
<rect x="126.9" y="424.4" width="1.3" height="1.3"/>
<rect x="62.4" y="463.0" width="1.3" height="1.3"/>
<rect x="143.3" y="404.9" width="1.3" height="1.3"/>
<rect x="87.0" y="442.1" width="1.3" height="1.3"/>
<rect x="100.0" y="427.3" width="1.3" height="1.3"/>
<rect x="142.0" y="398.8" width="1.3" height="1.3"/>
<rect x="82.2" y="452.9" width="1.3" height="1.3"/>
<rect x="134.1" y="417.7" width="1.3" height="1.3"/>
<rect x="89.1" y="449.3" width="1.3" height="1.3"/>
<rect x="85.4" y="448.6" width="1.3" height="1.3"/>
<rect x="71.5" y="468.2" width="1.3" height="1.3"/>
<rect x="75.4" y="452.8" width="1.3" height="1.3"/>
<rect x="56.4" y="466.2" width="1.3" height="1.3"/>
<rect x="65.5" y="463.0" width="1.3" height="1.3"/>
<rect x="78.7" y="468.3" width="1.3" height="1.3"/>
<rect x="139.2" y="405.8" width="1.3" height="1.3"/>
<rect x="111.8" y="435.6" width="1.3" height="1.3"/>
<rect x="101.4" y="435.1" width="1.3" height="1.3"/>
<rect x="145.9" y="401.2" width="1.3" height="1.3"/>
<rect x="64.9" y="453.9" width="1.3" height="1.3"/>
<rect x="122.4" y="427.9" width="1.3" height="1.3"/>
<rect x="121.1" y="417.5" width="1.3" height="1.3"/>
<rect x="90.9" y="447.1" width="1.3" height="1.3"/>
<rect x="81.8" y="448.6" width="1.3" height="1.3"/>
<rect x="102.8" y="434.0" width="1.3" height="1.3"/>
<rect x="128.0" y="419.2" width="1.3" height="1.3"/>
<rect x="69.7" y="459.8" width="1.3" height="1.3"/>
<rect x="111.3" y="434.0" width="1.3" height="1.3"/>
<rect x="51.4" y="464.6" width="1.3" height="1.3"/>
<rect x="145.9" y="412.1" width="1.3" height="1.3"/>
<rect x="84.0" y="440.3" width="1.3" height="1.3"/>
<rect x="68.4" y="439.9" width="1.3" height="1.3"/>
<rect x="135.6" y="398.1" width="1.3" height="1.3"/>
<rect x="91.9" y="439.7" width="1.3" height="1.3"/>
<rect x="152.0" y="405.2" width="1.3" height="1.3"/>
<rect x="96.0" y="441.8" width="1.3" height="1.3"/>
<rect x="63.4" y="458.6" width="1.3" height="1.3"/>
<rect x="95.1" y="439.5" width="1.3" height="1.3"/>
<rect x="99.1" y="438.0" width="1.3" height="1.3"/>
<rect x="55.8" y="469.4" width="1.3" height="1.3"/>
<rect x="99.2" y="439.1" width="1.3" height="1.3"/>
<rect x="135.5" y="406.8" width="1.3" height="1.3"/>
<rect x="57.7" y="472.6" width="1.3" height="1.3"/>
<rect x="145.8" y="411.4" width="1.3" height="1.3"/>
<rect x="54.5" y="467.6" width="1.3" height="1.3"/>
<rect x="106.0" y="431.6" width="1.3" height="1.3"/>
<rect x="117.4" y="424.5" width="1.3" height="1.3"/>
<rect x="67.1" y="455.2" width="1.3" height="1.3"/>
<rect x="69.9" y="474.0" width="1.3" height="1.3"/>
<rect x="111.2" y="428.7" width="1.3" height="1.3"/>
<rect x="74.1" y="452.1" width="1.3" height="1.3"/>
<rect x="105.3" y="432.9" width="1.3" height="1.3"/>
<rect x="81.2" y="454.8" width="1.3" height="1.3"/>
<rect x="56.0" y="476.2" width="1.3" height="1.3"/>
<rect x="87.0" y="451.0" width="1.3" height="1.3"/>
<rect x="67.1" y="457.2" width="1.3" height="1.3"/>
<rect x="63.4" y="456.4" width="1.3" height="1.3"/>
<rect x="94.6" y="443.6" width="1.3" height="1.3"/>
<rect x="68.8" y="457.2" width="1.3" height="1.3"/>
<rect x="134.7" y="415.1" width="1.3" height="1.3"/>
<rect x="92.9" y="442.2" width="1.3" height="1.3"/>
<rect x="43.6" y="474.7" width="1.3" height="1.3"/>
<rect x="83.5" y="449.4" width="1.3" height="1.3"/>
<rect x="63.7" y="465.1" width="1.3" height="1.3"/>
<rect x="93.4" y="435.6" width="1.3" height="1.3"/>
<rect x="48.3" y="471.5" width="1.3" height="1.3"/>
<rect x="84.9" y="458.8" width="1.3" height="1.3"/>
<rect x="81.8" y="452.7" width="1.3" height="1.3"/>
<rect x="142.8" y="412.5" width="1.3" height="1.3"/>
<rect x="102.5" y="436.4" width="1.3" height="1.3"/>
<rect x="95.7" y="436.5" width="1.3" height="1.3"/>
<rect x="87.8" y="449.0" width="1.3" height="1.3"/>
<rect x="102.7" y="438.2" width="1.3" height="1.3"/>
<rect x="87.2" y="438.3" width="1.3" height="1.3"/>
<rect x="52.2" y="478.5" width="1.3" height="1.3"/>
<rect x="49.0" y="473.9" width="1.3" height="1.3"/>
<rect x="83.7" y="449.8" width="1.3" height="1.3"/>
<rect x="72.8" y="453.3" width="1.3" height="1.3"/>
<rect x="91.5" y="443.3" width="1.3" height="1.3"/>
<rect x="140.8" y="412.6" width="1.3" height="1.3"/>
<rect x="80.1" y="449.1" width="1.3" height="1.3"/>
<rect x="83.2" y="449.1" width="1.3" height="1.3"/>
<rect x="54.3" y="469.0" width="1.3" height="1.3"/>
<rect x="72.5" y="448.8" width="1.3" height="1.3"/>
<rect x="105.8" y="426.1" width="1.3" height="1.3"/>
<rect x="76.3" y="451.6" width="1.3" height="1.3"/>
<rect x="90.1" y="433.5" width="1.3" height="1.3"/>
<rect x="138.3" y="412.7" width="1.3" height="1.3"/>
<rect x="100.2" y="422.7" width="1.3" height="1.3"/>
<rect x="91.6" y="450.3" width="1.3" height="1.3"/>
<rect x="142.8" y="407.4" width="1.3" height="1.3"/>
<rect x="76.3" y="446.8" width="1.3" height="1.3"/>
<rect x="80.9" y="446.4" width="1.3" height="1.3"/>
<rect x="83.4" y="446.2" width="1.3" height="1.3"/>
<rect x="116.2" y="429.9" width="1.3" height="1.3"/>
<rect x="95.6" y="443.9" width="1.3" height="1.3"/>
<rect x="100.8" y="438.6" width="1.3" height="1.3"/>
<rect x="128.0" y="415.7" width="1.3" height="1.3"/>
<rect x="77.3" y="440.3" width="1.3" height="1.3"/>
<rect x="66.0" y="461.0" width="1.3" height="1.3"/>
<rect x="143.7" y="412.2" width="1.3" height="1.3"/>
<rect x="107.1" y="433.9" width="1.3" height="1.3"/>
<rect x="109.1" y="432.1" width="1.3" height="1.3"/>
<rect x="140.3" y="410.5" width="1.3" height="1.3"/>
<rect x="67.3" y="456.6" width="1.3" height="1.3"/>
<rect x="134.5" y="412.1" width="1.3" height="1.3"/>
<rect x="70.6" y="460.6" width="1.3" height="1.3"/>
<rect x="115.6" y="418.0" width="1.3" height="1.3"/>
<rect x="80.0" y="455.9" width="1.3" height="1.3"/>
<rect x="109.3" y="432.5" width="1.3" height="1.3"/>
<rect x="83.3" y="444.2" width="1.3" height="1.3"/>
<rect x="49.5" y="491.3" width="1.3" height="1.3"/>
<rect x="145.4" y="412.1" width="1.3" height="1.3"/>
<rect x="69.7" y="451.8" width="1.3" height="1.3"/>
<rect x="100.1" y="441.7" width="1.3" height="1.3"/>
<rect x="56.1" y="465.3" width="1.3" height="1.3"/>
<rect x="125.1" y="425.3" width="1.3" height="1.3"/>
<rect x="51.5" y="471.7" width="1.3" height="1.3"/>
<rect x="82.3" y="449.9" width="1.3" height="1.3"/>
<rect x="143.8" y="403.0" width="1.3" height="1.3"/>
<rect x="69.9" y="456.7" width="1.3" height="1.3"/>
<rect x="72.7" y="454.9" width="1.3" height="1.3"/>
<rect x="94.5" y="443.5" width="1.3" height="1.3"/>
<rect x="107.9" y="425.1" width="1.3" height="1.3"/>
<rect x="84.9" y="444.6" width="1.3" height="1.3"/>
<rect x="67.8" y="464.5" width="1.3" height="1.3"/>
<rect x="76.7" y="450.1" width="1.3" height="1.3"/>
<rect x="101.0" y="435.4" width="1.3" height="1.3"/>
<rect x="145.5" y="403.7" width="1.3" height="1.3"/>
<rect x="159.2" y="396.9" width="1.3" height="1.3"/>
<rect x="83.4" y="440.5" width="1.3" height="1.3"/>
<rect x="56.9" y="462.5" width="1.3" height="1.3"/>
<rect x="63.3" y="459.7" width="1.3" height="1.3"/>
<rect x="78.0" y="438.9" width="1.3" height="1.3"/>
<rect x="105.7" y="428.4" width="1.3" height="1.3"/>
<rect x="79.9" y="454.9" width="1.3" height="1.3"/>
<rect x="111.1" y="431.9" width="1.3" height="1.3"/>
<rect x="99.6" y="436.9" width="1.3" height="1.3"/>
<rect x="120.4" y="421.9" width="1.3" height="1.3"/>
<rect x="84.5" y="447.7" width="1.3" height="1.3"/>
<rect x="73.8" y="445.2" width="1.3" height="1.3"/>
<rect x="69.2" y="463.0" width="1.3" height="1.3"/>
<rect x="73.4" y="454.5" width="1.3" height="1.3"/>
<rect x="76.6" y="450.7" width="1.3" height="1.3"/>
<rect x="93.4" y="435.1" width="1.3" height="1.3"/>
<rect x="94.8" y="431.7" width="1.3" height="1.3"/>
<rect x="110.5" y="432.7" width="1.3" height="1.3"/>
<rect x="73.2" y="456.9" width="1.3" height="1.3"/>
<rect x="74.8" y="446.6" width="1.3" height="1.3"/>
<rect x="96.8" y="435.2" width="1.3" height="1.3"/>
<rect x="55.2" y="468.8" width="1.3" height="1.3"/>
<rect x="134.3" y="415.8" width="1.3" height="1.3"/>
<rect x="81.1" y="448.0" width="1.3" height="1.3"/>
<rect x="86.4" y="445.5" width="1.3" height="1.3"/>
<rect x="77.9" y="454.4" width="1.3" height="1.3"/>
<rect x="87.4" y="434.4" width="1.3" height="1.3"/>
<rect x="48.3" y="474.8" width="1.3" height="1.3"/>
<rect x="67.6" y="466.5" width="1.3" height="1.3"/>
<rect x="111.7" y="420.8" width="1.3" height="1.3"/>
<rect x="83.4" y="449.8" width="1.3" height="1.3"/>
<rect x="89.8" y="441.5" width="1.3" height="1.3"/>
<rect x="67.4" y="458.3" width="1.3" height="1.3"/>
<rect x="153.9" y="401.0" width="1.3" height="1.3"/>
<rect x="89.3" y="445.2" width="1.3" height="1.3"/>
<rect x="83.3" y="446.2" width="1.3" height="1.3"/>
<rect x="117.1" y="419.9" width="1.3" height="1.3"/>
<rect x="49.6" y="473.1" width="1.3" height="1.3"/>
<rect x="81.8" y="456.1" width="1.3" height="1.3"/>
<rect x="67.9" y="457.6" width="1.3" height="1.3"/>
<rect x="102.3" y="433.3" width="1.3" height="1.3"/>
<rect x="120.6" y="419.8" width="1.3" height="1.3"/>
<rect x="82.4" y="453.9" width="1.3" height="1.3"/>
<rect x="66.2" y="456.2" width="1.3" height="1.3"/>
<rect x="97.8" y="432.6" width="1.3" height="1.3"/>
<rect x="84.3" y="446.1" width="1.3" height="1.3"/>
<rect x="102.7" y="428.2" width="1.3" height="1.3"/>
<rect x="94.8" y="438.0" width="1.3" height="1.3"/>
<rect x="78.2" y="446.7" width="1.3" height="1.3"/>
<rect x="130.1" y="421.8" width="1.3" height="1.3"/>
<rect x="105.9" y="433.5" width="1.3" height="1.3"/>
<rect x="144.7" y="407.8" width="1.3" height="1.3"/>
<rect x="78.2" y="443.1" width="1.3" height="1.3"/>
<rect x="95.3" y="441.3" width="1.3" height="1.3"/>
<rect x="83.8" y="452.2" width="1.3" height="1.3"/>
<rect x="68.1" y="457.2" width="1.3" height="1.3"/>
<rect x="53.4" y="470.7" width="1.3" height="1.3"/>
<rect x="53.5" y="468.9" width="1.3" height="1.3"/>
<rect x="124.3" y="438.2" width="1.3" height="1.3"/>
<rect x="77.9" y="447.0" width="1.3" height="1.3"/>
<rect x="76.2" y="451.6" width="1.3" height="1.3"/>
<rect x="110.3" y="427.1" width="1.3" height="1.3"/>
<rect x="88.0" y="447.1" width="1.3" height="1.3"/>
<rect x="69.2" y="450.6" width="1.3" height="1.3"/>
<rect x="94.1" y="443.3" width="1.3" height="1.3"/>
<rect x="120.4" y="417.5" width="1.3" height="1.3"/>
<rect x="65.9" y="467.7" width="1.3" height="1.3"/>
<rect x="61.5" y="462.8" width="1.3" height="1.3"/>
<rect x="89.0" y="458.2" width="1.3" height="1.3"/>
<rect x="75.0" y="453.7" width="1.3" height="1.3"/>
<rect x="76.0" y="444.4" width="1.3" height="1.3"/>
<rect x="107.7" y="423.8" width="1.3" height="1.3"/>
<rect x="63.6" y="465.2" width="1.3" height="1.3"/>
<rect x="75.5" y="449.7" width="1.3" height="1.3"/>
<rect x="57.0" y="464.7" width="1.3" height="1.3"/>
<rect x="112.4" y="426.1" width="1.3" height="1.3"/>
<rect x="107.8" y="425.5" width="1.3" height="1.3"/>
<rect x="131.3" y="415.6" width="1.3" height="1.3"/>
<rect x="121.3" y="424.8" width="1.3" height="1.3"/>
<rect x="125.3" y="415.7" width="1.3" height="1.3"/>
<rect x="62.2" y="463.6" width="1.3" height="1.3"/>
<rect x="81.1" y="450.6" width="1.3" height="1.3"/>
<rect x="79.7" y="440.6" width="1.3" height="1.3"/>
<rect x="72.0" y="448.7" width="1.3" height="1.3"/>
<rect x="90.2" y="437.4" width="1.3" height="1.3"/>
<rect x="96.2" y="446.3" width="1.3" height="1.3"/>
<rect x="67.6" y="461.0" width="1.3" height="1.3"/>
<rect x="73.8" y="454.5" width="1.3" height="1.3"/>
<rect x="76.1" y="442.9" width="1.3" height="1.3"/>
<rect x="132.5" y="431.6" width="1.3" height="1.3"/>
<rect x="56.3" y="472.7" width="1.3" height="1.3"/>
<rect x="89.8" y="450.9" width="1.3" height="1.3"/>
<rect x="83.0" y="437.8" width="1.3" height="1.3"/>
<rect x="85.1" y="444.0" width="1.3" height="1.3"/>
<rect x="68.0" y="462.8" width="1.3" height="1.3"/>
<rect x="75.1" y="456.6" width="1.3" height="1.3"/>
<rect x="76.2" y="446.1" width="1.3" height="1.3"/>
<rect x="77.2" y="445.3" width="1.3" height="1.3"/>
<rect x="87.0" y="445.4" width="1.3" height="1.3"/>
<rect x="88.5" y="447.3" width="1.3" height="1.3"/>
<rect x="46.4" y="478.6" width="1.3" height="1.3"/>
<rect x="80.2" y="446.9" width="1.3" height="1.3"/>
<rect x="70.6" y="463.7" width="1.3" height="1.3"/>
<rect x="77.8" y="451.9" width="1.3" height="1.3"/>
<rect x="86.0" y="443.2" width="1.3" height="1.3"/>
<rect x="86.0" y="448.0" width="1.3" height="1.3"/>
<rect x="146.3" y="405.2" width="1.3" height="1.3"/>
<rect x="53.0" y="468.9" width="1.3" height="1.3"/>
<rect x="63.7" y="460.6" width="1.3" height="1.3"/>
<rect x="91.2" y="440.2" width="1.3" height="1.3"/>
<rect x="117.0" y="426.3" width="1.3" height="1.3"/>
<rect x="82.2" y="457.1" width="1.3" height="1.3"/>
<rect x="71.1" y="442.8" width="1.3" height="1.3"/>
<rect x="73.6" y="449.6" width="1.3" height="1.3"/>
<rect x="67.5" y="456.3" width="1.3" height="1.3"/>
<rect x="69.5" y="455.0" width="1.3" height="1.3"/>
<rect x="80.2" y="451.6" width="1.3" height="1.3"/>
<rect x="158.9" y="400.7" width="1.3" height="1.3"/>
<rect x="101.7" y="434.6" width="1.3" height="1.3"/>
<rect x="104.7" y="434.3" width="1.3" height="1.3"/>
<rect x="76.8" y="441.7" width="1.3" height="1.3"/>
<rect x="108.4" y="437.3" width="1.3" height="1.3"/>
<rect x="56.3" y="468.9" width="1.3" height="1.3"/>
<rect x="93.5" y="448.9" width="1.3" height="1.3"/>
<rect x="51.7" y="467.8" width="1.3" height="1.3"/>
<rect x="94.1" y="439.6" width="1.3" height="1.3"/>
<rect x="89.7" y="446.2" width="1.3" height="1.3"/>
<rect x="110.6" y="431.9" width="1.3" height="1.3"/>
<rect x="102.4" y="433.5" width="1.3" height="1.3"/>
<rect x="129.9" y="418.5" width="1.3" height="1.3"/>
<rect x="46.9" y="478.4" width="1.3" height="1.3"/>
<rect x="46.7" y="479.4" width="1.3" height="1.3"/>
<rect x="68.3" y="456.3" width="1.3" height="1.3"/>
<rect x="75.1" y="453.4" width="1.3" height="1.3"/>
<rect x="85.1" y="441.5" width="1.3" height="1.3"/>
<rect x="70.3" y="463.2" width="1.3" height="1.3"/>
<rect x="54.1" y="473.8" width="1.3" height="1.3"/>
<rect x="82.1" y="452.5" width="1.3" height="1.3"/>
<rect x="84.1" y="446.1" width="1.3" height="1.3"/>
<rect x="145.0" y="409.9" width="1.3" height="1.3"/>
<rect x="111.0" y="433.9" width="1.3" height="1.3"/>
<rect x="135.0" y="419.2" width="1.3" height="1.3"/>
<rect x="77.9" y="451.9" width="1.3" height="1.3"/>
<rect x="112.1" y="418.2" width="1.3" height="1.3"/>
<rect x="115.6" y="421.9" width="1.3" height="1.3"/>
<rect x="125.6" y="417.9" width="1.3" height="1.3"/>
<rect x="96.6" y="445.3" width="1.3" height="1.3"/>
<rect x="78.3" y="454.7" width="1.3" height="1.3"/>
<rect x="78.3" y="451.6" width="1.3" height="1.3"/>
<rect x="100.4" y="429.2" width="1.3" height="1.3"/>
<rect x="64.2" y="462.5" width="1.3" height="1.3"/>
<rect x="104.3" y="434.2" width="1.3" height="1.3"/>
<rect x="58.9" y="461.9" width="1.3" height="1.3"/>
<rect x="57.6" y="465.0" width="1.3" height="1.3"/>
<rect x="94.8" y="444.7" width="1.3" height="1.3"/>
<rect x="73.6" y="450.0" width="1.3" height="1.3"/>
<rect x="81.0" y="445.0" width="1.3" height="1.3"/>
<rect x="89.2" y="433.3" width="1.3" height="1.3"/>
<rect x="136.6" y="412.5" width="1.3" height="1.3"/>
<rect x="110.7" y="435.8" width="1.3" height="1.3"/>
<rect x="98.4" y="441.5" width="1.3" height="1.3"/>
<rect x="57.1" y="469.9" width="1.3" height="1.3"/>
<rect x="113.4" y="429.3" width="1.3" height="1.3"/>
<rect x="117.2" y="414.4" width="1.3" height="1.3"/>
<rect x="97.4" y="437.9" width="1.3" height="1.3"/>
<rect x="115.3" y="426.7" width="1.3" height="1.3"/>
<rect x="89.2" y="444.2" width="1.3" height="1.3"/>
<rect x="142.4" y="415.1" width="1.3" height="1.3"/>
<rect x="101.1" y="431.8" width="1.3" height="1.3"/>
<rect x="61.1" y="468.2" width="1.3" height="1.3"/>
<rect x="92.3" y="455.2" width="1.3" height="1.3"/>
<rect x="92.1" y="444.6" width="1.3" height="1.3"/>
<rect x="74.5" y="449.2" width="1.3" height="1.3"/>
<rect x="92.9" y="436.6" width="1.3" height="1.3"/>
<rect x="102.9" y="439.4" width="1.3" height="1.3"/>
<rect x="108.0" y="428.8" width="1.3" height="1.3"/>
<rect x="106.5" y="433.0" width="1.3" height="1.3"/>
<rect x="55.3" y="469.2" width="1.3" height="1.3"/>
<rect x="69.0" y="463.9" width="1.3" height="1.3"/>
<rect x="120.4" y="423.0" width="1.3" height="1.3"/>
<rect x="109.9" y="432.1" width="1.3" height="1.3"/>
<rect x="102.6" y="437.9" width="1.3" height="1.3"/>
<rect x="78.1" y="448.6" width="1.3" height="1.3"/>
<rect x="72.4" y="454.3" width="1.3" height="1.3"/>
<rect x="86.3" y="450.8" width="1.3" height="1.3"/>
<rect x="57.9" y="463.1" width="1.3" height="1.3"/>
<rect x="82.9" y="450.6" width="1.3" height="1.3"/>
<rect x="73.6" y="451.6" width="1.3" height="1.3"/>
<rect x="106.2" y="431.9" width="1.3" height="1.3"/>
<rect x="79.8" y="448.5" width="1.3" height="1.3"/>
<rect x="88.6" y="438.4" width="1.3" height="1.3"/>
<rect x="89.0" y="450.9" width="1.3" height="1.3"/>
<rect x="116.0" y="423.4" width="1.3" height="1.3"/>
<rect x="60.7" y="470.5" width="1.3" height="1.3"/>
<rect x="72.3" y="455.4" width="1.3" height="1.3"/>
<rect x="81.9" y="445.7" width="1.3" height="1.3"/>
<rect x="49.5" y="482.0" width="1.3" height="1.3"/>
<rect x="67.6" y="446.9" width="1.3" height="1.3"/>
<rect x="70.8" y="451.4" width="1.3" height="1.3"/>
<rect x="81.2" y="451.4" width="1.3" height="1.3"/>
<rect x="81.5" y="445.6" width="1.3" height="1.3"/>
<rect x="60.0" y="467.0" width="1.3" height="1.3"/>
<rect x="79.8" y="444.7" width="1.3" height="1.3"/>
<rect x="65.1" y="466.3" width="1.3" height="1.3"/>
<rect x="130.7" y="414.6" width="1.3" height="1.3"/>
<rect x="141.6" y="410.3" width="1.3" height="1.3"/>
<rect x="110.0" y="439.3" width="1.3" height="1.3"/>
<rect x="133.3" y="423.5" width="1.3" height="1.3"/>
<rect x="51.8" y="470.7" width="1.3" height="1.3"/>
<rect x="109.4" y="427.2" width="1.3" height="1.3"/>
<rect x="124.1" y="432.4" width="1.3" height="1.3"/>
<rect x="97.7" y="437.3" width="1.3" height="1.3"/>
<rect x="64.5" y="460.2" width="1.3" height="1.3"/>
<rect x="108.6" y="437.5" width="1.3" height="1.3"/>
<rect x="105.2" y="437.0" width="1.3" height="1.3"/>
<rect x="116.3" y="427.3" width="1.3" height="1.3"/>
<rect x="135.7" y="413.0" width="1.3" height="1.3"/>
<rect x="83.9" y="438.9" width="1.3" height="1.3"/>
<rect x="45.5" y="483.0" width="1.3" height="1.3"/>
<rect x="94.6" y="441.2" width="1.3" height="1.3"/>
<rect x="89.0" y="444.5" width="1.3" height="1.3"/>
<rect x="74.9" y="455.0" width="1.3" height="1.3"/>
<rect x="109.9" y="427.0" width="1.3" height="1.3"/>
<rect x="66.4" y="453.6" width="1.3" height="1.3"/>
<rect x="46.2" y="467.7" width="1.3" height="1.3"/>
<rect x="73.2" y="454.5" width="1.3" height="1.3"/>
<rect x="75.1" y="448.1" width="1.3" height="1.3"/>
<rect x="105.3" y="431.5" width="1.3" height="1.3"/>
<rect x="80.4" y="453.6" width="1.3" height="1.3"/>
<rect x="101.0" y="439.3" width="1.3" height="1.3"/>
<rect x="90.8" y="436.1" width="1.3" height="1.3"/>
<rect x="90.1" y="450.3" width="1.3" height="1.3"/>
<rect x="89.1" y="451.6" width="1.3" height="1.3"/>
<rect x="90.6" y="437.4" width="1.3" height="1.3"/>
<rect x="53.0" y="476.4" width="1.3" height="1.3"/>
<rect x="81.0" y="452.2" width="1.3" height="1.3"/>
<rect x="76.0" y="451.1" width="1.3" height="1.3"/>
<rect x="98.1" y="446.3" width="1.3" height="1.3"/>
<rect x="105.6" y="430.7" width="1.3" height="1.3"/>
<rect x="138.6" y="420.1" width="1.3" height="1.3"/>
<rect x="100.1" y="437.4" width="1.3" height="1.3"/>
<rect x="74.9" y="456.1" width="1.3" height="1.3"/>
<rect x="75.9" y="456.6" width="1.3" height="1.3"/>
<rect x="67.6" y="459.3" width="1.3" height="1.3"/>
<rect x="162.2" y="386.7" width="1.3" height="1.3"/>
<rect x="129.2" y="428.5" width="1.3" height="1.3"/>
<rect x="58.1" y="464.1" width="1.3" height="1.3"/>
<rect x="165.5" y="397.2" width="1.3" height="1.3"/>
<rect x="78.6" y="458.2" width="1.3" height="1.3"/>
<rect x="71.7" y="465.9" width="1.3" height="1.3"/>
<rect x="88.5" y="438.3" width="1.3" height="1.3"/>
<rect x="75.4" y="456.5" width="1.3" height="1.3"/>
<rect x="107.6" y="427.7" width="1.3" height="1.3"/>
<rect x="101.7" y="437.0" width="1.3" height="1.3"/>
<rect x="137.8" y="415.4" width="1.3" height="1.3"/>
<rect x="87.5" y="448.5" width="1.3" height="1.3"/>
<rect x="93.8" y="436.3" width="1.3" height="1.3"/>
<rect x="100.1" y="440.4" width="1.3" height="1.3"/>
<rect x="80.5" y="453.8" width="1.3" height="1.3"/>
<rect x="68.0" y="459.7" width="1.3" height="1.3"/>
<rect x="144.4" y="405.7" width="1.3" height="1.3"/>
<rect x="76.3" y="445.4" width="1.3" height="1.3"/>
<rect x="96.1" y="425.8" width="1.3" height="1.3"/>
<rect x="51.6" y="470.6" width="1.3" height="1.3"/>
<rect x="110.1" y="425.2" width="1.3" height="1.3"/>
<rect x="45.8" y="483.9" width="1.3" height="1.3"/>
<rect x="75.1" y="443.2" width="1.3" height="1.3"/>
<rect x="91.6" y="439.8" width="1.3" height="1.3"/>
<rect x="46.2" y="480.3" width="1.3" height="1.3"/>
<rect x="139.4" y="409.7" width="1.3" height="1.3"/>
<rect x="47.2" y="476.7" width="1.3" height="1.3"/>
<rect x="116.9" y="426.8" width="1.3" height="1.3"/>
<rect x="62.8" y="460.3" width="1.3" height="1.3"/>
<rect x="70.2" y="457.2" width="1.3" height="1.3"/>
<rect x="62.6" y="458.6" width="1.3" height="1.3"/>
<rect x="87.3" y="443.5" width="1.3" height="1.3"/>
<rect x="73.8" y="457.2" width="1.3" height="1.3"/>
<rect x="81.9" y="445.5" width="1.3" height="1.3"/>
<rect x="62.5" y="468.8" width="1.3" height="1.3"/>
<rect x="96.0" y="441.9" width="1.3" height="1.3"/>
<rect x="75.7" y="452.2" width="1.3" height="1.3"/>
<rect x="112.1" y="426.7" width="1.3" height="1.3"/>
<rect x="70.8" y="448.4" width="1.3" height="1.3"/>
<rect x="50.7" y="481.6" width="1.3" height="1.3"/>
<rect x="52.5" y="484.1" width="1.3" height="1.3"/>
<rect x="73.1" y="452.5" width="1.3" height="1.3"/>
<rect x="89.0" y="438.6" width="1.3" height="1.3"/>
<rect x="58.8" y="471.9" width="1.3" height="1.3"/>
<rect x="81.4" y="452.6" width="1.3" height="1.3"/>
<rect x="69.2" y="451.6" width="1.3" height="1.3"/>
<rect x="111.1" y="424.1" width="1.3" height="1.3"/>
<rect x="63.4" y="466.1" width="1.3" height="1.3"/>
<rect x="79.4" y="438.3" width="1.3" height="1.3"/>
<rect x="64.0" y="458.0" width="1.3" height="1.3"/>
<rect x="92.1" y="440.9" width="1.3" height="1.3"/>
<rect x="72.9" y="462.2" width="1.3" height="1.3"/>
<rect x="79.0" y="451.2" width="1.3" height="1.3"/>
<rect x="105.5" y="435.3" width="1.3" height="1.3"/>
<rect x="83.4" y="443.4" width="1.3" height="1.3"/>
<rect x="83.6" y="459.9" width="1.3" height="1.3"/>
<rect x="105.8" y="428.5" width="1.3" height="1.3"/>
<rect x="100.1" y="429.3" width="1.3" height="1.3"/>
<rect x="139.0" y="402.3" width="1.3" height="1.3"/>
<rect x="122.9" y="416.2" width="1.3" height="1.3"/>
<rect x="88.8" y="436.2" width="1.3" height="1.3"/>
<rect x="106.1" y="430.0" width="1.3" height="1.3"/>
<rect x="104.1" y="428.4" width="1.3" height="1.3"/>
<rect x="134.9" y="411.9" width="1.3" height="1.3"/>
<rect x="119.6" y="432.6" width="1.3" height="1.3"/>
<rect x="82.8" y="442.5" width="1.3" height="1.3"/>
<rect x="50.0" y="481.0" width="1.3" height="1.3"/>
<rect x="92.7" y="440.2" width="1.3" height="1.3"/>
<rect x="124.3" y="407.7" width="1.3" height="1.3"/>
<rect x="123.8" y="428.2" width="1.3" height="1.3"/>
<rect x="49.8" y="473.6" width="1.3" height="1.3"/>
<rect x="44.1" y="482.7" width="1.3" height="1.3"/>
<rect x="68.8" y="455.1" width="1.3" height="1.3"/>
<rect x="109.5" y="427.2" width="1.3" height="1.3"/>
<rect x="105.0" y="423.1" width="1.3" height="1.3"/>
<rect x="67.0" y="459.5" width="1.3" height="1.3"/>
<rect x="121.8" y="441.4" width="1.3" height="1.3"/>
<rect x="90.8" y="446.3" width="1.3" height="1.3"/>
<rect x="75.6" y="460.4" width="1.3" height="1.3"/>
<rect x="97.3" y="441.4" width="1.3" height="1.3"/>
<rect x="84.1" y="447.3" width="1.3" height="1.3"/>
<rect x="82.0" y="453.0" width="1.3" height="1.3"/>
<rect x="47.2" y="473.8" width="1.3" height="1.3"/>
<rect x="109.3" y="425.9" width="1.3" height="1.3"/>
<rect x="85.5" y="443.7" width="1.3" height="1.3"/>
<rect x="61.5" y="461.0" width="1.3" height="1.3"/>
<rect x="68.9" y="461.6" width="1.3" height="1.3"/>
<rect x="144.7" y="405.8" width="1.3" height="1.3"/>
<rect x="80.6" y="438.5" width="1.3" height="1.3"/>
<rect x="60.5" y="458.9" width="1.3" height="1.3"/>
<rect x="61.2" y="461.6" width="1.3" height="1.3"/>
<rect x="86.8" y="449.1" width="1.3" height="1.3"/>
<rect x="122.4" y="431.8" width="1.3" height="1.3"/>
<rect x="123.0" y="421.4" width="1.3" height="1.3"/>
<rect x="99.7" y="439.4" width="1.3" height="1.3"/>
<rect x="107.0" y="431.3" width="1.3" height="1.3"/>
<rect x="70.5" y="450.5" width="1.3" height="1.3"/>
<rect x="54.7" y="474.0" width="1.3" height="1.3"/>
<rect x="65.4" y="459.9" width="1.3" height="1.3"/>
<rect x="85.1" y="433.4" width="1.3" height="1.3"/>
<rect x="71.1" y="455.2" width="1.3" height="1.3"/>
<rect x="61.1" y="468.1" width="1.3" height="1.3"/>
<rect x="125.0" y="430.3" width="1.3" height="1.3"/>
<rect x="84.6" y="442.2" width="1.3" height="1.3"/>
<rect x="120.1" y="419.8" width="1.3" height="1.3"/>
<rect x="65.7" y="457.4" width="1.3" height="1.3"/>
<rect x="104.6" y="438.3" width="1.3" height="1.3"/>
<rect x="137.7" y="408.7" width="1.3" height="1.3"/>
<rect x="80.1" y="451.9" width="1.3" height="1.3"/>
<rect x="136.9" y="408.1" width="1.3" height="1.3"/>
<rect x="107.7" y="440.9" width="1.3" height="1.3"/>
<rect x="59.2" y="471.8" width="1.3" height="1.3"/>
<rect x="51.7" y="473.4" width="1.3" height="1.3"/>
<rect x="121.9" y="422.3" width="1.3" height="1.3"/>
<rect x="51.0" y="473.4" width="1.3" height="1.3"/>
<rect x="111.2" y="429.7" width="1.3" height="1.3"/>
<rect x="98.4" y="430.1" width="1.3" height="1.3"/>
<rect x="57.9" y="460.7" width="1.3" height="1.3"/>
<rect x="94.7" y="448.9" width="1.3" height="1.3"/>
<rect x="60.7" y="464.9" width="1.3" height="1.3"/>
<rect x="92.3" y="444.3" width="1.3" height="1.3"/>
<rect x="107.3" y="425.3" width="1.3" height="1.3"/>
<rect x="79.3" y="447.0" width="1.3" height="1.3"/>
<rect x="43.5" y="484.7" width="1.3" height="1.3"/>
<rect x="87.0" y="445.8" width="1.3" height="1.3"/>
<rect x="134.3" y="403.8" width="1.3" height="1.3"/>
<rect x="92.3" y="438.5" width="1.3" height="1.3"/>
<rect x="66.5" y="463.5" width="1.3" height="1.3"/>
<rect x="70.1" y="458.2" width="1.3" height="1.3"/>
<rect x="77.4" y="446.5" width="1.3" height="1.3"/>
<rect x="120.0" y="423.5" width="1.3" height="1.3"/>
<rect x="86.8" y="458.7" width="1.3" height="1.3"/>
<rect x="80.2" y="453.4" width="1.3" height="1.3"/>
<rect x="73.3" y="458.7" width="1.3" height="1.3"/>
<rect x="54.0" y="470.3" width="1.3" height="1.3"/>
<rect x="67.4" y="459.9" width="1.3" height="1.3"/>
<rect x="74.1" y="457.7" width="1.3" height="1.3"/>
<rect x="92.8" y="438.1" width="1.3" height="1.3"/>
<rect x="96.6" y="442.8" width="1.3" height="1.3"/>
<rect x="76.3" y="435.0" width="1.3" height="1.3"/>
<rect x="51.3" y="476.1" width="1.3" height="1.3"/>
<rect x="122.6" y="431.2" width="1.3" height="1.3"/>
<rect x="89.9" y="426.0" width="1.3" height="1.3"/>
</g>
<rect x="152.50" y="371.60" width="1.20" height="1.20" fill="#000" stroke="none" stroke-width="1"/>
<rect x="149.40" y="384.80" width="1.20" height="1.20" fill="#000" stroke="none" stroke-width="1"/>
<rect x="147.20" y="389.80" width="1.20" height="1.20" fill="#000" stroke="none" stroke-width="1"/>
<rect x="143.90" y="395.50" width="1.20" height="1.20" fill="#000" stroke="none" stroke-width="1"/>
<rect x="148.30" y="397.50" width="1.20" height="1.20" fill="#000" stroke="none" stroke-width="1"/>
<rect x="146.50" y="401.60" width="1.20" height="1.20" fill="#000" stroke="none" stroke-width="1"/>
<rect x="128.90" y="400.30" width="1.20" height="1.20" fill="#000" stroke="none" stroke-width="1"/>
<rect x="134.50" y="402.70" width="1.20" height="1.20" fill="#000" stroke="none" stroke-width="1"/>
<rect x="111.20" y="393.20" width="1.20" height="1.20" fill="#000" stroke="none" stroke-width="1"/>
<rect x="168.40" y="406.20" width="1.20" height="1.20" fill="#000" stroke="none" stroke-width="1"/>
<rect x="45.00" y="494.40" width="1.20" height="1.20" fill="#000" stroke="none" stroke-width="1"/>
<rect x="49.80" y="489.00" width="1.20" height="1.20" fill="#000" stroke="none" stroke-width="1"/>
<rect x="53.00" y="490.20" width="1.20" height="1.20" fill="#000" stroke="none" stroke-width="1"/>
<path d="M155,398.5 L162,392.5 L169.5,384.3 L169.5,394.0 L162,397.5 L155,402.5 Z" fill="#a0a0a0" stroke="none" stroke-width="0" fill-opacity="0.75"/>
<path d="M44.60,483.30 C45.68,482.07 49.28,478.02 51.10,475.90 C52.92,473.78 53.30,472.93 55.50,470.60 C57.70,468.27 61.38,464.52 64.30,461.90 C67.22,459.28 70.08,457.08 73.00,454.90 C75.92,452.72 78.88,450.70 81.80,448.80 C84.72,446.90 87.88,445.03 90.50,443.50 C93.12,441.97 95.08,441.13 97.50,439.60 C99.92,438.07 102.28,436.02 105.00,434.30 C107.72,432.58 110.88,430.92 113.80,429.30 C116.72,427.68 119.80,426.20 122.50,424.60 C125.20,423.00 127.50,421.53 130.00,419.70 C132.50,417.87 134.78,415.72 137.50,413.60 C140.22,411.48 143.38,409.18 146.30,407.00 C149.22,404.82 152.08,402.68 155.00,400.50 C157.92,398.32 161.47,395.73 163.80,393.90 C166.13,392.07 168.13,390.23 169.00,389.50" fill="none" stroke="#f00000" stroke-width="3.1" stroke-linecap="round"/>
<rect x="37.60" y="365.70" width="137.70" height="136.50" fill="none" stroke="#111" stroke-width="1"/>
<text x="43.90" y="377.60" font-size="8.7" text-anchor="start" dominant-baseline="central" fill="#111">r=0.945</text>
<text x="43.90" y="387.90" font-size="8.7" text-anchor="start" dominant-baseline="central" fill="#111">p&lt;0.0001</text>
<text x="187.50" y="357.40" font-size="19.5" text-anchor="start" dominant-baseline="alphabetic" fill="#000" font-weight="bold">G</text>
<text transform="translate(232.60,440.90) rotate(-90)" font-size="7.3" text-anchor="start" dominant-baseline="central" fill="#111">HD02</text>
<text x="228.65" y="472.90" font-size="6.1" text-anchor="middle" dominant-baseline="central" fill="#111">0.39</text>
<text transform="translate(246.30,440.90) rotate(-90)" font-size="7.3" text-anchor="start" dominant-baseline="central" fill="#111">HD03</text>
<text x="244.00" y="472.90" font-size="6.1" text-anchor="middle" dominant-baseline="central" fill="#111">1.21</text>
<text transform="translate(260.70,440.90) rotate(-90)" font-size="7.3" text-anchor="start" dominant-baseline="central" fill="#111">HD04</text>
<text x="259.90" y="472.90" font-size="6.1" text-anchor="middle" dominant-baseline="central" fill="#111">1.42</text>
<text transform="translate(275.20,440.90) rotate(-90)" font-size="7.3" text-anchor="start" dominant-baseline="central" fill="#111">HD05</text>
<text x="275.00" y="472.90" font-size="6.1" text-anchor="middle" dominant-baseline="central" fill="#111">0.98</text>
<text transform="translate(290.50,440.90) rotate(-90)" font-size="7.3" text-anchor="start" dominant-baseline="central" fill="#111">pair_1_indolent</text>
<text x="290.50" y="472.90" font-size="6.1" text-anchor="middle" dominant-baseline="central" fill="#111">3.98</text>
<text transform="translate(304.90,440.90) rotate(-90)" font-size="7.3" text-anchor="start" dominant-baseline="central" fill="#111">pair_2_indolent</text>
<text x="306.10" y="472.90" font-size="6.1" text-anchor="middle" dominant-baseline="central" fill="#111">3.67</text>
<text transform="translate(319.80,440.90) rotate(-90)" font-size="7.3" text-anchor="start" dominant-baseline="central" fill="#111">pair_3_indolent</text>
<text x="319.10" y="472.90" font-size="6.1" text-anchor="middle" dominant-baseline="central" fill="#111">1.4</text>
<text transform="translate(335.20,440.90) rotate(-90)" font-size="7.3" text-anchor="start" dominant-baseline="central" fill="#111">single_indolent_2</text>
<text x="331.50" y="472.90" font-size="6.1" text-anchor="middle" dominant-baseline="central" fill="#111">3.9</text>
<text transform="translate(348.10,440.90) rotate(-90)" font-size="7.3" text-anchor="start" dominant-baseline="central" fill="#111">single_indolent_3</text>
<text x="346.40" y="472.90" font-size="6.1" text-anchor="middle" dominant-baseline="central" fill="#111">1.66</text>
<text transform="translate(363.10,440.90) rotate(-90)" font-size="7.3" text-anchor="start" dominant-baseline="central" fill="#111">pair_1_active</text>
<text x="361.90" y="472.90" font-size="6.1" text-anchor="middle" dominant-baseline="central" fill="#111">6.73</text>
<text transform="translate(377.00,440.90) rotate(-90)" font-size="7.3" text-anchor="start" dominant-baseline="central" fill="#111">pair_2_active</text>
<text x="376.90" y="472.90" font-size="6.1" text-anchor="middle" dominant-baseline="central" fill="#111">4.36</text>
<text transform="translate(391.30,440.90) rotate(-90)" font-size="7.3" text-anchor="start" dominant-baseline="central" fill="#111">pair_3_active</text>
<text x="392.70" y="472.90" font-size="6.1" text-anchor="middle" dominant-baseline="central" fill="#111">2.87</text>
<text transform="translate(405.10,440.90) rotate(-90)" font-size="7.3" text-anchor="start" dominant-baseline="central" fill="#111">single_active_2</text>
<text x="408.60" y="472.90" font-size="6.1" text-anchor="middle" dominant-baseline="central" fill="#111">1.37</text>
<text transform="translate(419.50,440.90) rotate(-90)" font-size="7.3" text-anchor="start" dominant-baseline="central" fill="#111">single_active_3</text>
<text x="424.60" y="472.90" font-size="6.1" text-anchor="middle" dominant-baseline="central" fill="#111">1.41</text>
<text x="301.00" y="391.60" font-size="9" text-anchor="middle" dominant-baseline="central" fill="#111" font-weight="bold">*</text>
<text x="316.80" y="391.60" font-size="9" text-anchor="middle" dominant-baseline="central" fill="#111" font-weight="bold">*</text>
<line x1="224.50" y1="445.40" x2="281.80" y2="445.40" stroke="#aaaaaa" stroke-width="0.9"/>
<line x1="285.00" y1="445.40" x2="351.50" y2="445.40" stroke="#52719e" stroke-width="0.9"/>
<line x1="356.60" y1="445.40" x2="429.70" y2="445.40" stroke="#e06a6e" stroke-width="0.9"/>
<path d="M288.8,367.3 L288.8,364.5 L358.8,364.5 L358.8,367.3" fill="none" stroke="#222" stroke-width="0.9"/>
<path d="M304.9,373.4 L304.9,370.3 L375.0,370.3 L375.0,373.4" fill="none" stroke="#222" stroke-width="0.9"/>
<path d="M321.2,379.0 L321.2,375.9 L390.9,375.9 L390.9,379.0" fill="none" stroke="#222" stroke-width="0.9"/>
<filter id="bl" x="-50%" y="-80%" width="200%" height="260%"><feGaussianBlur stdDeviation="0.9"/></filter>
<rect x="219.20" y="451.70" width="214.40" height="13.60" fill="#f6f6f6" stroke="none" stroke-width="0"/>
<g filter="url(#bl)">
<rect x="225.3" y="455.6" width="11.2" height="4.4" rx="2" fill="#000" fill-opacity="0.06"/>
<rect x="225.7" y="455.2" width="10.4" height="2.0" rx="1" fill="#000" fill-opacity="0.02"/>
<rect x="240.2" y="455.6" width="11.2" height="4.4" rx="2" fill="#000" fill-opacity="0.19"/>
<rect x="240.6" y="455.2" width="10.4" height="2.0" rx="1" fill="#000" fill-opacity="0.08"/>
<rect x="255.1" y="455.6" width="11.2" height="4.4" rx="2" fill="#000" fill-opacity="0.22"/>
<rect x="255.5" y="455.2" width="10.4" height="2.0" rx="1" fill="#000" fill-opacity="0.09"/>
<rect x="269.7" y="455.6" width="11.2" height="4.4" rx="2" fill="#000" fill-opacity="0.15"/>
<rect x="270.1" y="455.2" width="10.4" height="2.0" rx="1" fill="#000" fill-opacity="0.06"/>
<rect x="284.0" y="455.6" width="11.2" height="4.4" rx="2" fill="#000" fill-opacity="0.64"/>
<rect x="284.4" y="455.2" width="10.4" height="2.0" rx="1" fill="#000" fill-opacity="0.26"/>
<rect x="298.6" y="455.6" width="11.2" height="4.4" rx="2" fill="#000" fill-opacity="0.53"/>
<rect x="299.0" y="455.2" width="10.4" height="2.0" rx="1" fill="#000" fill-opacity="0.22"/>
<rect x="313.1" y="455.6" width="11.2" height="4.4" rx="2" fill="#000" fill-opacity="0.19"/>
<rect x="313.5" y="455.2" width="10.4" height="2.0" rx="1" fill="#000" fill-opacity="0.08"/>
<rect x="327.6" y="455.6" width="11.2" height="4.4" rx="2" fill="#000" fill-opacity="0.30"/>
<rect x="328.0" y="455.2" width="10.4" height="2.0" rx="1" fill="#000" fill-opacity="0.12"/>
<rect x="342.0" y="455.6" width="11.2" height="4.4" rx="2" fill="#000" fill-opacity="0.21"/>
<rect x="342.4" y="455.2" width="10.4" height="2.0" rx="1" fill="#000" fill-opacity="0.09"/>
<rect x="356.5" y="455.6" width="11.2" height="4.4" rx="2" fill="#000" fill-opacity="0.85"/>
<rect x="356.9" y="455.2" width="10.4" height="2.0" rx="1" fill="#000" fill-opacity="0.35"/>
<rect x="371.0" y="455.6" width="11.2" height="4.4" rx="2" fill="#000" fill-opacity="0.53"/>
<rect x="371.4" y="455.2" width="10.4" height="2.0" rx="1" fill="#000" fill-opacity="0.22"/>
<rect x="385.6" y="455.6" width="11.2" height="4.4" rx="2" fill="#000" fill-opacity="0.36"/>
<rect x="386.0" y="455.2" width="10.4" height="2.0" rx="1" fill="#000" fill-opacity="0.15"/>
<rect x="399.7" y="455.6" width="11.2" height="4.4" rx="2" fill="#000" fill-opacity="0.12"/>
<rect x="400.1" y="455.2" width="10.4" height="2.0" rx="1" fill="#000" fill-opacity="0.05"/>
<rect x="415.6" y="455.6" width="11.2" height="4.4" rx="2" fill="#000" fill-opacity="0.15"/>
<rect x="416.0" y="455.2" width="10.4" height="2.0" rx="1" fill="#000" fill-opacity="0.06"/>
</g>
<rect x="219.20" y="451.70" width="214.40" height="13.60" fill="none" stroke="#555" stroke-width="0.9"/>
<text x="212.20" y="454.80" font-size="7.2" text-anchor="end" dominant-baseline="central" fill="#111">MYC</text>
<text x="212.20" y="463.80" font-size="7.2" text-anchor="end" dominant-baseline="central" fill="#111">60kDa</text>
<rect x="218.40" y="483.60" width="215.20" height="18.30" fill="#f6f6f6" stroke="none" stroke-width="0"/>
<g filter="url(#bl)">
<rect x="224.1" y="489.1" width="13.6" height="5.2" rx="2.5" fill="#000" fill-opacity="0.95"/>
<rect x="239.0" y="490.6" width="13.6" height="5.2" rx="2.5" fill="#000" fill-opacity="0.95"/>
<rect x="253.9" y="491.0" width="13.6" height="5.2" rx="2.5" fill="#000" fill-opacity="0.95"/>
<rect x="268.5" y="491.0" width="13.6" height="5.2" rx="2.5" fill="#000" fill-opacity="0.95"/>
<rect x="282.8" y="490.6" width="13.6" height="5.2" rx="2.5" fill="#000" fill-opacity="0.95"/>
<rect x="297.4" y="490.6" width="13.6" height="5.2" rx="2.5" fill="#000" fill-opacity="0.95"/>
<rect x="311.9" y="490.6" width="13.6" height="5.2" rx="2.5" fill="#000" fill-opacity="0.95"/>
<rect x="326.4" y="490.6" width="13.6" height="5.2" rx="2.5" fill="#000" fill-opacity="0.95"/>
<rect x="340.8" y="490.6" width="13.6" height="5.2" rx="2.5" fill="#000" fill-opacity="0.95"/>
<rect x="355.3" y="490.6" width="13.6" height="5.2" rx="2.5" fill="#000" fill-opacity="0.95"/>
<rect x="369.8" y="490.6" width="13.6" height="5.2" rx="2.5" fill="#000" fill-opacity="0.95"/>
<rect x="384.4" y="491.0" width="13.6" height="5.2" rx="2.5" fill="#000" fill-opacity="0.95"/>
<rect x="398.5" y="491.0" width="13.6" height="5.2" rx="2.5" fill="#000" fill-opacity="0.95"/>
<rect x="414.4" y="490.6" width="13.6" height="5.2" rx="2.5" fill="#000" fill-opacity="0.95"/>
<path d="M420,491 Q427,490 429.5,486.5 L430,494 Q425,496 420,496 Z" fill="#000"/>
</g>
<rect x="218.40" y="483.60" width="215.20" height="18.30" fill="none" stroke="#555" stroke-width="0.9"/>
<text x="212.20" y="488.60" font-size="7.2" text-anchor="end" dominant-baseline="central" fill="#111">β-actin</text>
<text x="212.20" y="497.30" font-size="7.2" text-anchor="end" dominant-baseline="central" fill="#111">42kDa</text>
<text x="445.80" y="357.50" font-size="19.5" text-anchor="start" dominant-baseline="alphabetic" fill="#000" font-weight="bold">H</text>
<text transform="translate(557.30,435.40) rotate(-90)" font-size="8.8" text-anchor="middle" dominant-baseline="central" fill="#111">MYC / β-actin</text>
<text x="572.20" y="501.10" font-size="8.6" text-anchor="end" dominant-baseline="central" fill="#666">0</text>
<line x1="574.50" y1="501.10" x2="578.50" y2="501.10" stroke="#444" stroke-width="0.8"/>
<text x="572.20" y="464.89" font-size="8.6" text-anchor="end" dominant-baseline="central" fill="#666">3</text>
<line x1="574.50" y1="464.89" x2="578.50" y2="464.89" stroke="#444" stroke-width="0.8"/>
<text x="572.20" y="428.68" font-size="8.6" text-anchor="end" dominant-baseline="central" fill="#666">6</text>
<line x1="574.50" y1="428.68" x2="578.50" y2="428.68" stroke="#444" stroke-width="0.8"/>
<text x="572.20" y="392.47" font-size="8.6" text-anchor="end" dominant-baseline="central" fill="#666">9</text>
<line x1="574.50" y1="392.47" x2="578.50" y2="392.47" stroke="#444" stroke-width="0.8"/>
<line x1="598.05" y1="483.40" x2="598.05" y2="485.80" stroke="#444" stroke-width="0.8"/>
<line x1="598.05" y1="491.50" x2="598.05" y2="496.20" stroke="#444" stroke-width="0.8"/>
<rect x="589.40" y="485.80" width="17.30" height="5.70" fill="#bebebe" stroke="#444" stroke-width="0.8"/>
<line x1="589.40" y1="488.50" x2="606.70" y2="488.50" stroke="#444" stroke-width="1.3"/>
<circle cx="598.10" cy="483.40" r="1.1" fill="#000"/>
<circle cx="598.10" cy="486.50" r="1.1" fill="#000"/>
<circle cx="598.10" cy="488.40" r="1.1" fill="#000"/>
<circle cx="598.10" cy="496.20" r="1.1" fill="#000"/>
<rect x="622.40" y="454.20" width="16.90" height="27.50" fill="#3d6195" stroke="#333" stroke-width="0.8"/>
<line x1="622.40" y1="457.50" x2="639.30" y2="457.50" stroke="#222" stroke-width="1.4"/>
<rect x="655.40" y="448.70" width="16.60" height="35.70" fill="#dc4448" stroke="#333" stroke-width="0.8"/>
<line x1="655.40" y1="466.40" x2="672.00" y2="466.40" stroke="#222" stroke-width="1.4"/>
<line x1="663.70" y1="420.20" x2="663.70" y2="448.70" stroke="#333" stroke-width="0.8"/>
<line x1="631.00" y1="453.40" x2="663.70" y2="420.20" stroke="#111" stroke-width="0.9"/>
<line x1="631.00" y1="456.90" x2="663.70" y2="448.70" stroke="#111" stroke-width="0.9"/>
<line x1="631.00" y1="484.00" x2="663.70" y2="466.40" stroke="#111" stroke-width="0.9"/>
<circle cx="631.00" cy="453.40" r="1.2" fill="#000"/>
<circle cx="631.00" cy="456.90" r="1.2" fill="#000"/>
<circle cx="631.00" cy="480.70" r="1.2" fill="#000"/>
<circle cx="631.00" cy="484.00" r="1.2" fill="#000"/>
<circle cx="663.70" cy="420.20" r="1.2" fill="#000"/>
<circle cx="663.70" cy="448.70" r="1.2" fill="#000"/>
<circle cx="663.70" cy="466.40" r="1.2" fill="#000"/>
<circle cx="663.70" cy="484.40" r="1.2" fill="#000"/>
<text x="598.10" y="477.30" font-size="7.6" text-anchor="middle" dominant-baseline="central" fill="#4d4d4d">n=4</text>
<text x="631.00" y="491.00" font-size="7.6" text-anchor="middle" dominant-baseline="central" fill="#4d4d4d">n=5</text>
<text x="663.70" y="491.00" font-size="7.6" text-anchor="middle" dominant-baseline="central" fill="#4d4d4d">n=5</text>
<path d="M631,381.6 L631,378.8 L663.7,378.8 L663.7,381.6" fill="none" stroke="#222" stroke-width="0.9"/>
<text x="646.90" y="374.00" font-size="7.4" text-anchor="middle" dominant-baseline="central" fill="#333">p=1</text>
<path d="M598.1,398.8 L598.1,395.7 L663.7,395.7 L663.7,398.8" fill="none" stroke="#222" stroke-width="0.9"/>
<text x="630.50" y="390.80" font-size="7.4" text-anchor="middle" dominant-baseline="central" fill="#333">p=0.064</text>
<path d="M598.1,415.7 L598.1,412.6 L631,412.6 L631,415.7" fill="none" stroke="#222" stroke-width="0.9"/>
<text x="614.80" y="408.00" font-size="7.4" text-anchor="middle" dominant-baseline="central" fill="#333">p=0.032</text>
<rect x="578.50" y="366.50" width="105.10" height="135.20" fill="none" stroke="#222" stroke-width="0.9"/>
<line x1="598.10" y1="501.70" x2="598.10" y2="503.30" stroke="#444" stroke-width="0.8"/>
<line x1="631.00" y1="501.70" x2="631.00" y2="503.30" stroke="#444" stroke-width="0.8"/>
<line x1="663.70" y1="501.70" x2="663.70" y2="503.30" stroke="#444" stroke-width="0.8"/>
<rect x="477.60" y="444.80" width="12.50" height="12.90" fill="#bebebe" stroke="#444" stroke-width="0.8"/>
<rect x="477.60" y="467.30" width="12.50" height="12.90" fill="#3d6195" stroke="#444" stroke-width="0.8"/>
<rect x="477.60" y="489.50" width="12.50" height="12.90" fill="#dc4448" stroke="#444" stroke-width="0.8"/>
<text x="496.50" y="446.80" font-size="7.2" text-anchor="start" dominant-baseline="central" fill="#555">healthy-donor</text>
<text x="496.50" y="455.40" font-size="7.2" text-anchor="start" dominant-baseline="central" fill="#555">CD3+ T cells</text>
<text x="496.50" y="473.60" font-size="7.2" text-anchor="start" dominant-baseline="central" fill="#555">indolent T-PLL</text>
<text x="496.50" y="495.80" font-size="7.2" text-anchor="start" dominant-baseline="central" fill="#555">active T-PLL</text>
<text x="0.70" y="544.60" font-size="19.5" text-anchor="start" dominant-baseline="alphabetic" fill="#000" font-weight="bold">I</text>
<rect x="57.90" y="549.40" width="117.70" height="74.90" fill="none" stroke="#222" stroke-width="1"/>
<rect x="57.90" y="635.10" width="117.70" height="75.80" fill="none" stroke="#222" stroke-width="1"/>
<text x="51.30" y="566.90" font-size="8.5" text-anchor="end" dominant-baseline="central" fill="#666">0.4</text>
<line x1="55.00" y1="566.40" x2="57.90" y2="566.40" stroke="#333" stroke-width="0.9"/>
<text x="51.30" y="600.40" font-size="8.5" text-anchor="end" dominant-baseline="central" fill="#666">0.35</text>
<line x1="55.00" y1="599.90" x2="57.90" y2="599.90" stroke="#333" stroke-width="0.9"/>
<text x="51.30" y="646.20" font-size="8.5" text-anchor="end" dominant-baseline="central" fill="#666">0.02</text>
<line x1="55.00" y1="645.70" x2="57.90" y2="645.70" stroke="#333" stroke-width="0.9"/>
<text x="51.30" y="666.50" font-size="8.5" text-anchor="end" dominant-baseline="central" fill="#666">0</text>
<line x1="55.00" y1="666.00" x2="57.90" y2="666.00" stroke="#333" stroke-width="0.9"/>
<text x="51.30" y="687.30" font-size="8.5" text-anchor="end" dominant-baseline="central" fill="#666">-0.02</text>
<line x1="55.00" y1="686.80" x2="57.90" y2="686.80" stroke="#333" stroke-width="0.9"/>
<line x1="67.00" y1="710.90" x2="67.00" y2="712.80" stroke="#444" stroke-width="0.8"/>
<text x="67.00" y="719.20" font-size="8.2" text-anchor="middle" dominant-baseline="central" fill="#666">3</text>
<line x1="67.00" y1="624.30" x2="67.00" y2="626.20" stroke="#444" stroke-width="0.8"/>
<line x1="94.60" y1="710.90" x2="94.60" y2="712.80" stroke="#444" stroke-width="0.8"/>
<text x="94.60" y="719.20" font-size="8.2" text-anchor="middle" dominant-baseline="central" fill="#666">4</text>
<line x1="94.60" y1="624.30" x2="94.60" y2="626.20" stroke="#444" stroke-width="0.8"/>
<line x1="121.90" y1="710.90" x2="121.90" y2="712.80" stroke="#444" stroke-width="0.8"/>
<text x="121.90" y="719.20" font-size="8.2" text-anchor="middle" dominant-baseline="central" fill="#666">5</text>
<line x1="121.90" y1="624.30" x2="121.90" y2="626.20" stroke="#444" stroke-width="0.8"/>
<line x1="149.80" y1="710.90" x2="149.80" y2="712.80" stroke="#444" stroke-width="0.8"/>
<text x="149.80" y="719.20" font-size="8.2" text-anchor="middle" dominant-baseline="central" fill="#666">6</text>
<line x1="149.80" y1="624.30" x2="149.80" y2="626.20" stroke="#444" stroke-width="0.8"/>
<text x="115.70" y="731.00" font-size="8.7" text-anchor="middle" dominant-baseline="central" fill="#111">MYC / β-actin</text>
<circle cx="93.70" cy="565.50" r="2.4" fill="#3f5f8f"/>
<circle cx="104.30" cy="568.50" r="2.4" fill="#dd4248"/>
<circle cx="169.50" cy="552.90" r="2.4" fill="#dd4248"/>
<circle cx="63.10" cy="608.10" r="2.4" fill="#dd4248"/>
<circle cx="91.60" cy="620.70" r="2.4" fill="#3f5f8f"/>
<circle cx="93.70" cy="657.40" r="2.4" fill="#3f5f8f"/>
<circle cx="104.00" cy="653.00" r="2.4" fill="#dd4248"/>
<circle cx="169.50" cy="638.40" r="2.4" fill="#dd4248"/>
<circle cx="63.10" cy="697.70" r="2.4" fill="#dd4248"/>
<circle cx="91.60" cy="706.80" r="2.4" fill="#3f5f8f"/>
<text x="170.60" y="606.80" font-size="8.6" text-anchor="end" dominant-baseline="central" fill="#111">rho=0.8</text>
<text x="170.60" y="617.10" font-size="8.6" text-anchor="end" dominant-baseline="central" fill="#111">p=0.133</text>
<text x="170.60" y="690.50" font-size="8.6" text-anchor="end" dominant-baseline="central" fill="#111">rho=0.9</text>
<text x="170.60" y="701.70" font-size="8.6" text-anchor="end" dominant-baseline="central" fill="#111">p=0.083</text>
<text transform="translate(4.40,586.20) rotate(-90)" font-size="8.4" text-anchor="middle" dominant-baseline="central" fill="#111">MYC targets V1</text>
<text transform="translate(14.40,586.20) rotate(-90)" font-size="8.4" text-anchor="middle" dominant-baseline="central" fill="#111">expression score</text>
<text transform="translate(4.40,672.80) rotate(-90)" font-size="8.4" text-anchor="middle" dominant-baseline="central" fill="#111">MYC targets V2</text>
<text transform="translate(14.40,672.80) rotate(-90)" font-size="8.4" text-anchor="middle" dominant-baseline="central" fill="#111">expression score</text>
<circle cx="2.90" cy="721.20" r="1.6" fill="#3f5f8f"/>
<text x="11.70" y="721.40" font-size="8.2" text-anchor="start" dominant-baseline="central" fill="#111">indolent</text>
<circle cx="2.90" cy="730.90" r="1.6" fill="#dd4248"/>
<text x="11.70" y="731.10" font-size="8.2" text-anchor="start" dominant-baseline="central" fill="#111">active</text>
<text x="187.50" y="545.30" font-size="19.5" text-anchor="start" dominant-baseline="alphabetic" fill="#000" font-weight="bold">J</text>
<line x1="282.50" y1="709.80" x2="282.50" y2="711.80" stroke="#444" stroke-width="0.8"/>
<line x1="282.50" y1="625.10" x2="282.50" y2="627.10" stroke="#444" stroke-width="0.8"/>
<text x="282.50" y="718.30" font-size="8.2" text-anchor="middle" dominant-baseline="central" fill="#666">-0.05</text>
<line x1="319.70" y1="709.80" x2="319.70" y2="711.80" stroke="#444" stroke-width="0.8"/>
<line x1="319.70" y1="625.10" x2="319.70" y2="627.10" stroke="#444" stroke-width="0.8"/>
<text x="319.70" y="718.30" font-size="8.2" text-anchor="middle" dominant-baseline="central" fill="#666">0.0</text>
<line x1="356.50" y1="709.80" x2="356.50" y2="711.80" stroke="#444" stroke-width="0.8"/>
<line x1="356.50" y1="625.10" x2="356.50" y2="627.10" stroke="#444" stroke-width="0.8"/>
<text x="356.50" y="718.30" font-size="8.2" text-anchor="middle" dominant-baseline="central" fill="#666">0.05</text>
<line x1="393.00" y1="709.80" x2="393.00" y2="711.80" stroke="#444" stroke-width="0.8"/>
<line x1="393.00" y1="625.10" x2="393.00" y2="627.10" stroke="#444" stroke-width="0.8"/>
<text x="393.00" y="718.30" font-size="8.2" text-anchor="middle" dominant-baseline="central" fill="#666">0.1</text>
<text x="345.90" y="730.70" font-size="8.7" text-anchor="middle" dominant-baseline="central" fill="#111">MYC targets V2 expression score</text>
<text x="254.00" y="580.60" font-size="8.5" text-anchor="end" dominant-baseline="central" fill="#666">0.2</text>
<line x1="257.30" y1="580.70" x2="260.10" y2="580.70" stroke="#333" stroke-width="0.9"/>
<text x="254.00" y="612.80" font-size="8.5" text-anchor="end" dominant-baseline="central" fill="#666">0.0</text>
<line x1="257.30" y1="612.90" x2="260.10" y2="612.90" stroke="#333" stroke-width="0.9"/>
<text x="254.00" y="658.40" font-size="8.5" text-anchor="end" dominant-baseline="central" fill="#666">0.05</text>
<line x1="257.30" y1="658.50" x2="260.10" y2="658.50" stroke="#333" stroke-width="0.9"/>
<text x="254.00" y="686.80" font-size="8.5" text-anchor="end" dominant-baseline="central" fill="#666">0.00</text>
<line x1="257.30" y1="686.90" x2="260.10" y2="686.90" stroke="#333" stroke-width="0.9"/>
<text transform="translate(207.70,587.20) rotate(-90)" font-size="8.65" text-anchor="middle" dominant-baseline="central" fill="#111">oxidative</text>
<text transform="translate(217.60,587.20) rotate(-90)" font-size="8.65" text-anchor="middle" dominant-baseline="central" fill="#111">phosphorylation</text>
<text transform="translate(228.40,587.20) rotate(-90)" font-size="8.65" text-anchor="middle" dominant-baseline="central" fill="#111">expression score</text>
<text transform="translate(217.60,672.60) rotate(-90)" font-size="8.65" text-anchor="middle" dominant-baseline="central" fill="#111">glycolysis</text>
<text transform="translate(228.40,672.60) rotate(-90)" font-size="8.65" text-anchor="middle" dominant-baseline="central" fill="#111">expression score</text>
<clipPath id="jc5"><rect x="260.1" y="549.2" width="171.59999999999997" height="75.89999999999998"/></clipPath>
<g clip-path="url(#jc5)">
<path d="M350,574.5 L372,568.4 L400,561.4 L424.5,553.2 L424.5,572.6 L400,569.6 L372,571.6 L350,575.5 Z" fill="#d3d3d3" stroke="none" stroke-width="0"/>
<circle cx="296.62" cy="579.59" r="2.45" fill="#dd4248"/>
<circle cx="301.21" cy="590.49" r="2.45" fill="#dd4248"/>
<circle cx="359.40" cy="573.89" r="2.45" fill="#dd4248"/>
<circle cx="293.71" cy="584.55" r="2.45" fill="#3f5f8f"/>
<circle cx="292.68" cy="591.28" r="2.45" fill="#dd4248"/>
<circle cx="330.84" cy="581.67" r="2.45" fill="#dd4248"/>
<circle cx="290.16" cy="610.46" r="2.45" fill="#3f5f8f"/>
<circle cx="298.34" cy="607.43" r="2.45" fill="#3f5f8f"/>
<circle cx="353.58" cy="572.92" r="2.45" fill="#dd4248"/>
<circle cx="319.42" cy="581.23" r="2.45" fill="#dd4248"/>
<circle cx="340.84" cy="576.12" r="2.45" fill="#dd4248"/>
<circle cx="304.92" cy="586.90" r="2.45" fill="#3f5f8f"/>
<circle cx="317.34" cy="582.68" r="2.45" fill="#dd4248"/>
<circle cx="309.00" cy="585.35" r="2.45" fill="#dd4248"/>
<circle cx="313.74" cy="588.84" r="2.45" fill="#dd4248"/>
<circle cx="297.50" cy="605.73" r="2.45" fill="#3f5f8f"/>
<circle cx="300.99" cy="593.73" r="2.45" fill="#3f5f8f"/>
<circle cx="335.42" cy="579.39" r="2.45" fill="#dd4248"/>
<circle cx="374.93" cy="567.29" r="2.45" fill="#dd4248"/>
<circle cx="309.64" cy="598.28" r="2.45" fill="#dd4248"/>
<circle cx="313.65" cy="604.91" r="2.45" fill="#3f5f8f"/>
<circle cx="306.26" cy="576.82" r="2.45" fill="#3f5f8f"/>
<circle cx="353.89" cy="568.22" r="2.45" fill="#dd4248"/>
<circle cx="300.66" cy="594.24" r="2.45" fill="#3f5f8f"/>
<circle cx="306.90" cy="589.39" r="2.45" fill="#3f5f8f"/>
<circle cx="353.28" cy="571.53" r="2.45" fill="#dd4248"/>
<circle cx="304.16" cy="582.83" r="2.45" fill="#3f5f8f"/>
<circle cx="326.73" cy="583.72" r="2.45" fill="#dd4248"/>
<circle cx="314.59" cy="595.87" r="2.45" fill="#dd4248"/>
<circle cx="299.69" cy="588.38" r="2.45" fill="#dd4248"/>
<circle cx="305.03" cy="584.91" r="2.45" fill="#dd4248"/>
<circle cx="370.17" cy="574.36" r="2.45" fill="#dd4248"/>
<circle cx="295.52" cy="587.16" r="2.45" fill="#dd4248"/>
<circle cx="299.63" cy="575.83" r="2.45" fill="#dd4248"/>
<circle cx="329.26" cy="578.21" r="2.45" fill="#3f5f8f"/>
<circle cx="298.06" cy="595.42" r="2.45" fill="#3f5f8f"/>
<circle cx="268.46" cy="605.64" r="2.45" fill="#dd4248"/>
<circle cx="275.18" cy="593.44" r="2.45" fill="#3f5f8f"/>
<circle cx="315.72" cy="588.02" r="2.45" fill="#3f5f8f"/>
<circle cx="359.43" cy="566.60" r="2.45" fill="#dd4248"/>
<circle cx="287.10" cy="594.72" r="2.45" fill="#dd4248"/>
<circle cx="306.81" cy="579.62" r="2.45" fill="#dd4248"/>
<circle cx="282.84" cy="588.32" r="2.45" fill="#dd4248"/>
<circle cx="314.69" cy="574.30" r="2.45" fill="#dd4248"/>
<circle cx="375.70" cy="564.52" r="2.45" fill="#dd4248"/>
<circle cx="295.91" cy="601.07" r="2.45" fill="#dd4248"/>
<circle cx="291.45" cy="594.23" r="2.45" fill="#dd4248"/>
<circle cx="288.86" cy="591.77" r="2.45" fill="#dd4248"/>
<circle cx="284.48" cy="589.51" r="2.45" fill="#3f5f8f"/>
<circle cx="279.85" cy="589.06" r="2.45" fill="#3f5f8f"/>
<circle cx="305.87" cy="588.33" r="2.45" fill="#dd4248"/>
<circle cx="294.79" cy="597.38" r="2.45" fill="#3f5f8f"/>
<circle cx="300.68" cy="592.22" r="2.45" fill="#dd4248"/>
<circle cx="301.79" cy="583.51" r="2.45" fill="#3f5f8f"/>
<circle cx="325.04" cy="579.99" r="2.45" fill="#dd4248"/>
<circle cx="291.74" cy="596.68" r="2.45" fill="#dd4248"/>
<circle cx="318.16" cy="588.13" r="2.45" fill="#3f5f8f"/>
<circle cx="287.47" cy="604.62" r="2.45" fill="#dd4248"/>
<circle cx="274.01" cy="608.26" r="2.45" fill="#dd4248"/>
<circle cx="310.66" cy="596.12" r="2.45" fill="#dd4248"/>
<circle cx="376.30" cy="566.31" r="2.45" fill="#dd4248"/>
<circle cx="289.20" cy="603.16" r="2.45" fill="#dd4248"/>
<circle cx="310.15" cy="577.57" r="2.45" fill="#3f5f8f"/>
<circle cx="275.04" cy="602.08" r="2.45" fill="#dd4248"/>
<circle cx="310.32" cy="604.48" r="2.45" fill="#dd4248"/>
<circle cx="289.97" cy="604.06" r="2.45" fill="#dd4248"/>
<circle cx="295.91" cy="601.87" r="2.45" fill="#3f5f8f"/>
<circle cx="296.28" cy="600.59" r="2.45" fill="#dd4248"/>
<circle cx="312.50" cy="590.43" r="2.45" fill="#3f5f8f"/>
<circle cx="270.47" cy="600.41" r="2.45" fill="#dd4248"/>
<circle cx="332.71" cy="580.11" r="2.45" fill="#dd4248"/>
<circle cx="306.64" cy="582.94" r="2.45" fill="#dd4248"/>
<circle cx="287.31" cy="596.14" r="2.45" fill="#dd4248"/>
<circle cx="290.48" cy="588.51" r="2.45" fill="#3f5f8f"/>
<circle cx="295.16" cy="586.53" r="2.45" fill="#dd4248"/>
<circle cx="301.15" cy="596.93" r="2.45" fill="#dd4248"/>
<circle cx="372.06" cy="570.51" r="2.45" fill="#dd4248"/>
<circle cx="300.81" cy="583.68" r="2.45" fill="#dd4248"/>
<circle cx="286.40" cy="590.28" r="2.45" fill="#dd4248"/>
<circle cx="275.19" cy="610.30" r="2.45" fill="#3f5f8f"/>
<circle cx="300.67" cy="589.09" r="2.45" fill="#dd4248"/>
<circle cx="286.76" cy="599.02" r="2.45" fill="#dd4248"/>
<circle cx="332.56" cy="575.66" r="2.45" fill="#dd4248"/>
<circle cx="300.56" cy="597.23" r="2.45" fill="#dd4248"/>
<circle cx="314.37" cy="588.78" r="2.45" fill="#dd4248"/>
<circle cx="325.54" cy="589.09" r="2.45" fill="#dd4248"/>
<circle cx="362.17" cy="572.80" r="2.45" fill="#dd4248"/>
<circle cx="302.15" cy="601.64" r="2.45" fill="#dd4248"/>
<circle cx="306.27" cy="594.36" r="2.45" fill="#dd4248"/>
<circle cx="286.09" cy="591.78" r="2.45" fill="#3f5f8f"/>
<circle cx="304.91" cy="591.10" r="2.45" fill="#3f5f8f"/>
<circle cx="316.36" cy="589.86" r="2.45" fill="#dd4248"/>
<circle cx="308.60" cy="594.89" r="2.45" fill="#3f5f8f"/>
<circle cx="300.32" cy="602.53" r="2.45" fill="#3f5f8f"/>
<circle cx="305.96" cy="573.33" r="2.45" fill="#dd4248"/>
<circle cx="296.79" cy="592.07" r="2.45" fill="#3f5f8f"/>
<circle cx="316.93" cy="582.21" r="2.45" fill="#3f5f8f"/>
<circle cx="297.14" cy="592.34" r="2.45" fill="#dd4248"/>
<circle cx="288.60" cy="605.41" r="2.45" fill="#3f5f8f"/>
<circle cx="309.37" cy="584.08" r="2.45" fill="#dd4248"/>
<circle cx="291.83" cy="588.71" r="2.45" fill="#3f5f8f"/>
<circle cx="321.98" cy="588.48" r="2.45" fill="#dd4248"/>
<circle cx="300.84" cy="592.09" r="2.45" fill="#dd4248"/>
<circle cx="305.35" cy="591.76" r="2.45" fill="#dd4248"/>
<circle cx="290.57" cy="595.76" r="2.45" fill="#dd4248"/>
<circle cx="311.45" cy="584.94" r="2.45" fill="#dd4248"/>
<circle cx="303.34" cy="593.33" r="2.45" fill="#dd4248"/>
<circle cx="282.94" cy="589.76" r="2.45" fill="#dd4248"/>
<circle cx="287.24" cy="597.92" r="2.45" fill="#3f5f8f"/>
<circle cx="300.23" cy="598.26" r="2.45" fill="#dd4248"/>
<circle cx="286.99" cy="580.94" r="2.45" fill="#dd4248"/>
<circle cx="303.87" cy="587.12" r="2.45" fill="#3f5f8f"/>
<circle cx="299.48" cy="586.69" r="2.45" fill="#dd4248"/>
<circle cx="308.49" cy="588.81" r="2.45" fill="#3f5f8f"/>
<circle cx="310.09" cy="589.24" r="2.45" fill="#3f5f8f"/>
<circle cx="344.56" cy="580.81" r="2.45" fill="#dd4248"/>
<circle cx="290.19" cy="587.73" r="2.45" fill="#dd4248"/>
<circle cx="291.91" cy="589.21" r="2.45" fill="#dd4248"/>
<circle cx="303.21" cy="594.99" r="2.45" fill="#3f5f8f"/>
<circle cx="311.39" cy="591.60" r="2.45" fill="#dd4248"/>
<circle cx="291.62" cy="602.54" r="2.45" fill="#3f5f8f"/>
<circle cx="296.21" cy="588.69" r="2.45" fill="#3f5f8f"/>
<circle cx="318.12" cy="581.87" r="2.45" fill="#dd4248"/>
<circle cx="325.33" cy="589.29" r="2.45" fill="#dd4248"/>
<circle cx="307.73" cy="567.59" r="2.45" fill="#dd4248"/>
<circle cx="284.42" cy="599.74" r="2.45" fill="#dd4248"/>
<circle cx="301.21" cy="593.64" r="2.45" fill="#3f5f8f"/>
<circle cx="296.04" cy="591.03" r="2.45" fill="#3f5f8f"/>
<circle cx="301.18" cy="590.52" r="2.45" fill="#3f5f8f"/>
<circle cx="334.51" cy="580.83" r="2.45" fill="#dd4248"/>
<circle cx="291.82" cy="594.05" r="2.45" fill="#3f5f8f"/>
<circle cx="289.19" cy="598.86" r="2.45" fill="#3f5f8f"/>
<circle cx="289.84" cy="585.66" r="2.45" fill="#3f5f8f"/>
<circle cx="299.65" cy="589.33" r="2.45" fill="#3f5f8f"/>
<circle cx="299.21" cy="595.67" r="2.45" fill="#3f5f8f"/>
<circle cx="301.89" cy="577.38" r="2.45" fill="#3f5f8f"/>
<circle cx="307.78" cy="591.97" r="2.45" fill="#3f5f8f"/>
<circle cx="288.04" cy="593.42" r="2.45" fill="#3f5f8f"/>
<circle cx="307.56" cy="590.76" r="2.45" fill="#3f5f8f"/>
<circle cx="310.76" cy="592.77" r="2.45" fill="#3f5f8f"/>
<circle cx="268.04" cy="598.51" r="2.45" fill="#dd4248"/>
<circle cx="283.55" cy="594.02" r="2.45" fill="#dd4248"/>
<circle cx="321.23" cy="581.32" r="2.45" fill="#dd4248"/>
<circle cx="303.60" cy="583.75" r="2.45" fill="#3f5f8f"/>
<circle cx="303.68" cy="595.66" r="2.45" fill="#dd4248"/>
<circle cx="321.48" cy="589.58" r="2.45" fill="#dd4248"/>
<circle cx="305.52" cy="591.17" r="2.45" fill="#3f5f8f"/>
<circle cx="317.60" cy="582.75" r="2.45" fill="#3f5f8f"/>
<circle cx="289.28" cy="600.70" r="2.45" fill="#3f5f8f"/>
<circle cx="309.23" cy="578.02" r="2.45" fill="#3f5f8f"/>
<circle cx="309.21" cy="599.11" r="2.45" fill="#dd4248"/>
<circle cx="367.12" cy="573.28" r="2.45" fill="#dd4248"/>
<circle cx="306.86" cy="582.09" r="2.45" fill="#dd4248"/>
<circle cx="353.23" cy="575.52" r="2.45" fill="#dd4248"/>
<circle cx="319.90" cy="593.56" r="2.45" fill="#dd4248"/>
<circle cx="301.84" cy="590.87" r="2.45" fill="#dd4248"/>
<circle cx="309.04" cy="583.72" r="2.45" fill="#3f5f8f"/>
<circle cx="303.83" cy="599.68" r="2.45" fill="#3f5f8f"/>
<circle cx="298.74" cy="599.13" r="2.45" fill="#3f5f8f"/>
<circle cx="369.53" cy="573.45" r="2.45" fill="#dd4248"/>
<circle cx="281.15" cy="602.94" r="2.45" fill="#3f5f8f"/>
<circle cx="282.83" cy="607.68" r="2.45" fill="#dd4248"/>
<circle cx="311.87" cy="589.79" r="2.45" fill="#dd4248"/>
<circle cx="285.30" cy="587.40" r="2.45" fill="#3f5f8f"/>
<circle cx="279.19" cy="589.52" r="2.45" fill="#3f5f8f"/>
<circle cx="296.53" cy="592.24" r="2.45" fill="#3f5f8f"/>
<circle cx="301.20" cy="579.79" r="2.45" fill="#3f5f8f"/>
<circle cx="368.22" cy="571.50" r="2.45" fill="#dd4248"/>
<circle cx="289.05" cy="587.51" r="2.45" fill="#dd4248"/>
<circle cx="279.17" cy="593.20" r="2.45" fill="#dd4248"/>
<circle cx="303.66" cy="592.05" r="2.45" fill="#3f5f8f"/>
<circle cx="299.43" cy="580.07" r="2.45" fill="#3f5f8f"/>
<circle cx="339.55" cy="577.66" r="2.45" fill="#dd4248"/>
<circle cx="292.33" cy="609.89" r="2.45" fill="#dd4248"/>
<circle cx="289.44" cy="594.79" r="2.45" fill="#3f5f8f"/>
<circle cx="277.44" cy="604.58" r="2.45" fill="#dd4248"/>
<circle cx="291.27" cy="594.41" r="2.45" fill="#3f5f8f"/>
<circle cx="298.72" cy="582.97" r="2.45" fill="#dd4248"/>
<circle cx="271.62" cy="599.83" r="2.45" fill="#dd4248"/>
<circle cx="302.71" cy="589.28" r="2.45" fill="#dd4248"/>
<circle cx="283.83" cy="595.55" r="2.45" fill="#dd4248"/>
<circle cx="333.87" cy="582.73" r="2.45" fill="#dd4248"/>
<circle cx="298.86" cy="594.78" r="2.45" fill="#dd4248"/>
<circle cx="315.50" cy="578.31" r="2.45" fill="#dd4248"/>
<circle cx="266.00" cy="601.92" r="2.45" fill="#3f5f8f"/>
<circle cx="267.16" cy="592.36" r="2.45" fill="#3f5f8f"/>
<circle cx="312.42" cy="594.08" r="2.45" fill="#dd4248"/>
<circle cx="305.39" cy="599.36" r="2.45" fill="#dd4248"/>
<circle cx="297.29" cy="590.04" r="2.45" fill="#dd4248"/>
<circle cx="310.66" cy="586.51" r="2.45" fill="#dd4248"/>
<circle cx="307.69" cy="586.82" r="2.45" fill="#dd4248"/>
<circle cx="291.16" cy="595.41" r="2.45" fill="#3f5f8f"/>
<circle cx="305.19" cy="592.42" r="2.45" fill="#dd4248"/>
<circle cx="299.24" cy="579.76" r="2.45" fill="#dd4248"/>
<circle cx="290.17" cy="578.69" r="2.45" fill="#dd4248"/>
<circle cx="304.84" cy="589.40" r="2.45" fill="#3f5f8f"/>
<circle cx="301.93" cy="598.10" r="2.45" fill="#dd4248"/>
<circle cx="297.72" cy="589.39" r="2.45" fill="#dd4248"/>
<circle cx="292.69" cy="597.00" r="2.45" fill="#dd4248"/>
<circle cx="290.90" cy="586.97" r="2.45" fill="#dd4248"/>
<circle cx="328.83" cy="582.20" r="2.45" fill="#3f5f8f"/>
<circle cx="274.07" cy="594.60" r="2.45" fill="#dd4248"/>
<circle cx="345.25" cy="576.73" r="2.45" fill="#dd4248"/>
<circle cx="289.33" cy="583.07" r="2.45" fill="#dd4248"/>
<circle cx="282.87" cy="610.40" r="2.45" fill="#dd4248"/>
<circle cx="288.29" cy="598.59" r="2.45" fill="#dd4248"/>
<circle cx="297.11" cy="596.09" r="2.45" fill="#dd4248"/>
<circle cx="353.69" cy="567.04" r="2.45" fill="#dd4248"/>
<circle cx="320.91" cy="585.12" r="2.45" fill="#dd4248"/>
<circle cx="296.59" cy="598.61" r="2.45" fill="#dd4248"/>
<circle cx="299.17" cy="589.55" r="2.45" fill="#3f5f8f"/>
<circle cx="348.46" cy="575.17" r="2.45" fill="#dd4248"/>
<circle cx="291.20" cy="613.24" r="2.45" fill="#dd4248"/>
<circle cx="312.16" cy="590.21" r="2.45" fill="#dd4248"/>
<circle cx="271.07" cy="593.81" r="2.45" fill="#dd4248"/>
<circle cx="301.21" cy="591.71" r="2.45" fill="#dd4248"/>
<circle cx="317.73" cy="575.98" r="2.45" fill="#dd4248"/>
<circle cx="323.20" cy="583.89" r="2.45" fill="#dd4248"/>
<circle cx="301.03" cy="583.70" r="2.45" fill="#dd4248"/>
<circle cx="336.48" cy="576.26" r="2.45" fill="#dd4248"/>
<circle cx="303.65" cy="588.62" r="2.45" fill="#3f5f8f"/>
<circle cx="291.34" cy="601.41" r="2.45" fill="#dd4248"/>
<circle cx="335.42" cy="580.99" r="2.45" fill="#dd4248"/>
<circle cx="317.66" cy="583.49" r="2.45" fill="#3f5f8f"/>
<circle cx="328.98" cy="577.47" r="2.45" fill="#3f5f8f"/>
<circle cx="287.34" cy="598.84" r="2.45" fill="#dd4248"/>
<circle cx="299.36" cy="587.70" r="2.45" fill="#dd4248"/>
<circle cx="362.21" cy="573.37" r="2.45" fill="#dd4248"/>
<circle cx="301.90" cy="585.32" r="2.45" fill="#dd4248"/>
<circle cx="337.77" cy="581.69" r="2.45" fill="#dd4248"/>
<circle cx="274.66" cy="597.89" r="2.45" fill="#3f5f8f"/>
<circle cx="297.47" cy="591.69" r="2.45" fill="#dd4248"/>
<circle cx="277.41" cy="599.92" r="2.45" fill="#dd4248"/>
<circle cx="293.81" cy="593.94" r="2.45" fill="#3f5f8f"/>
<circle cx="310.50" cy="589.15" r="2.45" fill="#dd4248"/>
<circle cx="310.85" cy="584.91" r="2.45" fill="#dd4248"/>
<circle cx="331.86" cy="577.11" r="2.45" fill="#dd4248"/>
<circle cx="315.39" cy="601.76" r="2.45" fill="#3f5f8f"/>
<circle cx="296.41" cy="583.84" r="2.45" fill="#3f5f8f"/>
<circle cx="340.86" cy="570.81" r="2.45" fill="#dd4248"/>
<circle cx="288.99" cy="586.01" r="2.45" fill="#3f5f8f"/>
<circle cx="298.70" cy="595.17" r="2.45" fill="#3f5f8f"/>
<circle cx="300.36" cy="597.36" r="2.45" fill="#3f5f8f"/>
<circle cx="295.62" cy="592.96" r="2.45" fill="#dd4248"/>
<circle cx="286.32" cy="588.58" r="2.45" fill="#3f5f8f"/>
<circle cx="311.60" cy="593.70" r="2.45" fill="#dd4248"/>
<circle cx="286.71" cy="598.11" r="2.45" fill="#dd4248"/>
<circle cx="301.72" cy="593.40" r="2.45" fill="#dd4248"/>
<circle cx="298.27" cy="593.80" r="2.45" fill="#dd4248"/>
<circle cx="294.91" cy="591.69" r="2.45" fill="#dd4248"/>
<circle cx="277.72" cy="603.52" r="2.45" fill="#3f5f8f"/>
<circle cx="295.71" cy="595.59" r="2.45" fill="#dd4248"/>
<circle cx="301.07" cy="600.72" r="2.45" fill="#3f5f8f"/>
<circle cx="282.97" cy="600.03" r="2.45" fill="#dd4248"/>
<circle cx="291.68" cy="594.59" r="2.45" fill="#dd4248"/>
<circle cx="298.78" cy="598.99" r="2.45" fill="#3f5f8f"/>
<circle cx="288.30" cy="594.42" r="2.45" fill="#3f5f8f"/>
<circle cx="334.20" cy="578.86" r="2.45" fill="#dd4248"/>
<circle cx="302.86" cy="588.09" r="2.45" fill="#3f5f8f"/>
<circle cx="290.46" cy="592.02" r="2.45" fill="#dd4248"/>
<circle cx="332.69" cy="576.54" r="2.45" fill="#3f5f8f"/>
<circle cx="266.62" cy="600.97" r="2.45" fill="#dd4248"/>
<circle cx="275.01" cy="607.53" r="2.45" fill="#dd4248"/>
<circle cx="307.05" cy="593.08" r="2.45" fill="#3f5f8f"/>
<circle cx="339.02" cy="574.40" r="2.45" fill="#dd4248"/>
<circle cx="282.41" cy="598.99" r="2.45" fill="#3f5f8f"/>
<circle cx="284.52" cy="602.85" r="2.45" fill="#3f5f8f"/>
<circle cx="345.36" cy="572.07" r="2.45" fill="#dd4248"/>
<circle cx="296.97" cy="600.47" r="2.45" fill="#3f5f8f"/>
<circle cx="319.90" cy="589.91" r="2.45" fill="#dd4248"/>
<circle cx="309.73" cy="591.00" r="2.45" fill="#3f5f8f"/>
<circle cx="366.90" cy="574.47" r="2.45" fill="#dd4248"/>
<circle cx="287.19" cy="596.60" r="2.45" fill="#dd4248"/>
<circle cx="301.46" cy="598.26" r="2.45" fill="#dd4248"/>
<circle cx="349.70" cy="577.78" r="2.45" fill="#dd4248"/>
<circle cx="311.99" cy="593.97" r="2.45" fill="#3f5f8f"/>
<circle cx="353.76" cy="570.91" r="2.45" fill="#dd4248"/>
<circle cx="347.68" cy="576.70" r="2.45" fill="#dd4248"/>
<circle cx="310.81" cy="584.59" r="2.45" fill="#dd4248"/>
<circle cx="342.26" cy="578.90" r="2.45" fill="#dd4248"/>
<circle cx="280.92" cy="606.55" r="2.45" fill="#dd4248"/>
<circle cx="355.42" cy="571.62" r="2.45" fill="#dd4248"/>
<circle cx="297.58" cy="586.81" r="2.45" fill="#dd4248"/>
<circle cx="291.63" cy="592.27" r="2.45" fill="#3f5f8f"/>
<circle cx="297.08" cy="589.30" r="2.45" fill="#dd4248"/>
<circle cx="301.22" cy="594.17" r="2.45" fill="#dd4248"/>
<circle cx="303.59" cy="587.07" r="2.45" fill="#dd4248"/>
<circle cx="288.00" cy="593.29" r="2.45" fill="#3f5f8f"/>
<circle cx="296.59" cy="589.17" r="2.45" fill="#dd4248"/>
<circle cx="280.04" cy="593.28" r="2.45" fill="#dd4248"/>
<circle cx="308.68" cy="585.94" r="2.45" fill="#3f5f8f"/>
<circle cx="308.51" cy="594.76" r="2.45" fill="#dd4248"/>
<circle cx="331.80" cy="577.11" r="2.45" fill="#dd4248"/>
<circle cx="277.13" cy="606.40" r="2.45" fill="#dd4248"/>
<circle cx="293.50" cy="581.49" r="2.45" fill="#dd4248"/>
<circle cx="311.65" cy="586.92" r="2.45" fill="#dd4248"/>
<circle cx="280.32" cy="600.26" r="2.45" fill="#dd4248"/>
<circle cx="289.53" cy="598.76" r="2.45" fill="#dd4248"/>
<circle cx="273.07" cy="593.61" r="2.45" fill="#3f5f8f"/>
<circle cx="294.24" cy="608.28" r="2.45" fill="#3f5f8f"/>
<circle cx="293.29" cy="589.82" r="2.45" fill="#dd4248"/>
<circle cx="285.98" cy="596.62" r="2.45" fill="#dd4248"/>
<circle cx="300.11" cy="591.34" r="2.45" fill="#dd4248"/>
<circle cx="280.26" cy="598.36" r="2.45" fill="#dd4248"/>
<circle cx="283.57" cy="586.94" r="2.45" fill="#3f5f8f"/>
<circle cx="305.80" cy="592.13" r="2.45" fill="#3f5f8f"/>
<circle cx="290.86" cy="595.37" r="2.45" fill="#dd4248"/>
<circle cx="290.92" cy="597.78" r="2.45" fill="#dd4248"/>
<circle cx="281.87" cy="601.97" r="2.45" fill="#dd4248"/>
<circle cx="273.41" cy="592.85" r="2.45" fill="#dd4248"/>
<circle cx="282.37" cy="613.62" r="2.45" fill="#dd4248"/>
<circle cx="301.96" cy="597.36" r="2.45" fill="#3f5f8f"/>
<circle cx="303.51" cy="595.07" r="2.45" fill="#3f5f8f"/>
<circle cx="303.62" cy="586.81" r="2.45" fill="#3f5f8f"/>
<circle cx="321.05" cy="600.02" r="2.45" fill="#dd4248"/>
<circle cx="288.82" cy="589.03" r="2.45" fill="#dd4248"/>
<circle cx="307.44" cy="576.99" r="2.45" fill="#dd4248"/>
<circle cx="305.04" cy="584.89" r="2.45" fill="#dd4248"/>
<circle cx="367.03" cy="564.97" r="2.45" fill="#dd4248"/>
<circle cx="281.07" cy="585.68" r="2.45" fill="#dd4248"/>
<circle cx="302.86" cy="597.03" r="2.45" fill="#3f5f8f"/>
<circle cx="299.19" cy="587.14" r="2.45" fill="#dd4248"/>
<circle cx="293.56" cy="596.54" r="2.45" fill="#dd4248"/>
<circle cx="305.65" cy="594.75" r="2.45" fill="#3f5f8f"/>
<circle cx="291.70" cy="596.31" r="2.45" fill="#3f5f8f"/>
<circle cx="325.43" cy="581.23" r="2.45" fill="#3f5f8f"/>
<circle cx="329.23" cy="581.94" r="2.45" fill="#3f5f8f"/>
<circle cx="424.50" cy="566.50" r="2.45" fill="#dd4248"/>
<circle cx="375.90" cy="564.70" r="2.45" fill="#dd4248"/>
<circle cx="287.00" cy="614.80" r="2.45" fill="#dd4248"/>
<circle cx="297.50" cy="616.40" r="2.45" fill="#dd4248"/>
<circle cx="270.00" cy="622.50" r="2.45" fill="#dd4248"/>
<circle cx="274.70" cy="620.50" r="2.45" fill="#dd4248"/>
<path d="M269.30,603.50 C271.75,602.50 279.07,599.40 284.00,597.50 C288.93,595.60 292.95,594.13 298.90,592.10 C304.85,590.07 313.38,587.52 319.70,585.30 C326.02,583.08 330.78,580.83 336.80,578.80 C342.82,576.77 349.47,574.68 355.80,573.10 C362.13,571.52 367.85,570.57 374.80,569.30 C381.75,568.03 389.42,566.62 397.50,565.50 C405.58,564.38 419.00,563.08 423.30,562.60" fill="none" stroke="#000" stroke-width="3.2" stroke-linecap="round"/>
</g>
<rect x="260.10" y="549.20" width="171.60" height="75.90" fill="none" stroke="#222" stroke-width="1"/>
<clipPath id="jc9"><rect x="260.1" y="635.0" width="171.59999999999997" height="74.79999999999995"/></clipPath>
<g clip-path="url(#jc9)">
<path d="M350,672.3 L372,664.3 L400,654.3 L424.5,639.6 L424.5,658 L400,662.8 L372,667.5 L350,674.3 Z" fill="#d3d3d3" stroke="none" stroke-width="0"/>
<circle cx="292.27" cy="695.46" r="2.45" fill="#dd4248"/>
<circle cx="297.44" cy="683.25" r="2.45" fill="#3f5f8f"/>
<circle cx="291.05" cy="691.70" r="2.45" fill="#dd4248"/>
<circle cx="282.25" cy="697.41" r="2.45" fill="#dd4248"/>
<circle cx="356.29" cy="672.10" r="2.45" fill="#dd4248"/>
<circle cx="297.83" cy="688.14" r="2.45" fill="#3f5f8f"/>
<circle cx="295.61" cy="685.59" r="2.45" fill="#3f5f8f"/>
<circle cx="301.04" cy="694.77" r="2.45" fill="#dd4248"/>
<circle cx="321.32" cy="677.23" r="2.45" fill="#3f5f8f"/>
<circle cx="294.73" cy="692.21" r="2.45" fill="#dd4248"/>
<circle cx="330.94" cy="679.87" r="2.45" fill="#dd4248"/>
<circle cx="335.76" cy="677.97" r="2.45" fill="#dd4248"/>
<circle cx="295.27" cy="691.65" r="2.45" fill="#3f5f8f"/>
<circle cx="311.77" cy="684.79" r="2.45" fill="#3f5f8f"/>
<circle cx="314.45" cy="691.55" r="2.45" fill="#3f5f8f"/>
<circle cx="302.84" cy="689.15" r="2.45" fill="#dd4248"/>
<circle cx="305.01" cy="693.03" r="2.45" fill="#dd4248"/>
<circle cx="331.43" cy="678.64" r="2.45" fill="#3f5f8f"/>
<circle cx="283.05" cy="703.51" r="2.45" fill="#dd4248"/>
<circle cx="309.85" cy="691.05" r="2.45" fill="#dd4248"/>
<circle cx="283.49" cy="698.43" r="2.45" fill="#dd4248"/>
<circle cx="324.71" cy="685.63" r="2.45" fill="#3f5f8f"/>
<circle cx="301.70" cy="696.24" r="2.45" fill="#3f5f8f"/>
<circle cx="293.19" cy="690.72" r="2.45" fill="#dd4248"/>
<circle cx="303.22" cy="678.89" r="2.45" fill="#dd4248"/>
<circle cx="298.27" cy="700.56" r="2.45" fill="#dd4248"/>
<circle cx="312.80" cy="686.20" r="2.45" fill="#3f5f8f"/>
<circle cx="282.83" cy="703.43" r="2.45" fill="#3f5f8f"/>
<circle cx="297.73" cy="692.89" r="2.45" fill="#dd4248"/>
<circle cx="339.43" cy="673.59" r="2.45" fill="#dd4248"/>
<circle cx="307.52" cy="690.21" r="2.45" fill="#3f5f8f"/>
<circle cx="311.72" cy="686.61" r="2.45" fill="#3f5f8f"/>
<circle cx="302.15" cy="691.75" r="2.45" fill="#dd4248"/>
<circle cx="313.06" cy="690.13" r="2.45" fill="#dd4248"/>
<circle cx="274.76" cy="709.13" r="2.45" fill="#3f5f8f"/>
<circle cx="302.20" cy="677.55" r="2.45" fill="#dd4248"/>
<circle cx="315.56" cy="689.08" r="2.45" fill="#3f5f8f"/>
<circle cx="320.53" cy="690.80" r="2.45" fill="#3f5f8f"/>
<circle cx="305.44" cy="695.03" r="2.45" fill="#dd4248"/>
<circle cx="306.00" cy="695.09" r="2.45" fill="#dd4248"/>
<circle cx="301.38" cy="689.45" r="2.45" fill="#dd4248"/>
<circle cx="353.85" cy="666.53" r="2.45" fill="#dd4248"/>
<circle cx="295.26" cy="687.26" r="2.45" fill="#3f5f8f"/>
<circle cx="283.34" cy="696.15" r="2.45" fill="#dd4248"/>
<circle cx="291.12" cy="685.05" r="2.45" fill="#3f5f8f"/>
<circle cx="299.31" cy="681.80" r="2.45" fill="#3f5f8f"/>
<circle cx="320.04" cy="684.58" r="2.45" fill="#dd4248"/>
<circle cx="277.16" cy="692.80" r="2.45" fill="#dd4248"/>
<circle cx="286.17" cy="699.05" r="2.45" fill="#dd4248"/>
<circle cx="302.08" cy="694.98" r="2.45" fill="#dd4248"/>
<circle cx="303.57" cy="699.75" r="2.45" fill="#3f5f8f"/>
<circle cx="302.21" cy="704.67" r="2.45" fill="#dd4248"/>
<circle cx="377.27" cy="663.72" r="2.45" fill="#dd4248"/>
<circle cx="291.67" cy="696.89" r="2.45" fill="#dd4248"/>
<circle cx="299.31" cy="693.27" r="2.45" fill="#3f5f8f"/>
<circle cx="376.74" cy="659.02" r="2.45" fill="#dd4248"/>
<circle cx="315.72" cy="681.02" r="2.45" fill="#3f5f8f"/>
<circle cx="313.57" cy="683.44" r="2.45" fill="#dd4248"/>
<circle cx="326.18" cy="683.53" r="2.45" fill="#3f5f8f"/>
<circle cx="308.67" cy="690.05" r="2.45" fill="#dd4248"/>
<circle cx="298.95" cy="692.54" r="2.45" fill="#3f5f8f"/>
<circle cx="310.70" cy="672.46" r="2.45" fill="#dd4248"/>
<circle cx="374.33" cy="670.15" r="2.45" fill="#dd4248"/>
<circle cx="274.40" cy="699.03" r="2.45" fill="#dd4248"/>
<circle cx="308.30" cy="681.97" r="2.45" fill="#3f5f8f"/>
<circle cx="321.44" cy="684.18" r="2.45" fill="#dd4248"/>
<circle cx="314.47" cy="683.59" r="2.45" fill="#dd4248"/>
<circle cx="301.55" cy="693.54" r="2.45" fill="#3f5f8f"/>
<circle cx="314.50" cy="685.39" r="2.45" fill="#dd4248"/>
<circle cx="291.14" cy="685.82" r="2.45" fill="#dd4248"/>
<circle cx="363.88" cy="669.06" r="2.45" fill="#dd4248"/>
<circle cx="296.49" cy="692.46" r="2.45" fill="#dd4248"/>
<circle cx="306.89" cy="684.87" r="2.45" fill="#dd4248"/>
<circle cx="317.36" cy="691.95" r="2.45" fill="#3f5f8f"/>
<circle cx="299.99" cy="690.65" r="2.45" fill="#dd4248"/>
<circle cx="303.31" cy="692.45" r="2.45" fill="#3f5f8f"/>
<circle cx="319.70" cy="685.49" r="2.45" fill="#3f5f8f"/>
<circle cx="351.83" cy="675.82" r="2.45" fill="#dd4248"/>
<circle cx="315.21" cy="684.44" r="2.45" fill="#3f5f8f"/>
<circle cx="311.37" cy="693.14" r="2.45" fill="#3f5f8f"/>
<circle cx="283.65" cy="703.32" r="2.45" fill="#dd4248"/>
<circle cx="300.16" cy="698.66" r="2.45" fill="#3f5f8f"/>
<circle cx="284.29" cy="687.63" r="2.45" fill="#3f5f8f"/>
<circle cx="304.80" cy="689.19" r="2.45" fill="#dd4248"/>
<circle cx="284.14" cy="697.58" r="2.45" fill="#3f5f8f"/>
<circle cx="296.51" cy="690.13" r="2.45" fill="#3f5f8f"/>
<circle cx="292.09" cy="680.72" r="2.45" fill="#3f5f8f"/>
<circle cx="289.34" cy="691.80" r="2.45" fill="#dd4248"/>
<circle cx="374.62" cy="660.31" r="2.45" fill="#dd4248"/>
<circle cx="323.29" cy="688.85" r="2.45" fill="#3f5f8f"/>
<circle cx="271.90" cy="690.65" r="2.45" fill="#dd4248"/>
<circle cx="376.10" cy="666.61" r="2.45" fill="#dd4248"/>
<circle cx="305.14" cy="692.96" r="2.45" fill="#dd4248"/>
<circle cx="353.61" cy="670.81" r="2.45" fill="#dd4248"/>
<circle cx="334.19" cy="686.84" r="2.45" fill="#dd4248"/>
<circle cx="308.22" cy="690.95" r="2.45" fill="#3f5f8f"/>
<circle cx="287.35" cy="701.02" r="2.45" fill="#dd4248"/>
<circle cx="301.44" cy="691.67" r="2.45" fill="#3f5f8f"/>
<circle cx="297.03" cy="687.66" r="2.45" fill="#dd4248"/>
<circle cx="293.49" cy="682.51" r="2.45" fill="#dd4248"/>
<circle cx="333.06" cy="676.84" r="2.45" fill="#3f5f8f"/>
<circle cx="346.03" cy="673.21" r="2.45" fill="#dd4248"/>
<circle cx="314.77" cy="685.33" r="2.45" fill="#dd4248"/>
<circle cx="292.96" cy="692.65" r="2.45" fill="#dd4248"/>
<circle cx="318.65" cy="690.00" r="2.45" fill="#3f5f8f"/>
<circle cx="298.87" cy="686.10" r="2.45" fill="#3f5f8f"/>
<circle cx="325.14" cy="682.37" r="2.45" fill="#3f5f8f"/>
<circle cx="299.70" cy="694.05" r="2.45" fill="#dd4248"/>
<circle cx="317.20" cy="683.02" r="2.45" fill="#dd4248"/>
<circle cx="287.87" cy="704.56" r="2.45" fill="#3f5f8f"/>
<circle cx="302.52" cy="701.14" r="2.45" fill="#dd4248"/>
<circle cx="301.49" cy="681.18" r="2.45" fill="#3f5f8f"/>
<circle cx="289.69" cy="690.46" r="2.45" fill="#3f5f8f"/>
<circle cx="306.11" cy="684.27" r="2.45" fill="#dd4248"/>
<circle cx="343.49" cy="667.25" r="2.45" fill="#dd4248"/>
<circle cx="341.59" cy="675.41" r="2.45" fill="#dd4248"/>
<circle cx="303.46" cy="682.46" r="2.45" fill="#dd4248"/>
<circle cx="318.33" cy="678.53" r="2.45" fill="#dd4248"/>
<circle cx="297.01" cy="697.82" r="2.45" fill="#3f5f8f"/>
<circle cx="346.61" cy="676.27" r="2.45" fill="#dd4248"/>
<circle cx="295.25" cy="688.07" r="2.45" fill="#3f5f8f"/>
<circle cx="285.60" cy="684.61" r="2.45" fill="#dd4248"/>
<circle cx="376.95" cy="669.13" r="2.45" fill="#dd4248"/>
<circle cx="297.51" cy="691.78" r="2.45" fill="#3f5f8f"/>
<circle cx="304.25" cy="697.22" r="2.45" fill="#3f5f8f"/>
<circle cx="307.45" cy="687.95" r="2.45" fill="#dd4248"/>
<circle cx="293.65" cy="689.71" r="2.45" fill="#dd4248"/>
<circle cx="335.50" cy="673.75" r="2.45" fill="#dd4248"/>
<circle cx="301.72" cy="686.69" r="2.45" fill="#dd4248"/>
<circle cx="287.74" cy="687.10" r="2.45" fill="#dd4248"/>
<circle cx="302.57" cy="694.93" r="2.45" fill="#dd4248"/>
<circle cx="306.13" cy="695.08" r="2.45" fill="#dd4248"/>
<circle cx="305.69" cy="694.16" r="2.45" fill="#dd4248"/>
<circle cx="315.49" cy="694.21" r="2.45" fill="#3f5f8f"/>
<circle cx="290.71" cy="693.01" r="2.45" fill="#dd4248"/>
<circle cx="292.16" cy="693.51" r="2.45" fill="#3f5f8f"/>
<circle cx="288.89" cy="687.99" r="2.45" fill="#dd4248"/>
<circle cx="296.88" cy="684.11" r="2.45" fill="#3f5f8f"/>
<circle cx="361.88" cy="672.83" r="2.45" fill="#dd4248"/>
<circle cx="307.78" cy="685.01" r="2.45" fill="#dd4248"/>
<circle cx="375.91" cy="663.36" r="2.45" fill="#dd4248"/>
<circle cx="324.68" cy="690.01" r="2.45" fill="#dd4248"/>
<circle cx="304.55" cy="687.62" r="2.45" fill="#3f5f8f"/>
<circle cx="299.30" cy="696.22" r="2.45" fill="#3f5f8f"/>
<circle cx="284.85" cy="699.34" r="2.45" fill="#dd4248"/>
<circle cx="288.80" cy="703.70" r="2.45" fill="#3f5f8f"/>
<circle cx="306.05" cy="691.26" r="2.45" fill="#dd4248"/>
<circle cx="294.36" cy="692.26" r="2.45" fill="#3f5f8f"/>
<circle cx="312.47" cy="697.39" r="2.45" fill="#dd4248"/>
<circle cx="293.91" cy="684.51" r="2.45" fill="#3f5f8f"/>
<circle cx="310.97" cy="686.42" r="2.45" fill="#dd4248"/>
<circle cx="287.14" cy="695.64" r="2.45" fill="#dd4248"/>
<circle cx="300.85" cy="681.96" r="2.45" fill="#dd4248"/>
<circle cx="298.01" cy="680.30" r="2.45" fill="#3f5f8f"/>
<circle cx="290.15" cy="695.99" r="2.45" fill="#dd4248"/>
<circle cx="284.83" cy="700.96" r="2.45" fill="#dd4248"/>
<circle cx="305.25" cy="690.36" r="2.45" fill="#dd4248"/>
<circle cx="358.18" cy="673.61" r="2.45" fill="#dd4248"/>
<circle cx="300.97" cy="691.87" r="2.45" fill="#dd4248"/>
<circle cx="312.78" cy="696.96" r="2.45" fill="#3f5f8f"/>
<circle cx="316.34" cy="696.99" r="2.45" fill="#dd4248"/>
<circle cx="327.40" cy="686.83" r="2.45" fill="#3f5f8f"/>
<circle cx="290.65" cy="686.32" r="2.45" fill="#dd4248"/>
<circle cx="293.79" cy="701.00" r="2.45" fill="#3f5f8f"/>
<circle cx="297.08" cy="696.95" r="2.45" fill="#dd4248"/>
<circle cx="284.76" cy="689.22" r="2.45" fill="#3f5f8f"/>
<circle cx="315.56" cy="679.85" r="2.45" fill="#dd4248"/>
<circle cx="309.34" cy="686.63" r="2.45" fill="#3f5f8f"/>
<circle cx="308.91" cy="688.88" r="2.45" fill="#3f5f8f"/>
<circle cx="296.65" cy="691.78" r="2.45" fill="#dd4248"/>
<circle cx="296.87" cy="689.39" r="2.45" fill="#dd4248"/>
<circle cx="305.41" cy="681.02" r="2.45" fill="#dd4248"/>
<circle cx="308.22" cy="688.02" r="2.45" fill="#dd4248"/>
<circle cx="306.69" cy="691.18" r="2.45" fill="#3f5f8f"/>
<circle cx="305.79" cy="696.22" r="2.45" fill="#3f5f8f"/>
<circle cx="302.23" cy="682.41" r="2.45" fill="#3f5f8f"/>
<circle cx="300.68" cy="691.48" r="2.45" fill="#dd4248"/>
<circle cx="300.21" cy="680.99" r="2.45" fill="#dd4248"/>
<circle cx="355.06" cy="672.94" r="2.45" fill="#dd4248"/>
<circle cx="315.71" cy="685.48" r="2.45" fill="#3f5f8f"/>
<circle cx="302.74" cy="688.69" r="2.45" fill="#dd4248"/>
<circle cx="275.23" cy="699.63" r="2.45" fill="#dd4248"/>
<circle cx="281.80" cy="703.88" r="2.45" fill="#dd4248"/>
<circle cx="297.69" cy="684.57" r="2.45" fill="#dd4248"/>
<circle cx="303.44" cy="685.28" r="2.45" fill="#dd4248"/>
<circle cx="316.03" cy="687.76" r="2.45" fill="#3f5f8f"/>
<circle cx="292.87" cy="696.41" r="2.45" fill="#dd4248"/>
<circle cx="376.35" cy="665.55" r="2.45" fill="#dd4248"/>
<circle cx="306.64" cy="682.53" r="2.45" fill="#3f5f8f"/>
<circle cx="302.10" cy="690.59" r="2.45" fill="#3f5f8f"/>
<circle cx="293.29" cy="691.50" r="2.45" fill="#dd4248"/>
<circle cx="346.98" cy="668.79" r="2.45" fill="#dd4248"/>
<circle cx="321.32" cy="689.30" r="2.45" fill="#dd4248"/>
<circle cx="320.08" cy="690.14" r="2.45" fill="#3f5f8f"/>
<circle cx="301.49" cy="695.08" r="2.45" fill="#3f5f8f"/>
<circle cx="290.04" cy="699.75" r="2.45" fill="#dd4248"/>
<circle cx="303.25" cy="684.09" r="2.45" fill="#3f5f8f"/>
<circle cx="296.57" cy="693.50" r="2.45" fill="#dd4248"/>
<circle cx="305.91" cy="684.26" r="2.45" fill="#dd4248"/>
<circle cx="312.93" cy="696.57" r="2.45" fill="#3f5f8f"/>
<circle cx="325.83" cy="682.10" r="2.45" fill="#3f5f8f"/>
<circle cx="287.69" cy="698.72" r="2.45" fill="#3f5f8f"/>
<circle cx="288.07" cy="700.41" r="2.45" fill="#dd4248"/>
<circle cx="375.73" cy="661.11" r="2.45" fill="#dd4248"/>
<circle cx="308.88" cy="690.51" r="2.45" fill="#3f5f8f"/>
<circle cx="292.85" cy="690.46" r="2.45" fill="#dd4248"/>
<circle cx="313.60" cy="682.08" r="2.45" fill="#dd4248"/>
<circle cx="297.51" cy="691.92" r="2.45" fill="#dd4248"/>
<circle cx="302.78" cy="687.57" r="2.45" fill="#3f5f8f"/>
<circle cx="306.50" cy="676.52" r="2.45" fill="#dd4248"/>
<circle cx="281.34" cy="686.71" r="2.45" fill="#dd4248"/>
<circle cx="279.66" cy="700.67" r="2.45" fill="#3f5f8f"/>
<circle cx="303.46" cy="696.42" r="2.45" fill="#dd4248"/>
<circle cx="293.94" cy="689.12" r="2.45" fill="#dd4248"/>
<circle cx="285.55" cy="697.37" r="2.45" fill="#dd4248"/>
<circle cx="300.91" cy="696.55" r="2.45" fill="#3f5f8f"/>
<circle cx="276.53" cy="697.60" r="2.45" fill="#3f5f8f"/>
<circle cx="327.45" cy="680.10" r="2.45" fill="#3f5f8f"/>
<circle cx="280.47" cy="700.09" r="2.45" fill="#dd4248"/>
<circle cx="307.21" cy="691.88" r="2.45" fill="#dd4248"/>
<circle cx="283.16" cy="698.38" r="2.45" fill="#dd4248"/>
<circle cx="292.27" cy="685.43" r="2.45" fill="#dd4248"/>
<circle cx="296.28" cy="691.17" r="2.45" fill="#dd4248"/>
<circle cx="293.24" cy="690.65" r="2.45" fill="#dd4248"/>
<circle cx="293.13" cy="694.65" r="2.45" fill="#dd4248"/>
<circle cx="299.41" cy="689.57" r="2.45" fill="#dd4248"/>
<circle cx="293.34" cy="684.72" r="2.45" fill="#dd4248"/>
<circle cx="283.66" cy="696.44" r="2.45" fill="#3f5f8f"/>
<circle cx="297.06" cy="681.50" r="2.45" fill="#3f5f8f"/>
<circle cx="305.57" cy="683.83" r="2.45" fill="#3f5f8f"/>
<circle cx="295.96" cy="692.68" r="2.45" fill="#dd4248"/>
<circle cx="298.42" cy="689.73" r="2.45" fill="#dd4248"/>
<circle cx="325.93" cy="681.15" r="2.45" fill="#dd4248"/>
<circle cx="365.77" cy="671.09" r="2.45" fill="#dd4248"/>
<circle cx="314.78" cy="682.50" r="2.45" fill="#3f5f8f"/>
<circle cx="280.45" cy="699.51" r="2.45" fill="#dd4248"/>
<circle cx="293.38" cy="699.91" r="2.45" fill="#dd4248"/>
<circle cx="298.92" cy="676.38" r="2.45" fill="#dd4248"/>
<circle cx="329.81" cy="682.30" r="2.45" fill="#dd4248"/>
<circle cx="291.90" cy="696.22" r="2.45" fill="#dd4248"/>
<circle cx="281.05" cy="699.56" r="2.45" fill="#dd4248"/>
<circle cx="311.86" cy="695.55" r="2.45" fill="#3f5f8f"/>
<circle cx="304.57" cy="688.58" r="2.45" fill="#dd4248"/>
<circle cx="279.48" cy="702.07" r="2.45" fill="#3f5f8f"/>
<circle cx="316.56" cy="679.93" r="2.45" fill="#dd4248"/>
<circle cx="323.22" cy="687.06" r="2.45" fill="#dd4248"/>
<circle cx="292.03" cy="690.81" r="2.45" fill="#dd4248"/>
<circle cx="319.48" cy="689.41" r="2.45" fill="#dd4248"/>
<circle cx="268.08" cy="696.80" r="2.45" fill="#dd4248"/>
<circle cx="318.97" cy="684.25" r="2.45" fill="#dd4248"/>
<circle cx="299.10" cy="680.12" r="2.45" fill="#dd4248"/>
<circle cx="304.98" cy="697.48" r="2.45" fill="#dd4248"/>
<circle cx="319.45" cy="689.62" r="2.45" fill="#dd4248"/>
<circle cx="315.96" cy="697.00" r="2.45" fill="#dd4248"/>
<circle cx="305.15" cy="693.00" r="2.45" fill="#dd4248"/>
<circle cx="307.16" cy="688.13" r="2.45" fill="#3f5f8f"/>
<circle cx="299.74" cy="698.14" r="2.45" fill="#dd4248"/>
<circle cx="320.24" cy="688.48" r="2.45" fill="#dd4248"/>
<circle cx="308.78" cy="691.68" r="2.45" fill="#dd4248"/>
<circle cx="319.01" cy="678.44" r="2.45" fill="#dd4248"/>
<circle cx="369.38" cy="663.85" r="2.45" fill="#dd4248"/>
<circle cx="318.83" cy="701.81" r="2.45" fill="#3f5f8f"/>
<circle cx="345.13" cy="679.50" r="2.45" fill="#dd4248"/>
<circle cx="314.00" cy="681.46" r="2.45" fill="#3f5f8f"/>
<circle cx="282.03" cy="706.50" r="2.45" fill="#dd4248"/>
<circle cx="284.66" cy="694.42" r="2.45" fill="#dd4248"/>
<circle cx="354.00" cy="666.02" r="2.45" fill="#dd4248"/>
<circle cx="295.13" cy="697.67" r="2.45" fill="#dd4248"/>
<circle cx="291.37" cy="705.21" r="2.45" fill="#3f5f8f"/>
<circle cx="281.15" cy="690.84" r="2.45" fill="#3f5f8f"/>
<circle cx="288.52" cy="694.20" r="2.45" fill="#dd4248"/>
<circle cx="304.55" cy="678.60" r="2.45" fill="#dd4248"/>
<circle cx="309.09" cy="688.54" r="2.45" fill="#dd4248"/>
<circle cx="280.19" cy="693.45" r="2.45" fill="#dd4248"/>
<circle cx="270.26" cy="710.63" r="2.45" fill="#dd4248"/>
<circle cx="360.60" cy="667.63" r="2.45" fill="#dd4248"/>
<circle cx="273.60" cy="694.62" r="2.45" fill="#dd4248"/>
<circle cx="281.01" cy="693.03" r="2.45" fill="#dd4248"/>
<circle cx="281.54" cy="684.91" r="2.45" fill="#3f5f8f"/>
<circle cx="292.12" cy="687.15" r="2.45" fill="#3f5f8f"/>
<circle cx="303.00" cy="693.03" r="2.45" fill="#dd4248"/>
<circle cx="317.26" cy="682.90" r="2.45" fill="#dd4248"/>
<circle cx="311.24" cy="688.74" r="2.45" fill="#3f5f8f"/>
<circle cx="291.13" cy="701.34" r="2.45" fill="#3f5f8f"/>
<circle cx="302.96" cy="703.44" r="2.45" fill="#dd4248"/>
<circle cx="281.83" cy="695.73" r="2.45" fill="#dd4248"/>
<circle cx="358.47" cy="670.28" r="2.45" fill="#dd4248"/>
<circle cx="284.50" cy="694.07" r="2.45" fill="#3f5f8f"/>
<circle cx="296.86" cy="688.44" r="2.45" fill="#dd4248"/>
<circle cx="354.79" cy="672.69" r="2.45" fill="#dd4248"/>
<circle cx="358.94" cy="674.84" r="2.45" fill="#dd4248"/>
<circle cx="291.05" cy="701.18" r="2.45" fill="#3f5f8f"/>
<circle cx="297.91" cy="696.15" r="2.45" fill="#dd4248"/>
<circle cx="306.73" cy="684.55" r="2.45" fill="#dd4248"/>
<circle cx="304.92" cy="685.87" r="2.45" fill="#3f5f8f"/>
<circle cx="315.55" cy="679.38" r="2.45" fill="#dd4248"/>
<circle cx="351.97" cy="674.54" r="2.45" fill="#dd4248"/>
<circle cx="313.12" cy="678.73" r="2.45" fill="#dd4248"/>
<circle cx="282.68" cy="701.82" r="2.45" fill="#3f5f8f"/>
<circle cx="307.19" cy="685.22" r="2.45" fill="#dd4248"/>
<circle cx="306.25" cy="690.99" r="2.45" fill="#3f5f8f"/>
<circle cx="273.04" cy="709.92" r="2.45" fill="#3f5f8f"/>
<circle cx="298.78" cy="695.62" r="2.45" fill="#dd4248"/>
<circle cx="294.51" cy="691.57" r="2.45" fill="#dd4248"/>
<circle cx="304.37" cy="693.50" r="2.45" fill="#dd4248"/>
<circle cx="301.64" cy="690.23" r="2.45" fill="#dd4248"/>
<circle cx="292.20" cy="682.40" r="2.45" fill="#dd4248"/>
<circle cx="375.99" cy="663.90" r="2.45" fill="#dd4248"/>
<circle cx="317.36" cy="683.77" r="2.45" fill="#dd4248"/>
<circle cx="277.80" cy="687.81" r="2.45" fill="#dd4248"/>
<circle cx="312.79" cy="679.37" r="2.45" fill="#3f5f8f"/>
<circle cx="313.86" cy="694.17" r="2.45" fill="#3f5f8f"/>
<circle cx="284.68" cy="703.25" r="2.45" fill="#3f5f8f"/>
<circle cx="323.89" cy="680.40" r="2.45" fill="#dd4248"/>
<circle cx="301.35" cy="694.22" r="2.45" fill="#dd4248"/>
<circle cx="307.90" cy="694.47" r="2.45" fill="#dd4248"/>
<circle cx="294.42" cy="679.74" r="2.45" fill="#dd4248"/>
<circle cx="301.65" cy="708.75" r="2.45" fill="#3f5f8f"/>
<circle cx="327.03" cy="684.80" r="2.45" fill="#dd4248"/>
<circle cx="302.00" cy="690.05" r="2.45" fill="#3f5f8f"/>
<circle cx="283.18" cy="692.48" r="2.45" fill="#3f5f8f"/>
<circle cx="301.90" cy="698.71" r="2.45" fill="#dd4248"/>
<circle cx="311.67" cy="684.66" r="2.45" fill="#3f5f8f"/>
<circle cx="283.68" cy="687.28" r="2.45" fill="#dd4248"/>
<circle cx="314.33" cy="685.63" r="2.45" fill="#dd4248"/>
<circle cx="376.93" cy="669.38" r="2.45" fill="#dd4248"/>
<circle cx="275.28" cy="702.10" r="2.45" fill="#3f5f8f"/>
<circle cx="424.50" cy="658.20" r="2.45" fill="#dd4248"/>
<circle cx="349.20" cy="649.60" r="2.45" fill="#dd4248"/>
<circle cx="365.40" cy="650.50" r="2.45" fill="#dd4248"/>
<circle cx="332.00" cy="656.60" r="2.45" fill="#dd4248"/>
<circle cx="364.90" cy="668.90" r="2.45" fill="#dd4248"/>
<circle cx="320.00" cy="670.00" r="2.45" fill="#dd4248"/>
<circle cx="341.00" cy="685.50" r="2.45" fill="#dd4248"/>
<path d="M269.30,703.30 C271.70,702.17 278.77,698.63 283.70,696.50 C288.63,694.37 293.85,692.03 298.90,690.50 C303.95,688.97 309.58,688.35 314.00,687.30 C318.42,686.25 320.33,686.28 325.40,684.20 C330.47,682.12 337.43,677.82 344.40,674.80 C351.37,671.78 358.98,668.82 367.20,666.10 C375.42,663.38 384.35,661.22 393.70,658.50 C403.05,655.78 418.37,651.25 423.30,649.80" fill="none" stroke="#000" stroke-width="3.2" stroke-linecap="round"/>
</g>
<rect x="260.10" y="635.00" width="171.60" height="74.80" fill="none" stroke="#222" stroke-width="1"/>
<text x="426.80" y="606.60" font-size="7.2" text-anchor="end" dominant-baseline="central" fill="#111">rho=0.728</text>
<text x="426.80" y="615.00" font-size="7.2" text-anchor="end" dominant-baseline="central" fill="#111">p&lt;0.0001</text>
<text x="426.80" y="693.90" font-size="7.2" text-anchor="end" dominant-baseline="central" fill="#111">rho=0.679</text>
<text x="426.80" y="703.00" font-size="7.2" text-anchor="end" dominant-baseline="central" fill="#111">p&lt;0.0001</text>
<circle cx="446.60" cy="560.40" r="3.6" fill="#3f5f8f"/>
<text x="456.40" y="560.30" font-size="8.7" text-anchor="start" dominant-baseline="central" fill="#222">shrinking clusters</text>
<circle cx="446.60" cy="573.30" r="3.6" fill="#dd4248"/>
<text x="456.40" y="573.10" font-size="8.7" text-anchor="start" dominant-baseline="central" fill="#222">expanding clusters</text>
</svg></body></html>
